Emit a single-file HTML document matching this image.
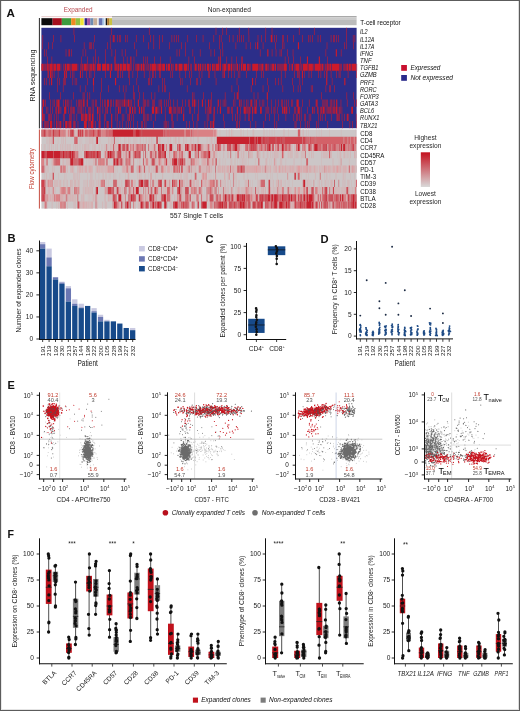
<!DOCTYPE html>
<html><head><meta charset="utf-8"><style>html,body{margin:0;padding:0;background:#fff;}svg{display:block;filter:blur(0.4px);}text{font-family:"Liberation Sans",sans-serif;}</style></head>
<body><svg width="520" height="711" viewBox="0 0 520 711">
<rect x="0" y="0" width="520" height="711" fill="#fff"/>
<text x="6.6" y="16.6" font-size="11.6" fill="#111" font-weight="bold">A</text>
<text x="63.8" y="12.1" font-size="7.2" fill="#b8474d" textLength="28.7" lengthAdjust="spacingAndGlyphs">Expanded</text>
<text x="207.8" y="12.3" font-size="7.2" fill="#1a1a1a" textLength="43" lengthAdjust="spacingAndGlyphs">Non-expanded</text>
<rect x="41.4" y="16" width="71.6" height="1.2" fill="#ead2d2"/>
<rect x="112" y="16" width="244.6" height="1.3" fill="#a9a9a9"/>
<rect x="112" y="17.3" width="244.6" height="2" fill="#cbcbcb"/>
<rect x="112" y="19.3" width="244.6" height="5.9" fill="#bcbcbc"/>
<rect x="41.4" y="18.2" width="11.25" height="7" fill="#0b0b0b"/>
<rect x="52.6" y="18.2" width="9.25" height="7" fill="#a50f1e"/>
<rect x="61.8" y="18.2" width="9.45" height="7" fill="#3d9b3f"/>
<rect x="71.2" y="18.2" width="4.55" height="7" fill="#ef8a22"/>
<rect x="75.7" y="18.2" width="4.65" height="7" fill="#8fc043"/>
<rect x="80.3" y="18.2" width="3.55" height="7" fill="#f1e433"/>
<rect x="83.8" y="18.2" width="0.85" height="7" fill="#e9e6ee"/>
<rect x="84.6" y="18.2" width="2.55" height="7" fill="#2e2a86"/>
<rect x="87.1" y="18.2" width="3.25" height="7" fill="#a452a2"/>
<rect x="90.3" y="18.2" width="3.15" height="7" fill="#6d8cb1"/>
<rect x="93.4" y="18.2" width="3.85" height="7" fill="#c6ad98"/>
<rect x="97.2" y="18.2" width="1.65" height="7" fill="#e6e6e6"/>
<rect x="98.8" y="18.2" width="3.85" height="7" fill="#6571b2"/>
<rect x="102.6" y="18.2" width="2.05" height="7" fill="#a9c9e9"/>
<rect x="104.6" y="18.2" width="1.15" height="7" fill="#efefef"/>
<rect x="105.7" y="18.2" width="1.55" height="7" fill="#141414"/>
<rect x="107.2" y="18.2" width="2.35" height="7" fill="#b27a2a"/>
<rect x="109.5" y="18.2" width="2.55" height="7" fill="#c9c243"/>
<text x="360.3" y="24.6" font-size="6.6" fill="#111" textLength="40.3" lengthAdjust="spacingAndGlyphs">T-cell receptor</text>
<rect x="41.4" y="27.8" width="315.2" height="100.4" fill="#2c2e89"/>
<text x="360" y="34.39" font-size="6.5" fill="#111" font-style="italic" textLength="7.6" lengthAdjust="spacingAndGlyphs">IL2</text>
<text x="360" y="41.56" font-size="6.5" fill="#111" font-style="italic" textLength="14.4" lengthAdjust="spacingAndGlyphs">IL12A</text>
<text x="360" y="48.73" font-size="6.5" fill="#111" font-style="italic" textLength="14.4" lengthAdjust="spacingAndGlyphs">IL17A</text>
<text x="360" y="55.9" font-size="6.5" fill="#111" font-style="italic" textLength="13.2" lengthAdjust="spacingAndGlyphs">IFNG</text>
<text x="360" y="63.07" font-size="6.5" fill="#111" font-style="italic" textLength="11.5" lengthAdjust="spacingAndGlyphs">TNF</text>
<text x="360" y="70.24" font-size="6.5" fill="#111" font-style="italic" textLength="18.4" lengthAdjust="spacingAndGlyphs">TGFB1</text>
<text x="360" y="77.41" font-size="6.5" fill="#111" font-style="italic" textLength="16.7" lengthAdjust="spacingAndGlyphs">GZMB</text>
<text x="360" y="84.59" font-size="6.5" fill="#111" font-style="italic" textLength="14.5" lengthAdjust="spacingAndGlyphs">PRF1</text>
<text x="360" y="91.76" font-size="6.5" fill="#111" font-style="italic" textLength="16.7" lengthAdjust="spacingAndGlyphs">RORC</text>
<text x="360" y="98.93" font-size="6.5" fill="#111" font-style="italic" textLength="18.8" lengthAdjust="spacingAndGlyphs">FOXP3</text>
<text x="360" y="106.1" font-size="6.5" fill="#111" font-style="italic" textLength="17.8" lengthAdjust="spacingAndGlyphs">GATA3</text>
<text x="360" y="113.27" font-size="6.5" fill="#111" font-style="italic" textLength="14.2" lengthAdjust="spacingAndGlyphs">BCL6</text>
<text x="360" y="120.44" font-size="6.5" fill="#111" font-style="italic" textLength="19.4" lengthAdjust="spacingAndGlyphs">RUNX1</text>
<text x="360" y="127.61" font-size="6.5" fill="#111" font-style="italic" textLength="17.5" lengthAdjust="spacingAndGlyphs">TBX21</text>
<path stroke="#cd1a2a" stroke-width="7.17" fill="none" d="M73.66 31.39h0.57m36.78 0h0.57m37.35 0h0.57m66.21 0h0.57m6.22 0h0.57m3.4 0h0.57m11.88 0h0.57m9.05 0h0.57m16.41 0h0.57m5.66 0h0.57m26.6 0h0.57m14.71 0h0.57m31.69 0h0.57M42.53 38.56h0.57m10.19 0h0.57m6.79 0h0.57m13.02 0h0.57m19.24 0h0.57m15.28 0h0.57m2.26 0h1.13m0.57 0h0.57m2.26 0h0.57m1.13 0h0.57m0.57 0h0.57m4.53 0h0.57m1.13 0h0.57m8.49 0h0.57m6.79 0h0.57m6.22 0h0.57m2.83 0h0.57m5.09 0h0.57m2.26 0h0.57m9.05 0h0.57m1.7 0h0.57m1.7 0h0.57m1.7 0h0.57m8.49 0h0.57m7.92 0h0.57m6.22 0h0.57m10.19 0h0.57m5.09 0h0.57m1.13 0h0.57m7.92 0h0.57m2.83 0h0.57m3.96 0h0.57m1.13 0h0.57m1.7 0h0.57m1.13 0h0.57m5.09 0h0.57m8.49 0h0.57m2.83 0h0.57m3.4 0h0.57m5.09 0h1.7m1.7 0h0.57m1.7 0h0.57m5.09 0h0.57m0.57 0h0.57m3.4 0h0.57m5.66 0h0.57m8.49 0h0.57m5.09 0h0.57m1.13 0h0.57m1.7 0h0.57m5.09 0h0.57m1.7 0h0.57m10.19 0h0.57m1.7 0h0.57m0.57 0h0.57m1.7 0h0.57m1.13 0h0.57m7.36 0h0.57m6.22 0h0.57m1.13 0h0.57M41.97 45.73h0.57m5.66 0h0.57m3.4 0h0.57m31.12 0h0.57m4.53 0h0.57m0.57 0h0.57m0.57 0h0.57m1.13 0h0.57m13.58 0h0.57m2.83 0h0.57m23.2 0h0.57m13.58 0h0.57m4.53 0h0.57m5.09 0h0.57m9.62 0h0.57m11.32 0h0.57m3.4 0h0.57m23.2 0h0.57m9.62 0h0.57m2.26 0h0.57m13.02 0h0.57m9.62 0h0.57m3.96 0h0.57m4.53 0h0.57m1.13 0h1.13m4.53 0h0.57m11.88 0h0.57m6.22 0h0.57m1.13 0h0.57m13.58 0h1.13m27.73 0h0.57m16.98 0h0.57m1.13 0h0.57m6.79 0h0.57M44.23 52.9h0.57m1.13 0h0.57m19.24 0h0.57m2.26 0h1.13m1.7 0h0.57m10.75 0h0.57m2.26 0h0.57m9.05 0h0.57m9.62 0h0.57m5.66 0h0.57m2.83 0h0.57m6.22 0h0.57m2.83 0h0.57m10.75 0h0.57m39.61 0h0.57m1.7 0h0.57m5.66 0h0.57m6.79 0h0.57m6.79 0h0.57m10.19 0h0.57m2.83 0h0.57m5.66 0h0.57m1.7 0h0.57m36.78 0h0.57m6.79 0h1.13m3.4 0h0.57m3.4 0h0.57m3.4 0h0.57m1.13 0h0.57m5.09 0h0.57m5.09 0h0.57m32.26 0h0.57m9.62 0h1.13m3.96 0h0.57M47.06 60.07h0.57m3.96 0h0.57m28.86 0h0.57m5.66 0h0.57m5.09 0h0.57m1.7 0h0.57m2.26 0h0.57m6.79 0h0.57m8.49 0h1.13m7.92 0h0.57m2.83 0h0.57m2.83 0h1.13m2.26 0h0.57m9.05 0h0.57m1.7 0h0.57m1.13 0h0.57m6.22 0h0.57m5.66 0h0.57m9.05 0h0.57m18.11 0h0.57m5.09 0h0.57m23.2 0h0.57m1.13 0h1.13m5.66 0h0.57m4.53 0h0.57m3.96 0h0.57m4.53 0h0.57m0.57 0h0.57m41.88 0h0.57m2.83 0h0.57m4.53 0h0.57m6.22 0h0.57m6.22 0h1.13m10.75 0h1.13m7.36 0h0.57M41.4 67.24h2.26m0.57 0h0.57m0.57 0h1.13m0.57 0h1.7m0.57 0h3.4m0.57 0h2.83m0.57 0h3.4m0.57 0h0.57m1.7 0h0.57m1.13 0h1.7m0.57 0h2.83m0.57 0h0.57m0.57 0h5.66m0.57 0h0.57m1.7 0h0.57m0.57 0h0.57m0.57 0h1.13m0.57 0h2.83m0.57 0h1.13m0.57 0h0.57m0.57 0h1.7m0.57 0h2.26m0.57 0h0.57m1.13 0h3.96m1.13 0h3.96m0.57 0h2.83m1.13 0h1.7m1.7 0h0.57m0.57 0h1.7m0.57 0h1.7m0.57 0h2.26m0.57 0h3.96m0.57 0h2.83m0.57 0h1.13m1.7 0h0.57m1.13 0h0.57m0.57 0h0.57m0.57 0h1.7m0.57 0h0.57m0.57 0h1.7m0.57 0h1.7m1.13 0h0.57m0.57 0h0.57m0.57 0h0.57m1.13 0h1.13m0.57 0h4.53m0.57 0h1.13m0.57 0h3.4m0.57 0h2.83m1.13 0h1.13m0.57 0h2.26m1.13 0h1.13m0.57 0h0.57m1.7 0h2.26m1.13 0h3.96m1.13 0h3.4m0.57 0h1.13m1.7 0h1.13m2.26 0h0.57m0.57 0h1.7m1.13 0h1.13m0.57 0h1.7m1.13 0h1.13m1.13 0h1.13m1.13 0h2.26m0.57 0h1.13m1.13 0h1.7m0.57 0h1.13m0.57 0h3.4m0.57 0h1.13m1.13 0h0.57m0.57 0h2.83m0.57 0h0.57m0.57 0h2.26m0.57 0h1.7m1.13 0h0.57m0.57 0h0.57m0.57 0h0.57m0.57 0h1.13m1.13 0h0.57m1.13 0h1.13m0.57 0h3.4m1.13 0h1.7m0.57 0h0.57m0.57 0h0.57m1.13 0h6.22m0.57 0h0.57m0.57 0h0.57m0.57 0h1.7m0.57 0h0.57m1.13 0h2.26m0.57 0h0.57m1.13 0h0.57m0.57 0h0.57m0.57 0h2.26m0.57 0h1.13m1.13 0h0.57m0.57 0h0.57m0.57 0h1.13m0.57 0h0.57m0.57 0h0.57m0.57 0h3.4m2.26 0h0.57m1.13 0h0.57m0.57 0h1.13m1.13 0h0.57m0.57 0h3.96m0.57 0h0.57m0.57 0h0.57m1.13 0h5.09m0.57 0h4.53m0.57 0h0.57m0.57 0h6.22m0.57 0h1.7m0.57 0h0.57m1.13 0h1.13m0.57 0h1.7m0.57 0h1.7m0.57 0h7.92m0.57 0h0.57m0.57 0h0.57m1.7 0h1.13m0.57 0h0.57m0.57 0h1.7m0.57 0h2.26m0.57 0h4.53m0.57 0h0.57M47.62 74.41h1.13m1.13 0h1.7m0.57 0h0.57m1.13 0h0.57m3.4 0h0.57m5.66 0h1.13m0.57 0h1.13m3.4 0h0.57m1.13 0h0.57m1.13 0h0.57m5.66 0h1.13m1.13 0h0.57m3.4 0h0.57m2.26 0h0.57m1.13 0h0.57m2.83 0h0.57m10.75 0h0.57m3.96 0h1.13m6.22 0h0.57m0.57 0h0.57m1.13 0h0.57m1.7 0h0.57m5.09 0h0.57m0.57 0h0.57m2.83 0h0.57m3.96 0h0.57m6.22 0h0.57m5.09 0h0.57m2.26 0h1.13m1.7 0h0.57m3.4 0h0.57m0.57 0h0.57m9.62 0h0.57m1.13 0h0.57m6.79 0h0.57m5.09 0h0.57m3.4 0h0.57m1.7 0h0.57m6.79 0h0.57m2.26 0h0.57m6.22 0h1.13m5.09 0h0.57m7.36 0h0.57m0.57 0h1.13m3.4 0h0.57m2.26 0h0.57m2.26 0h0.57m3.4 0h0.57m1.13 0h0.57m6.22 0h0.57m9.05 0h0.57m4.53 0h0.57m1.7 0h0.57m16.98 0h0.57m3.4 0h0.57m8.49 0h0.57m2.83 0h1.13m0.57 0h0.57m2.26 0h1.13m1.13 0h0.57m3.96 0h0.57m1.7 0h0.57m6.79 0h0.57m1.7 0h0.57m2.83 0h0.57m1.7 0h1.13m3.4 0h0.57m5.09 0h0.57m1.7 0h0.57m0.57 0h0.57m7.36 0h0.57m7.92 0h0.57M44.23 81.59h0.57m1.13 0h0.57m2.83 0h0.57m1.13 0h1.13m5.09 0h0.57m1.13 0h0.57m3.96 0h1.13m0.57 0h0.57m6.79 0h0.57m1.7 0h0.57m1.13 0h0.57m10.19 0h0.57m5.09 0h1.13m7.36 0h0.57m13.02 0h1.13m13.02 0h0.57m6.79 0h0.57m11.32 0h1.13m1.7 0h0.57m10.19 0h0.57m1.7 0h0.57m15.28 0h0.57m1.13 0h0.57m7.92 0h0.57m5.09 0h0.57m0.57 0h0.57m2.83 0h0.57m14.71 0h0.57m20.37 0h0.57m14.71 0h1.13m2.26 0h0.57m11.32 0h0.57m7.36 0h0.57m2.26 0h0.57m2.26 0h0.57m10.75 0h0.57m6.79 0h0.57m2.26 0h0.57m23.2 0h1.13m4.53 0h0.57m11.88 0h1.13M57.24 88.76h0.57m5.09 0h0.57m16.41 0h0.57m5.09 0h0.57m7.36 0h0.57m7.36 0h0.57m6.22 0h0.57m10.19 0h0.57m3.4 0h0.57m2.26 0h0.57m6.79 0h0.57m4.53 0h0.57m19.81 0h0.57m2.83 0h0.57m1.7 0h0.57m0.57 0h0.57m20.94 0h0.57m44.14 0h0.57m6.22 0h0.57m11.88 0h0.57m11.32 0h0.57m5.09 0h0.57m13.58 0h0.57m10.19 0h0.57m3.96 0h0.57m1.7 0h0.57m10.19 0h0.57m0.57 0h0.57m13.02 0h0.57m2.83 0h0.57m0.57 0h0.57m3.4 0h0.57M49.32 95.93h0.57m10.19 0h0.57m12.45 0h0.57m9.05 0h0.57m0.57 0h0.57m2.83 0h0.57m1.7 0h0.57m10.19 0h0.57m23.77 0h0.57m7.92 0h0.57m0.57 0h0.57m4.53 0h0.57m3.4 0h0.57m7.36 0h0.57m2.83 0h0.57m14.15 0h0.57m22.07 0h0.57m1.13 0h0.57m9.05 0h0.57m7.36 0h0.57m13.02 0h0.57m9.05 0h0.57m1.7 0h1.13m0.57 0h0.57m14.71 0h0.57m3.4 0h0.57m8.49 0h1.13m53.19 0h0.57m24.9 0h0.57m6.22 0h0.57M42.53 103.1h1.7m1.13 0h0.57m4.53 0h0.57m1.7 0h0.57m1.13 0h0.57m1.13 0h0.57m0.57 0h2.26m3.4 0h0.57m1.7 0h1.13m1.13 0h0.57m0.57 0h0.57m1.7 0h0.57m5.09 0h0.57m1.13 0h0.57m0.57 0h1.13m0.57 0h0.57m1.13 0h1.13m0.57 0h0.57m1.7 0h1.13m3.96 0h0.57m1.13 0h0.57m1.13 0h0.57m0.57 0h0.57m3.4 0h0.57m1.13 0h0.57m1.7 0h0.57m0.57 0h0.57m1.13 0h1.7m1.13 0h0.57m0.57 0h0.57m1.7 0h0.57m1.7 0h1.13m0.57 0h0.57m0.57 0h0.57m0.57 0h0.57m0.57 0h0.57m1.13 0h0.57m0.57 0h1.7m0.57 0h0.57m1.13 0h1.7m0.57 0h0.57m0.57 0h0.57m2.83 0h0.57m2.83 0h1.13m3.96 0h0.57m0.57 0h0.57m0.57 0h0.57m1.13 0h0.57m1.13 0h0.57m2.83 0h0.57m0.57 0h0.57m0.57 0h0.57m3.96 0h0.57m1.13 0h1.13m2.83 0h0.57m1.13 0h0.57m1.7 0h0.57m1.13 0h0.57m2.83 0h0.57m2.83 0h0.57m4.53 0h0.57m2.83 0h0.57m2.26 0h0.57m0.57 0h0.57m2.26 0h1.13m0.57 0h1.13m0.57 0h0.57m2.26 0h0.57m2.83 0h1.13m2.26 0h0.57m2.26 0h1.13m1.13 0h0.57m0.57 0h0.57m5.66 0h1.13m1.7 0h0.57m1.7 0h0.57m1.13 0h0.57m0.57 0h0.57m6.79 0h0.57m1.13 0h0.57m3.96 0h1.13m1.13 0h0.57m1.7 0h0.57m1.7 0h0.57m1.13 0h0.57m1.7 0h0.57m0.57 0h1.13m2.26 0h0.57m0.57 0h1.13m2.83 0h0.57m1.7 0h0.57m1.13 0h0.57m2.83 0h0.57m3.4 0h0.57m3.96 0h0.57m2.26 0h0.57m2.26 0h0.57m0.57 0h0.57m1.7 0h0.57m1.13 0h0.57m1.13 0h0.57m2.83 0h0.57m0.57 0h0.57m3.4 0h2.26m3.4 0h0.57m6.22 0h0.57m6.22 0h1.13m0.57 0h0.57m4.53 0h0.57m0.57 0h0.57m0.57 0h0.57m0.57 0h0.57m0.57 0h0.57m2.26 0h0.57m0.57 0h0.57m1.13 0h0.57m1.13 0h0.57m1.13 0h1.13m3.4 0h0.57m5.66 0h0.57m6.79 0h0.57m1.13 0h0.57M41.97 110.27h1.13m2.83 0h0.57m1.13 0h0.57m2.26 0h0.57m1.13 0h0.57m2.83 0h1.13m1.13 0h1.13m0.57 0h0.57m0.57 0h0.57m2.83 0h2.26m1.7 0h0.57m1.7 0h0.57m0.57 0h0.57m0.57 0h1.13m0.57 0h0.57m2.83 0h0.57m0.57 0h0.57m1.13 0h1.13m1.13 0h0.57m1.7 0h0.57m2.83 0h1.13m0.57 0h0.57m1.13 0h0.57m0.57 0h0.57m3.4 0h1.13m0.57 0h0.57m0.57 0h0.57m2.26 0h0.57m2.26 0h0.57m0.57 0h1.13m2.26 0h0.57m5.09 0h0.57m1.7 0h1.13m0.57 0h1.13m5.09 0h0.57m2.83 0h1.7m1.13 0h1.13m1.13 0h0.57m0.57 0h0.57m2.83 0h1.13m1.13 0h1.13m1.13 0h1.13m7.36 0h2.26m1.13 0h2.26m1.13 0h0.57m1.7 0h1.13m2.83 0h0.57m3.4 0h2.83m1.13 0h0.57m0.57 0h0.57m0.57 0h0.57m1.13 0h0.57m0.57 0h0.57m0.57 0h0.57m1.13 0h1.13m1.7 0h0.57m5.09 0h0.57m0.57 0h0.57m3.4 0h0.57m3.4 0h0.57m6.22 0h0.57m1.13 0h0.57m1.13 0h1.13m0.57 0h1.13m2.26 0h1.13m2.26 0h0.57m2.26 0h1.13m6.22 0h0.57m0.57 0h1.13m1.7 0h0.57m0.57 0h0.57m3.96 0h1.13m2.26 0h0.57m2.83 0h2.26m0.57 0h1.13m0.57 0h0.57m0.57 0h1.13m1.7 0h1.13m1.13 0h2.26m3.4 0h1.7m3.96 0h0.57m0.57 0h0.57m1.13 0h0.57m2.26 0h0.57m1.7 0h0.57m0.57 0h0.57m1.7 0h0.57m4.53 0h1.13m0.57 0h1.7m0.57 0h1.13m1.7 0h0.57m4.53 0h0.57m0.57 0h0.57m1.13 0h0.57m0.57 0h1.7m1.13 0h0.57m5.66 0h0.57m4.53 0h1.13m1.13 0h0.57m2.26 0h1.13m1.7 0h0.57m0.57 0h1.13m0.57 0h1.7m1.13 0h0.57m1.13 0h1.13m0.57 0h0.57m0.57 0h1.13m1.13 0h1.13m0.57 0h1.13m0.57 0h1.13m0.57 0h0.57m1.13 0h1.13m1.13 0h0.57m9.05 0h1.7M41.97 117.44h1.7m0.57 0h0.57m3.4 0h0.57m0.57 0h1.13m0.57 0h0.57m2.26 0h0.57m1.7 0h0.57m1.13 0h0.57m4.53 0h0.57m0.57 0h0.57m4.53 0h0.57m0.57 0h0.57m0.57 0h0.57m1.7 0h0.57m2.26 0h0.57m3.96 0h1.7m0.57 0h1.13m0.57 0h2.26m0.57 0h0.57m0.57 0h1.7m1.13 0h1.7m3.4 0h0.57m1.7 0h1.13m3.96 0h0.57m0.57 0h0.57m5.09 0h1.13m3.4 0h0.57m1.13 0h0.57m3.96 0h0.57m1.13 0h0.57m3.4 0h0.57m0.57 0h1.13m1.13 0h0.57m1.7 0h0.57m9.62 0h1.13m1.13 0h0.57m1.13 0h0.57m0.57 0h0.57m1.7 0h0.57m3.96 0h0.57m9.05 0h0.57m5.66 0h0.57m0.57 0h0.57m3.96 0h0.57m5.66 0h1.13m7.92 0h0.57m4.53 0h0.57m0.57 0h0.57m7.92 0h0.57m1.13 0h0.57m3.96 0h0.57m0.57 0h0.57m8.49 0h0.57m8.49 0h0.57m2.26 0h0.57m1.7 0h0.57m1.7 0h0.57m4.53 0h0.57m2.83 0h0.57m0.57 0h0.57m2.26 0h0.57m12.45 0h0.57m3.4 0h0.57m4.53 0h0.57m3.4 0h0.57m6.79 0h0.57m7.36 0h0.57m2.26 0h0.57m0.57 0h0.57m1.13 0h0.57m1.13 0h0.57m2.83 0h0.57m0.57 0h0.57m2.83 0h0.57m1.13 0h0.57m7.36 0h0.57m1.13 0h0.57m1.13 0h0.57m2.83 0h0.57m5.09 0h0.57m5.09 0h1.13m0.57 0h0.57m0.57 0h0.57m1.7 0h0.57m1.7 0h0.57m2.26 0h1.13m0.57 0h0.57m6.79 0h0.57M41.97 124.61h0.57m1.7 0h0.57m0.57 0h1.13m0.57 0h0.57m0.57 0h0.57m1.13 0h2.26m1.7 0h0.57m1.7 0h1.13m0.57 0h0.57m0.57 0h0.57m0.57 0h1.13m1.7 0h0.57m1.7 0h2.26m0.57 0h0.57m0.57 0h2.26m1.7 0h0.57m0.57 0h1.13m2.26 0h0.57m5.66 0h2.83m1.7 0h0.57m0.57 0h0.57m0.57 0h2.26m0.57 0h0.57m1.13 0h0.57m2.83 0h1.13m0.57 0h0.57m3.4 0h0.57m1.7 0h1.13m0.57 0h0.57m2.26 0h1.13m4.53 0h0.57m2.26 0h0.57m2.26 0h0.57m2.83 0h0.57m1.7 0h0.57m1.7 0h0.57m2.26 0h0.57m3.4 0h0.57m3.4 0h0.57m0.57 0h0.57m1.13 0h0.57m1.13 0h0.57m6.79 0h0.57m10.19 0h0.57m0.57 0h0.57m0.57 0h0.57m1.13 0h0.57m3.4 0h0.57m0.57 0h0.57m13.02 0h0.57m2.26 0h0.57m3.4 0h0.57m2.83 0h0.57m7.36 0h0.57m1.7 0h0.57m2.83 0h1.13m1.13 0h1.7m9.62 0h0.57m11.88 0h0.57m0.57 0h0.57m1.13 0h0.57m10.19 0h0.57m5.09 0h0.57m7.36 0h0.57m10.19 0h0.57m1.7 0h0.57m17.54 0h0.57m0.57 0h0.57m3.96 0h0.57m3.96 0h0.57m1.7 0h0.57m1.13 0h0.57m6.79 0h0.57m1.13 0h0.57m9.05 0h0.57m14.15 0h0.57m6.79 0h0.57m2.26 0h0.57m3.4 0h0.57"/>
<rect x="401.2" y="65" width="5.7" height="5.8" fill="#c8102e"/>
<text x="410.4" y="70.3" font-size="6.6" fill="#111" font-style="italic" textLength="30" lengthAdjust="spacingAndGlyphs">Expressed</text>
<rect x="401.2" y="75" width="5.7" height="5.8" fill="#2a2a8a"/>
<text x="410.4" y="80.3" font-size="6.6" fill="#111" font-style="italic" textLength="42.6" lengthAdjust="spacingAndGlyphs">Not expressed</text>
<text x="360.2" y="136.1" font-size="6.5" fill="#111" textLength="12.3" lengthAdjust="spacingAndGlyphs">CD8</text>
<text x="360.2" y="143.29" font-size="6.5" fill="#111" textLength="12.3" lengthAdjust="spacingAndGlyphs">CD4</text>
<text x="360.2" y="150.48" font-size="6.5" fill="#111" textLength="16.6" lengthAdjust="spacingAndGlyphs">CCR7</text>
<text x="360.2" y="157.67" font-size="6.5" fill="#111" textLength="24.2" lengthAdjust="spacingAndGlyphs">CD45RA</text>
<text x="360.2" y="164.86" font-size="6.5" fill="#111" textLength="15.6" lengthAdjust="spacingAndGlyphs">CD57</text>
<text x="360.2" y="172.05" font-size="6.5" fill="#111" textLength="14" lengthAdjust="spacingAndGlyphs">PD-1</text>
<text x="360.2" y="179.24" font-size="6.5" fill="#111" textLength="15.9" lengthAdjust="spacingAndGlyphs">TIM-3</text>
<text x="360.2" y="186.43" font-size="6.5" fill="#111" textLength="15.6" lengthAdjust="spacingAndGlyphs">CD39</text>
<text x="360.2" y="193.62" font-size="6.5" fill="#111" textLength="15.6" lengthAdjust="spacingAndGlyphs">CD38</text>
<text x="360.2" y="200.81" font-size="6.5" fill="#111" textLength="15.5" lengthAdjust="spacingAndGlyphs">BTLA</text>
<text x="360.2" y="208" font-size="6.5" fill="#111" textLength="15.6" lengthAdjust="spacingAndGlyphs">CD28</text>
<rect x="41.4" y="129.5" width="315.2" height="79.1" fill="rgb(204,198,199)"/>
<path stroke="rgb(210,185,186)" stroke-width="7.19" fill="none" d="M65.73 133.1h0.57m8.49 0h2.83m139.77 0h0.57m1.7 0h0.57m6.22 0h0.57m1.7 0h1.13m1.13 0h1.13m0.57 0h0.57m6.79 0h0.57m0.57 0h0.57m1.7 0h0.57m3.4 0h0.57m4.53 0h1.7m9.05 0h0.57m0.57 0h0.57m1.7 0h0.57m2.26 0h0.57m1.7 0h0.57m1.7 0h0.57m8.49 0h0.57m0.57 0h0.57m3.4 0h0.57m11.32 0h0.57m1.7 0h1.7m2.26 0h0.57m1.13 0h0.57m7.92 0h0.57m1.7 0h0.57m1.7 0h0.57m7.36 0h0.57m11.32 0h0.57m14.15 0h0.57M46.49 140.29h1.13m1.7 0h1.7m0.57 0h0.57m5.66 0h0.57m2.83 0h1.13m0.57 0h1.13m15.28 0h0.57m0.57 0h0.57m0.57 0h0.57m3.4 0h0.57m0.57 0h0.57m0.57 0h0.57m1.7 0h0.57m0.57 0h1.7m0.57 0h0.57m1.13 0h0.57m2.83 0h0.57m0.57 0h0.57m7.92 0h1.13m1.13 0h2.26m2.83 0h0.57m0.57 0h0.57m0.57 0h0.57m1.7 0h0.57m3.4 0h1.13m0.57 0h0.57m1.7 0h1.13m0.57 0h0.57m2.83 0h0.57m0.57 0h0.57m0.57 0h0.57m0.57 0h0.57m6.22 0h0.57m1.7 0h1.13m1.7 0h1.13m1.13 0h1.7m1.13 0h0.57m4.53 0h1.13m0.57 0h0.57m6.79 0h0.57m1.7 0h1.13m2.26 0h1.13m1.13 0h1.13m2.26 0h1.13m2.83 0h1.13m0.57 0h0.57m1.13 0h0.57m3.4 0h1.13m1.7 0h0.57m4.53 0h0.57m7.92 0h0.57m2.26 0h0.57m0.57 0h1.7m1.7 0h1.13m0.57 0h0.57M41.4 147.48h0.57m1.7 0h1.13m0.57 0h0.57m1.7 0h0.57m0.57 0h1.13m1.13 0h1.13m1.13 0h0.57m1.13 0h0.57m1.13 0h1.13m2.26 0h1.13m0.57 0h1.13m0.57 0h0.57m0.57 0h1.7m0.57 0h1.7m0.57 0h1.7m2.26 0h1.13m0.57 0h1.7m0.57 0h1.13m1.13 0h0.57m0.57 0h0.57m1.13 0h1.13m2.26 0h1.13m0.57 0h1.7m0.57 0h0.57m2.26 0h1.13m0.57 0h1.7m2.83 0h1.13m1.7 0h0.57m0.57 0h0.57m1.13 0h2.26m2.26 0h0.57m0.57 0h0.57m0.57 0h1.7m2.26 0h0.57m0.57 0h0.57m0.57 0h1.13m2.83 0h1.13m6.22 0h0.57m4.53 0h0.57m9.05 0h0.57m3.96 0h0.57m0.57 0h0.57m0.57 0h1.7m0.57 0h0.57m3.4 0h1.7m3.4 0h0.57m2.26 0h0.57m2.83 0h0.57m3.96 0h0.57m2.26 0h0.57m5.09 0h0.57m0.57 0h0.57m0.57 0h0.57m0.57 0h1.13m19.24 0h0.57m0.57 0h0.57m2.83 0h0.57m1.13 0h0.57m5.09 0h0.57m4.53 0h1.7m1.13 0h2.83m3.96 0h0.57m7.92 0h1.13m0.57 0h1.13m0.57 0h2.26m2.83 0h0.57m1.13 0h0.57m6.79 0h0.57m1.13 0h0.57m6.79 0h0.57m4.53 0h1.13m2.26 0h0.57m15.28 0h0.57m0.57 0h1.13m1.13 0h0.57m0.57 0h1.13m9.62 0h1.13m0.57 0h0.57m30.56 0h0.57m1.13 0h0.57m1.13 0h0.57m7.36 0h0.57m1.13 0h0.57m2.26 0h0.57m1.13 0h0.57M79.31 154.67h1.13m0.57 0h0.57m22.07 0h1.13m10.75 0h1.13m5.66 0h0.57m1.7 0h1.13m4.53 0h1.7m0.57 0h0.57m7.36 0h0.57m3.4 0h0.57m1.13 0h1.7m1.13 0h0.57m4.53 0h0.57m1.7 0h1.13m10.19 0h0.57m2.26 0h1.13m5.66 0h0.57m5.09 0h2.26m2.26 0h0.57m3.96 0h0.57m3.96 0h1.13m1.13 0h1.13m1.7 0h0.57m8.49 0h2.83m1.7 0h0.57m0.57 0h1.13m2.26 0h0.57m2.83 0h1.13m2.83 0h1.7m6.22 0h1.13m0.57 0h0.57m2.26 0h0.57m0.57 0h1.7m0.57 0h0.57m1.13 0h0.57m1.13 0h0.57m2.26 0h0.57m1.7 0h0.57m3.96 0h1.7m0.57 0h0.57m1.13 0h0.57m2.26 0h1.7m2.26 0h1.7m1.7 0h1.13m1.13 0h1.13m0.57 0h0.57m0.57 0h3.4m1.13 0h0.57m0.57 0h1.13m1.7 0h0.57m3.4 0h1.13m0.57 0h0.57m1.13 0h1.7m1.7 0h1.13m0.57 0h0.57m0.57 0h0.57m0.57 0h0.57m1.7 0h4.53m3.4 0h1.13m2.83 0h1.13m7.36 0h1.13m0.57 0h5.09m9.62 0h0.57m1.13 0h0.57m1.13 0h0.57m1.7 0h1.13m0.57 0h0.57m1.13 0h1.13m0.57 0h0.57m6.22 0h1.7M45.36 161.86h0.57m5.09 0h0.57m0.57 0h0.57m9.62 0h0.57m0.57 0h0.57m0.57 0h0.57m0.57 0h3.4m0.57 0h0.57m7.36 0h0.57m7.92 0h0.57m1.13 0h0.57m1.13 0h0.57m0.57 0h0.57m0.57 0h0.57m0.57 0h0.57m0.57 0h0.57m2.83 0h0.57m6.79 0h1.7m2.26 0h0.57m14.71 0h1.13m5.09 0h2.26m1.7 0h0.57m2.26 0h0.57m1.13 0h1.7m1.7 0h0.57m2.26 0h0.57m3.96 0h0.57m1.13 0h0.57m3.96 0h0.57m0.57 0h1.13m3.96 0h2.26m3.4 0h2.26m1.13 0h0.57m5.66 0h0.57m7.36 0h1.13m0.57 0h2.83m0.57 0h0.57m3.96 0h0.57m2.26 0h0.57m0.57 0h0.57m1.7 0h1.13m3.96 0h0.57m3.4 0h0.57m0.57 0h0.57m2.26 0h1.13m0.57 0h0.57m2.26 0h1.7m2.26 0h0.57m1.7 0h0.57m4.53 0h0.57m0.57 0h1.13m1.7 0h0.57m0.57 0h0.57m1.7 0h0.57m1.7 0h0.57m0.57 0h0.57m0.57 0h1.7m0.57 0h0.57m0.57 0h0.57m0.57 0h0.57m1.13 0h0.57m6.22 0h0.57m9.62 0h1.13m0.57 0h0.57m1.7 0h0.57m1.13 0h0.57m2.26 0h0.57m1.7 0h0.57m3.4 0h2.26m3.4 0h0.57m7.36 0h1.13m6.22 0h0.57m19.81 0h0.57m10.19 0h0.57m0.57 0h0.57m5.09 0h0.57m1.13 0h0.57m7.92 0h0.57m6.22 0h0.57M44.8 169.05h1.7m0.57 0h0.57m0.57 0h0.57m3.4 0h1.13m1.13 0h0.57m10.75 0h0.57m0.57 0h1.13m2.83 0h0.57m1.7 0h1.13m3.96 0h0.57m2.26 0h0.57m2.26 0h1.13m2.83 0h1.13m2.83 0h0.57m3.96 0h0.57m1.13 0h0.57m1.13 0h1.7m0.57 0h0.57m0.57 0h2.26m0.57 0h0.57m7.36 0h0.57m1.13 0h0.57m1.13 0h0.57m3.96 0h0.57m3.4 0h0.57m2.26 0h1.13m0.57 0h0.57m5.09 0h1.13m1.13 0h0.57m1.7 0h0.57m1.7 0h0.57m1.7 0h1.13m0.57 0h0.57m2.26 0h0.57m0.57 0h1.13m0.57 0h0.57m0.57 0h2.26m2.83 0h2.83m2.83 0h1.13m1.13 0h0.57m3.4 0h1.7m6.22 0h0.57m1.13 0h0.57m2.26 0h0.57m0.57 0h2.26m1.7 0h0.57m2.83 0h3.96m0.57 0h0.57m1.13 0h0.57m3.4 0h0.57m0.57 0h0.57m0.57 0h0.57m0.57 0h0.57m0.57 0h0.57m0.57 0h0.57m1.7 0h1.7m1.13 0h0.57m0.57 0h0.57m2.26 0h1.7m1.13 0h0.57m1.13 0h1.13m1.13 0h0.57m1.13 0h1.7m2.26 0h1.7m3.96 0h2.26m7.92 0h0.57m14.71 0h0.57m0.57 0h1.13m1.13 0h0.57m3.4 0h0.57m0.57 0h1.7m2.26 0h1.7m0.57 0h0.57m1.7 0h0.57m1.13 0h0.57m1.7 0h1.13m4.53 0h0.57m0.57 0h1.13m0.57 0h0.57m1.7 0h0.57m2.26 0h1.7m6.22 0h0.57m5.09 0h0.57m2.83 0h2.26m1.7 0h2.83m0.57 0h0.57m0.57 0h2.26m1.7 0h0.57m2.83 0h0.57m1.13 0h0.57m1.13 0h1.7m2.83 0h0.57m2.83 0h0.57m2.83 0h1.13m1.13 0h0.57m5.09 0h1.13m3.96 0h1.7M44.23 176.24h0.57m1.13 0h1.13m2.26 0h0.57m0.57 0h0.57m0.57 0h1.13m5.66 0h0.57m5.09 0h0.57m1.13 0h0.57m6.79 0h1.7m0.57 0h1.13m0.57 0h1.13m0.57 0h1.13m7.36 0h0.57m2.26 0h1.7m0.57 0h0.57m2.26 0h0.57m2.83 0h0.57m3.4 0h1.13m1.7 0h1.13m2.26 0h0.57m0.57 0h0.57m2.83 0h1.13m1.13 0h0.57m3.4 0h0.57m5.09 0h0.57m1.7 0h1.13m8.49 0h0.57m1.13 0h1.7m0.57 0h0.57m2.83 0h1.13m2.83 0h0.57m6.22 0h0.57m6.22 0h1.13m9.62 0h0.57m4.53 0h0.57m1.7 0h1.7m1.7 0h1.13m0.57 0h2.83m3.4 0h0.57m9.05 0h0.57m6.22 0h0.57m1.13 0h0.57m0.57 0h0.57m1.7 0h0.57m2.26 0h0.57m9.05 0h0.57m1.13 0h0.57m5.09 0h0.57m0.57 0h1.7m0.57 0h0.57m6.22 0h0.57m0.57 0h0.57m2.83 0h0.57m7.36 0h0.57m1.13 0h0.57m9.05 0h0.57m2.83 0h0.57m1.13 0h0.57m4.53 0h0.57m10.75 0h0.57m12.45 0h0.57m3.96 0h0.57m1.7 0h0.57m6.22 0h1.13m8.49 0h0.57m1.13 0h1.13m2.26 0h0.57m5.09 0h0.57m0.57 0h0.57m5.66 0h1.7m0.57 0h0.57m4.53 0h0.57m3.4 0h0.57M45.93 183.43h1.13m6.79 0h4.53m0.57 0h1.7m2.26 0h1.7m1.13 0h0.57m5.09 0h0.57m2.83 0h0.57m1.13 0h1.13m1.13 0h1.13m3.4 0h0.57m0.57 0h1.13m0.57 0h0.57m2.26 0h2.83m1.13 0h1.13m0.57 0h0.57m1.13 0h1.13m0.57 0h1.13m0.57 0h1.13m5.66 0h0.57m1.13 0h0.57m9.05 0h0.57m1.13 0h0.57m1.13 0h1.13m6.22 0h0.57m4.53 0h0.57m0.57 0h1.13m7.36 0h1.13m6.22 0h1.13m2.26 0h0.57m2.26 0h1.13m5.09 0h0.57m3.4 0h2.26m7.92 0h0.57m2.26 0h0.57m2.26 0h0.57m1.13 0h0.57m0.57 0h2.26m0.57 0h1.13m2.26 0h1.13m1.7 0h0.57m0.57 0h0.57m0.57 0h1.13m5.09 0h1.13m2.26 0h1.13m1.13 0h0.57m5.09 0h0.57m0.57 0h0.57m1.7 0h0.57m2.83 0h1.13m0.57 0h0.57m0.57 0h1.7m1.13 0h0.57m0.57 0h0.57m1.13 0h1.13m1.7 0h0.57m0.57 0h0.57m1.13 0h1.13m1.7 0h1.13m5.09 0h3.4m2.26 0h0.57m1.13 0h0.57m4.53 0h0.57m0.57 0h2.26m11.32 0h0.57m0.57 0h1.13m1.7 0h1.13m0.57 0h1.13m1.7 0h0.57m0.57 0h0.57m1.7 0h0.57m1.13 0h0.57m1.7 0h0.57m0.57 0h0.57m2.83 0h0.57m9.62 0h0.57m2.26 0h0.57m0.57 0h1.13m0.57 0h1.7m0.57 0h1.13m6.22 0h0.57m0.57 0h1.13m1.13 0h1.13m2.26 0h1.7m0.57 0h0.57m1.13 0h0.57m1.13 0h1.13m0.57 0h1.13m9.05 0h0.57m0.57 0h0.57m0.57 0h1.13m1.7 0h1.7m0.57 0h0.57m1.13 0h0.57m2.83 0h1.7M45.36 190.62h1.13m1.13 0h0.57m0.57 0h0.57m0.57 0h0.57m0.57 0h0.57m0.57 0h0.57m1.7 0h1.13m3.96 0h0.57m5.66 0h0.57m0.57 0h0.57m2.83 0h0.57m0.57 0h1.7m4.53 0h0.57m4.53 0h1.7m1.13 0h2.83m1.7 0h2.26m21.5 0h0.57m0.57 0h1.7m6.22 0h0.57m0.57 0h0.57m0.57 0h0.57m0.57 0h0.57m3.4 0h0.57m1.13 0h0.57m6.22 0h0.57m0.57 0h1.7m2.26 0h1.13m0.57 0h1.13m0.57 0h0.57m1.13 0h1.13m3.4 0h0.57m3.96 0h1.13m0.57 0h0.57m0.57 0h0.57m0.57 0h0.57m1.13 0h1.7m0.57 0h1.13m3.4 0h1.7m7.92 0h0.57m0.57 0h1.13m0.57 0h2.26m4.53 0h0.57m6.22 0h2.26m2.83 0h1.13m1.7 0h0.57m2.26 0h0.57m4.53 0h1.13m0.57 0h0.57m0.57 0h0.57m1.7 0h0.57m2.26 0h0.57m0.57 0h1.13m1.7 0h0.57m0.57 0h1.13m0.57 0h1.7m1.7 0h1.13m0.57 0h1.13m1.7 0h0.57m1.7 0h0.57m1.7 0h0.57m0.57 0h4.53m2.83 0h0.57m0.57 0h0.57m3.4 0h1.13m0.57 0h0.57m1.13 0h1.7m0.57 0h0.57m1.13 0h0.57m0.57 0h1.13m1.7 0h0.57m2.26 0h1.13m2.26 0h0.57m1.13 0h2.26m0.57 0h1.7m2.26 0h0.57m0.57 0h0.57m2.83 0h0.57m1.13 0h0.57m0.57 0h1.13m1.13 0h0.57m0.57 0h0.57m0.57 0h1.13m1.13 0h1.13m1.7 0h1.7m2.26 0h1.7m0.57 0h0.57m2.83 0h0.57m2.83 0h1.7m7.92 0h0.57m0.57 0h0.57m0.57 0h1.13m1.7 0h0.57m2.83 0h0.57m2.26 0h2.83m1.13 0h1.7m0.57 0h3.96m0.57 0h2.83m1.13 0h1.13m2.26 0h1.7m0.57 0h0.57m0.57 0h1.13m0.57 0h1.7m1.13 0h0.57M45.93 197.81h0.57m1.13 0h0.57m1.13 0h0.57m1.13 0h0.57m1.7 0h0.57m9.05 0h0.57m0.57 0h1.7m2.26 0h0.57m0.57 0h1.13m0.57 0h1.13m0.57 0h1.13m0.57 0h0.57m1.7 0h1.13m3.4 0h1.7m1.13 0h0.57m3.4 0h0.57m0.57 0h0.57m1.13 0h0.57m1.13 0h1.13m0.57 0h0.57m1.7 0h0.57m0.57 0h0.57m6.22 0h1.7m1.7 0h0.57m1.13 0h2.26m0.57 0h0.57m9.05 0h3.4m2.26 0h0.57m1.7 0h0.57m5.66 0h1.7m6.22 0h1.13m0.57 0h0.57m1.7 0h0.57m3.4 0h0.57m4.53 0h0.57m0.57 0h0.57m0.57 0h2.26m10.19 0h0.57m1.7 0h1.13m0.57 0h0.57m0.57 0h0.57m1.13 0h0.57m2.26 0h1.7m0.57 0h1.7m6.22 0h3.96m0.57 0h0.57m3.4 0h0.57m1.7 0h0.57m0.57 0h0.57m0.57 0h0.57m0.57 0h1.13m1.7 0h0.57m4.53 0h1.13m0.57 0h0.57m5.09 0h1.13m9.62 0h0.57m17.54 0h0.57m2.26 0h0.57m49.23 0h0.57m13.58 0h0.57m1.7 0h0.57M46.49 205h1.13m3.96 0h1.13m3.4 0h0.57m1.13 0h1.7m7.36 0h1.13m5.09 0h0.57m0.57 0h1.7m3.96 0h0.57m0.57 0h0.57m1.13 0h0.57m1.13 0h0.57m0.57 0h0.57m1.13 0h1.13m0.57 0h2.26m3.96 0h0.57m0.57 0h1.7m3.96 0h1.13m2.26 0h1.7m13.02 0h0.57m1.7 0h1.7m0.57 0h0.57m0.57 0h0.57m2.26 0h0.57m5.09 0h1.7m1.7 0h2.83m3.4 0h0.57m0.57 0h0.57m3.4 0h0.57m19.81 0h1.13m1.13 0h0.57m0.57 0h0.57m16.41 0h0.57m6.22 0h1.13m1.13 0h0.57m8.49 0h0.57m3.96 0h0.57m37.91 0h1.13m10.75 0h0.57m0.57 0h1.13m25.46 0h0.57m0.57 0h0.57m25.46 0h0.57m1.7 0h1.13m9.05 0h0.57m1.13 0h0.57m1.7 0h0.57m5.09 0h0.57"/>
<path stroke="rgb(216,172,174)" stroke-width="7.19" fill="none" d="M66.3 133.1h1.13M48.76 140.29h0.57m1.7 0h0.57m13.58 0h0.57m23.77 0h0.57m49.8 0h0.57m34.52 0h0.57m2.83 0h0.57m18.67 0h0.57M84.41 147.48h1.13m22.07 0h0.57m2.26 0h0.57m2.83 0h1.13m0.57 0h0.57m0.57 0h0.57m8.49 0h0.57m7.92 0h1.7m8.49 0h0.57m4.53 0h0.57m1.7 0h0.57m0.57 0h1.13m1.13 0h0.57m9.05 0h0.57m7.36 0h0.57m5.09 0h0.57m2.26 0h0.57m0.57 0h0.57m6.79 0h1.7m10.75 0h2.26m0.57 0h0.57m0.57 0h1.7m13.02 0h0.57m19.24 0h0.57m24.33 0h0.57m13.02 0h1.7m6.22 0h0.57m3.4 0h0.57m2.83 0h0.57m16.41 0h0.57m0.57 0h1.13m13.58 0h0.57m17.54 0h0.57M112.7 154.67h0.57m1.7 0h0.57m7.36 0h0.57m0.57 0h0.57m1.7 0h2.26m3.4 0h0.57m16.98 0h0.57m7.36 0h0.57m11.88 0h0.57m1.13 0h0.57m6.22 0h0.57m1.7 0h0.57m18.67 0h1.13m9.05 0h0.57m3.96 0h0.57m0.57 0h0.57m27.16 0h0.57m6.22 0h1.13m0.57 0h0.57m6.79 0h0.57m14.71 0h0.57m15.28 0h0.57m5.66 0h0.57m14.15 0h0.57m18.11 0h0.57m0.57 0h0.57m8.49 0h0.57m3.4 0h0.57m5.09 0h0.57M45.93 161.86h0.57m16.41 0h0.57m5.66 0h0.57m23.77 0h0.57m0.57 0h1.13m26.6 0h1.7m19.81 0h0.57m6.22 0h0.57m5.09 0h0.57m4.53 0h0.57m5.09 0h0.57m2.26 0h1.13m0.57 0h0.57m5.66 0h0.57m16.98 0h0.57m0.57 0h1.13m0.57 0h0.57m3.4 0h2.26m0.57 0h1.13m0.57 0h0.57m1.7 0h0.57m1.13 0h0.57m0.57 0h0.57m53.76 0h0.57M44.23 169.05h0.57m25.46 0h0.57m0.57 0h1.7m6.79 0h1.13m0.57 0h1.13m2.26 0h2.26m1.7 0h2.83m0.57 0h0.57m2.83 0h0.57m0.57 0h1.13m0.57 0h1.13m1.7 0h0.57m0.57 0h0.57m2.26 0h0.57m0.57 0h1.13m1.7 0h0.57m12.45 0h3.4m3.96 0h0.57m6.79 0h1.13m2.83 0h1.13m1.13 0h0.57m4.53 0h0.57m3.96 0h0.57m4.53 0h0.57m6.79 0h0.57m1.13 0h1.13m0.57 0h1.13m16.41 0h1.7m7.36 0h0.57m5.09 0h0.57m0.57 0h0.57m0.57 0h0.57m0.57 0h0.57m0.57 0h0.57m1.7 0h1.13m2.26 0h0.57m6.22 0h1.13m1.13 0h0.57m1.13 0h1.13m0.57 0h1.13m1.7 0h1.7m2.83 0h0.57m1.13 0h1.7m2.26 0h0.57m1.7 0h0.57m5.66 0h2.26m1.13 0h3.96m0.57 0h0.57m1.13 0h1.13m1.7 0h2.26m2.26 0h1.13m0.57 0h1.13m0.57 0h1.13m1.13 0h0.57m1.7 0h1.13m2.83 0h0.57m0.57 0h1.7m1.13 0h0.57m1.7 0h0.57m1.7 0h1.13m0.57 0h1.13m0.57 0h0.57m0.57 0h0.57m1.13 0h0.57m1.13 0h1.13m0.57 0h0.57m0.57 0h1.13m1.7 0h1.7m2.26 0h2.26m0.57 0h2.26m0.57 0h0.57m1.13 0h0.57m0.57 0h2.83m2.26 0h0.57m0.57 0h0.57m3.96 0h0.57m2.26 0h0.57m0.57 0h0.57m1.7 0h1.7m0.57 0h1.13m1.13 0h0.57m1.7 0h2.83m0.57 0h1.13m2.26 0h1.7m0.57 0h0.57m1.13 0h1.13m1.13 0h1.13m1.13 0h1.13m2.26 0h1.13m1.13 0h1.7M203.81 176.24h0.57M60.64 183.43h0.57m5.66 0h0.57m2.83 0h1.13m1.13 0h0.57m1.13 0h0.57m0.57 0h0.57m2.26 0h0.57m8.49 0h0.57m3.96 0h0.57m24.33 0h0.57m7.36 0h0.57m9.05 0h0.57m20.94 0h0.57m9.62 0h1.13m3.4 0h0.57m12.45 0h1.13m6.79 0h0.57m1.13 0h1.7m1.7 0h0.57m1.13 0h0.57m3.4 0h1.13m1.13 0h0.57m0.57 0h1.13m1.13 0h1.13m6.22 0h0.57m1.13 0h0.57m3.4 0h0.57m27.16 0h0.57m27.73 0h0.57m29.99 0h0.57m23.2 0h0.57M48.19 190.62h0.57m0.57 0h0.57m16.41 0h0.57m18.11 0h0.57m2.83 0h0.57m0.57 0h0.57m2.26 0h0.57m21.5 0h0.57m3.4 0h2.83m1.13 0h0.57m7.92 0h1.13m0.57 0h0.57m1.13 0h0.57m0.57 0h0.57m10.75 0h0.57m0.57 0h0.57m14.71 0h0.57m1.7 0h0.57m3.96 0h0.57m11.88 0h0.57m30.56 0h0.57m2.26 0h0.57m19.81 0h0.57m0.57 0h1.7m10.75 0h2.26m3.4 0h0.57m1.7 0h0.57m2.26 0h0.57m1.13 0h1.13m6.22 0h0.57m7.36 0h1.13m0.57 0h0.57m1.13 0h0.57m8.49 0h0.57m14.15 0h0.57m2.83 0h0.57m4.53 0h0.57m3.96 0h0.57m0.57 0h0.57m0.57 0h0.57m7.92 0h0.57m6.22 0h0.57m7.92 0h0.57M45.36 197.81h0.57m2.26 0h1.13m0.57 0h1.13m0.57 0h1.7m6.79 0h2.83m0.57 0h0.57m4.53 0h0.57m1.13 0h0.57m1.13 0h0.57m1.13 0h0.57m1.13 0h0.57m7.36 0h0.57m9.62 0h0.57m1.13 0h0.57m12.45 0h1.13m33.95 0h0.57m2.26 0h1.7m18.11 0h0.57m3.4 0h1.13m11.88 0h0.57m23.77 0h0.57m6.79 0h0.57m1.7 0h0.57m0.57 0h0.57m3.4 0h1.13m1.13 0h0.57m5.66 0h0.57m2.83 0h0.57m1.7 0h0.57m16.98 0h1.7m3.4 0h0.57m14.15 0h0.57m15.84 0h0.57m6.79 0h0.57m16.41 0h2.26m0.57 0h0.57m3.4 0h1.13m5.09 0h1.13m12.45 0h0.57m5.09 0h1.13m2.26 0h0.57M79.31 205h0.57m0.57 0h0.57m0.57 0h1.13m2.26 0h0.57m0.57 0h1.13m1.13 0h0.57m2.26 0h1.7m11.88 0h0.57m13.02 0h1.7m0.57 0h0.57m2.83 0h0.57m9.05 0h0.57m19.81 0h0.57m6.79 0h0.57m8.49 0h1.13m9.05 0h0.57m20.37 0h0.57m7.36 0h0.57m5.09 0h0.57m11.88 0h1.13m7.92 0h0.57m13.02 0h0.57m1.13 0h0.57m24.9 0h1.13m12.45 0h0.57m0.57 0h2.26m23.77 0h0.57m3.96 0h0.57m5.09 0h1.13m1.13 0h1.13"/>
<path stroke="rgb(223,159,161)" stroke-width="7.19" fill="none" d="M67.43 133.1h0.57m1.13 0h0.57m14.15 0h0.57m16.98 0h0.57m111.48 0h0.57m1.7 0h1.13M129.68 147.48h0.57m1.13 0h0.57m0.57 0h0.57m104.69 0h0.57m24.9 0h0.57m12.45 0h0.57m26.03 0h0.57m8.49 0h0.57m33.95 0h1.13M123.45 154.67h0.57m28.86 0h0.57m7.92 0h0.57m192.4 0h0.57M52.72 161.86h1.13m91.67 0h0.57m1.7 0h0.57m9.62 0h1.13m1.13 0h1.13m3.4 0h0.57m30.56 0h0.57m7.92 0h0.57m4.53 0h0.57m63.95 0h0.57M62.34 169.05h0.57m14.71 0h0.57m1.13 0h0.57m2.83 0h0.57m24.33 0h1.13m1.13 0h3.4m14.71 0h0.57m15.28 0h0.57m4.53 0h0.57m13.58 0h1.13m3.96 0h0.57m31.69 0h0.57m18.67 0h0.57m7.92 0h0.57m3.4 0h0.57m14.71 0h1.13m3.96 0h0.57m0.57 0h1.13m1.13 0h1.7m2.83 0h0.57m5.66 0h0.57m11.88 0h1.13m1.7 0h0.57m2.83 0h0.57m3.96 0h0.57m2.26 0h0.57m4.53 0h2.26m5.09 0h0.57m0.57 0h0.57m7.36 0h0.57m10.19 0h0.57m3.96 0h0.57m6.79 0h1.7m6.22 0h0.57m3.4 0h0.57m2.83 0h0.57M128.55 176.24h0.57m22.07 0h0.57m50.36 0h1.13m1.13 0h1.7m18.11 0h0.57m4.53 0h0.57M48.76 183.43h1.13m0.57 0h1.13m130.15 0h0.57m22.64 0h0.57m75.26 0h0.57M60.07 190.62h1.13m44.14 0h0.57m27.73 0h0.57m0.57 0h0.57m56.59 0h0.57m1.13 0h0.57m30.56 0h0.57m19.81 0h0.57m1.13 0h0.57m17.54 0h0.57m23.77 0h0.57m4.53 0h0.57m0.57 0h0.57m1.7 0h2.26m2.83 0h0.57m42.44 0h0.57M54.98 197.81h0.57m65.64 0h0.57m20.37 0h0.57m26.03 0h0.57m32.26 0h0.57m31.12 0h0.57m0.57 0h1.7m16.98 0h0.57m42.44 0h1.13m8.49 0h0.57m13.02 0h0.57m19.24 0h0.57m6.22 0h0.57M44.23 205h0.57m17.54 0h0.57m0.57 0h0.57m19.24 0h1.13m66.77 0h0.57m36.78 0h1.13m37.35 0h0.57m19.81 0h0.57m66.21 0h1.13m6.79 0h0.57"/>
<path stroke="rgb(218,129,133)" stroke-width="7.19" fill="none" d="M46.49 133.1h1.7m3.4 0h1.13m7.36 0h0.57m0.57 0h2.26m0.57 0h0.57m0.57 0h0.57m2.26 0h1.13m0.57 0h0.57m13.02 0h0.57m0.57 0h0.57m2.83 0h0.57m7.36 0h0.57m5.66 0h0.57m0.57 0h2.26m78.66 0h0.57m0.57 0h0.57m4.53 0h0.57m1.7 0h0.57m0.57 0h3.96m0.57 0h15.28m0.57 0h1.7M343.58 140.29h0.57m3.4 0h0.57m2.26 0h0.57m2.83 0h1.13m1.13 0h0.57M125.15 147.48h0.57m5.09 0h0.57m0.57 0h0.57m3.96 0h0.57m1.7 0h1.7m0.57 0h0.57m12.45 0h0.57m11.32 0h1.13m22.07 0h0.57m3.4 0h0.57m0.57 0h0.57m14.71 0h0.57m2.26 0h1.13m1.7 0h0.57m1.13 0h0.57m14.71 0h0.57m4.53 0h0.57m22.07 0h1.13m1.13 0h0.57m1.13 0h1.13m10.19 0h1.13m0.57 0h0.57m6.79 0h0.57m3.4 0h0.57m8.49 0h0.57m6.79 0h1.13m15.28 0h0.57m1.13 0h0.57m7.92 0h1.13m3.96 0h1.13m11.32 0h0.57m5.66 0h1.13M74.79 154.67h1.7m0.57 0h0.57m27.16 0h1.7m7.36 0h0.57m18.67 0h0.57m18.67 0h0.57m0.57 0h0.57m0.57 0h0.57m14.15 0h0.57m5.66 0h1.13m2.83 0h1.13m14.71 0h0.57m6.22 0h1.13m2.83 0h0.57m0.57 0h0.57m5.66 0h1.13m22.64 0h1.13m44.71 0h0.57M41.97 161.86h2.26m10.19 0h0.57m43.01 0h2.26m0.57 0h2.26m0.57 0h1.13m14.15 0h0.57m6.79 0h0.57m0.57 0h1.7m16.98 0h1.7m11.88 0h0.57m3.96 0h0.57m0.57 0h0.57m17.54 0h0.57m7.36 0h1.13m0.57 0h1.7m13.58 0h0.57m3.4 0h1.13m61.12 0h0.57m65.64 0h0.57M60.07 169.05h0.57m1.13 0h0.57m0.57 0h0.57m0.57 0h1.7m43.01 0h0.57m16.98 0h1.7m28.86 0h0.57m4.53 0h1.13m11.88 0h0.57m0.57 0h1.13m21.5 0h1.13m6.79 0h0.57m1.7 0h0.57m97.33 0h0.57m16.98 0h0.57m27.73 0h0.57M150.62 176.24h0.57m52.06 0h0.57m2.26 0h0.57m8.49 0h0.57m13.02 0h0.57m57.72 0h0.57m11.88 0h0.57m20.37 0h0.57M47.62 183.43h1.13m1.13 0h0.57m1.13 0h1.13m48.1 0h1.13m0.57 0h1.13m27.16 0h0.57m0.57 0h1.13m16.98 0h0.57m2.26 0h0.57m15.84 0h0.57m3.4 0h0.57m1.7 0h0.57m0.57 0h0.57m3.96 0h0.57m27.73 0h3.96m46.97 0h0.57m17.54 0h0.57m34.52 0h0.57M52.72 190.62h1.13m7.36 0h2.26m0.57 0h1.7m1.7 0h1.7m0.57 0h0.57m5.09 0h1.13m0.57 0h0.57m0.57 0h1.13m25.46 0h0.57m0.57 0h0.57m22.07 0h1.13m15.28 0h0.57m8.49 0h0.57m1.7 0h1.7m14.15 0h1.13m17.54 0h1.13m1.13 0h0.57m1.7 0h0.57m3.96 0h0.57m0.57 0h0.57m6.79 0h0.57m2.26 0h0.57m6.22 0h0.57m27.16 0h1.13m0.57 0h0.57m0.57 0h0.57m32.82 0h1.13m11.88 0h0.57m7.92 0h1.7m10.75 0h1.7m37.35 0h1.13M46.49 197.81h1.13m6.22 0h0.57m1.13 0h3.4m0.57 0h0.57m5.66 0h0.57m0.57 0h0.57m73 0h1.7m0.57 0h0.57m1.7 0h0.57m8.49 0h0.57m11.88 0h0.57m10.19 0h1.13m19.24 0h1.13m20.37 0h1.13m2.83 0h0.57m3.4 0h0.57m17.54 0h0.57m4.53 0h2.26m2.83 0h0.57m14.15 0h0.57m28.86 0h0.57m32.82 0h0.57m10.75 0h1.13M44.8 205h0.57m14.71 0h1.7m2.83 0h0.57m52.06 0h0.57m26.6 0h0.57m3.4 0h0.57m1.7 0h0.57m4.53 0h0.57m22.64 0h0.57m0.57 0h0.57m10.75 0h0.57m1.7 0h1.13m15.28 0h1.7m1.7 0h0.57m2.26 0h0.57m39.05 0h1.13m11.88 0h0.57m0.57 0h0.57m1.7 0h0.57m16.98 0h0.57m23.2 0h0.57m13.58 0h0.57m6.79 0h0.57m6.22 0h0.57m3.96 0h1.13m2.26 0h0.57"/>
<path stroke="rgb(211,97,104)" stroke-width="7.19" fill="none" d="M41.97 133.1h0.57m1.13 0h0.57m1.13 0h1.13m1.7 0h1.13m0.57 0h1.7m2.26 0h0.57m1.13 0h1.13m0.57 0h1.7m1.7 0h0.57m2.26 0h0.57m0.57 0h0.57m8.49 0h0.57m3.4 0h0.57m1.13 0h0.57m1.13 0h0.57m3.4 0h2.83m0.57 0h1.13m1.13 0h2.26m1.13 0h1.7m0.57 0h1.7m2.83 0h0.57m1.13 0h0.57m2.26 0h1.13m0.57 0h0.57m0.57 0h2.26m0.57 0h1.13m50.93 0h1.13m1.13 0h0.57m0.57 0h2.83m0.57 0h14.15m0.57 0h0.57m0.57 0h4.53m0.57 0h1.7m0.57 0h0.57m3.96 0h0.57m99.6 0h2.26M74.22 140.29h0.57m0.57 0h2.26m36.22 0h0.57m187.88 0h0.57m2.83 0h0.57m1.13 0h2.26m1.13 0h3.4m0.57 0h1.13m0.57 0h27.16m0.57 0h3.4m0.57 0h2.26m0.57 0h2.83m1.13 0h1.13M106.48 147.48h0.57m17.54 0h0.57m5.09 0h0.57m5.09 0h0.57m1.13 0h1.13m1.7 0h0.57m0.57 0h1.7m45.27 0h0.57m2.26 0h1.7m0.57 0h0.57m14.15 0h0.57m8.49 0h0.57m1.13 0h1.7m6.79 0h0.57m3.4 0h0.57m0.57 0h1.13m4.53 0h1.13m5.66 0h0.57m0.57 0h1.7m0.57 0h0.57m6.79 0h1.13m2.26 0h0.57m1.13 0h1.13m0.57 0h0.57m6.79 0h1.13m2.26 0h0.57m4.53 0h0.57m4.53 0h0.57m0.57 0h2.26m1.7 0h0.57m0.57 0h0.57m5.66 0h1.13m5.09 0h0.57m0.57 0h1.13m3.4 0h0.57m1.7 0h0.57m7.36 0h1.13m0.57 0h1.13m0.57 0h1.13m6.22 0h2.26m1.7 0h1.13m0.57 0h1.7m1.13 0h1.13m7.36 0h0.57m1.7 0h0.57m0.57 0h0.57M76.49 154.67h0.57m7.92 0h0.57m21.5 0h0.57m9.05 0h1.13m10.75 0h0.57m5.09 0h0.57m1.7 0h1.7m5.09 0h0.57m6.22 0h0.57m11.32 0h2.26m9.05 0h2.26m1.13 0h0.57m1.7 0h0.57m1.7 0h0.57m0.57 0h0.57m11.88 0h0.57m0.57 0h0.57m4.53 0h0.57m1.7 0h2.83m32.26 0h0.57m9.62 0h0.57m8.49 0h0.57m23.77 0h1.13m45.84 0h1.13M41.4 161.86h0.57m4.53 0h1.13m7.36 0h0.57m1.13 0h3.4m13.02 0h1.13m0.57 0h0.57m0.57 0h0.57m23.77 0h0.57m2.26 0h0.57m3.4 0h0.57m7.36 0h0.57m2.83 0h0.57m0.57 0h1.7m5.66 0h0.57m1.7 0h0.57m3.4 0h0.57m20.37 0h0.57m4.53 0h0.57m19.24 0h0.57m3.4 0h0.57m1.13 0h0.57m7.36 0h0.57m14.71 0h0.57m6.79 0h0.57m42.44 0h1.13m47.53 0h1.13M41.4 169.05h0.57m0.57 0h1.13m16.98 0h1.13m1.7 0h0.57m49.23 0h0.57m16.98 0h1.13m0.57 0h1.13m5.09 0h1.7m20.94 0h0.57m11.32 0h1.7m0.57 0h0.57m1.13 0h1.13m1.13 0h0.57m1.7 0h1.13m5.66 0h1.13m1.13 0h0.57m8.49 0h0.57m36.78 0h1.7m1.13 0h0.57m1.7 0h0.57m0.57 0h0.57m20.94 0h0.57M194.76 176.24h1.7m36.78 0h0.57m63.95 0h1.7m20.37 0h0.57M44.23 183.43h0.57m57.15 0h0.57m1.13 0h1.13m9.05 0h0.57m1.13 0h0.57m15.28 0h0.57m20.37 0h0.57m0.57 0h0.57m4.53 0h0.57m5.09 0h0.57m9.05 0h1.7m0.57 0h0.57m3.96 0h0.57m1.13 0h0.57m7.92 0h0.57m9.62 0h1.13m11.88 0h0.57m2.83 0h0.57m2.26 0h0.57m12.45 0h0.57m27.16 0h0.57m0.57 0h1.7m0.57 0h0.57m3.4 0h0.57m69.6 0h0.57M63.47 190.62h0.57m5.09 0h0.57m4.53 0h1.13m1.13 0h0.57m18.67 0h0.57m15.28 0h0.57m0.57 0h0.57m29.99 0h0.57m6.79 0h0.57m0.57 0h0.57m14.71 0h2.83m22.64 0h0.57m1.13 0h1.13m0.57 0h0.57m2.26 0h1.13m0.57 0h0.57m6.79 0h0.57m1.7 0h1.13m0.57 0h0.57m2.26 0h0.57m16.41 0h0.57m36.22 0h0.57m8.49 0h0.57m5.09 0h0.57m3.96 0h0.57m27.16 0h0.57m6.22 0h1.13m1.13 0h0.57M44.8 197.81h0.57m9.05 0h0.57m3.96 0h0.57m6.79 0h0.57m28.86 0h0.57m18.67 0h0.57m0.57 0h0.57m8.49 0h0.57m3.4 0h0.57m0.57 0h0.57m3.96 0h1.13m13.02 0h0.57m6.22 0h0.57m10.75 0h1.7m10.19 0h0.57m5.66 0h0.57m0.57 0h2.26m7.92 0h1.13m9.05 0h0.57m2.26 0h0.57m5.66 0h1.13m1.7 0h0.57m7.36 0h0.57m0.57 0h1.13m1.13 0h0.57m15.28 0h2.26m0.57 0h0.57m8.49 0h0.57m5.66 0h0.57m13.58 0h0.57m0.57 0h1.13m1.13 0h0.57m5.09 0h0.57m4.53 0h2.26m4.53 0h0.57m5.66 0h0.57m2.26 0h0.57m5.09 0h0.57m3.4 0h0.57m1.7 0h0.57m1.7 0h2.26m9.05 0h1.13m0.57 0h0.57m1.7 0h0.57m0.57 0h0.57m2.26 0h0.57m1.13 0h1.13m1.13 0h0.57m3.4 0h0.57m5.09 0h0.57m0.57 0h0.57M45.36 205h1.13m15.28 0h0.57m0.57 0h0.57m0.57 0h0.57m0.57 0h0.57m46.97 0h0.57m3.4 0h0.57m0.57 0h0.57m11.88 0h0.57m2.26 0h0.57m9.62 0h0.57m6.22 0h0.57m5.66 0h0.57m22.64 0h0.57m2.26 0h0.57m1.13 0h1.13m1.7 0h0.57m4.53 0h0.57m0.57 0h0.57m18.11 0h0.57m1.7 0h0.57m2.26 0h0.57m5.66 0h0.57m7.92 0h0.57m0.57 0h1.13m1.13 0h0.57m1.7 0h2.26m5.66 0h0.57m0.57 0h1.13m7.92 0h0.57m1.7 0h0.57m7.36 0h1.7m1.13 0h0.57m0.57 0h0.57m0.57 0h0.57m1.7 0h0.57m5.09 0h0.57m5.09 0h1.7m1.13 0h1.13m7.92 0h0.57m0.57 0h2.83m2.83 0h1.13m1.13 0h0.57m13.02 0h1.13m6.22 0h0.57m7.92 0h0.57m1.13 0h2.26m1.7 0h1.7m1.7 0h0.57m1.13 0h0.57m1.7 0h0.57m1.13 0h0.57m1.7 0h0.57m2.26 0h0.57"/>
<path stroke="rgb(205,65,75)" stroke-width="7.19" fill="none" d="M41.4 133.1h0.57m0.57 0h1.13m5.66 0h0.57m4.53 0h1.13m1.13 0h0.57m1.7 0h1.13m10.75 0h0.57m0.57 0h1.7m6.22 0h1.13m0.57 0h1.7m6.22 0h1.13m2.26 0h1.13m3.96 0h1.7m0.57 0h0.57m5.66 0h0.57m0.57 0h0.57m2.26 0h0.57m1.13 0h0.57m20.94 0h0.57m0.57 0h1.13m3.96 0h1.7m1.13 0h20.37m1.13 0h1.13m0.57 0h0.57m2.83 0h0.57M52.72 140.29h1.13m20.94 0h0.57m39.05 0h0.57m41.31 0h0.57m0.57 0h0.57m91.11 0h0.57m5.09 0h1.13m1.13 0h0.57m3.4 0h0.57m0.57 0h0.57m1.13 0h1.7m0.57 0h1.13m0.57 0h0.57m0.57 0h6.79m0.57 0h3.96m0.57 0h1.7m0.57 0h0.57m0.57 0h18.11m0.57 0h2.83m0.57 0h1.13m2.26 0h1.13m3.4 0h0.57m1.13 0h0.57M120.62 147.48h0.57m1.13 0h0.57m0.57 0h0.57m2.26 0h2.26m4.53 0h0.57m3.4 0h0.57m10.75 0h0.57m5.66 0h0.57m4.53 0h1.13m8.49 0h0.57m7.36 0h1.13m0.57 0h1.7m5.66 0h0.57m9.05 0h0.57m3.4 0h0.57m1.13 0h0.57m5.66 0h0.57m9.62 0h1.13m4.53 0h0.57m3.96 0h1.13m0.57 0h0.57m3.96 0h0.57m10.75 0h0.57m2.83 0h0.57m1.13 0h1.13m0.57 0h1.7m0.57 0h0.57m2.26 0h0.57m9.05 0h1.13m9.05 0h0.57m2.83 0h0.57m6.22 0h0.57m1.13 0h0.57m9.05 0h0.57m9.05 0h1.7m0.57 0h0.57m2.26 0h0.57m3.4 0h0.57m1.13 0h0.57m4.53 0h1.13m1.13 0h0.57m1.13 0h0.57m3.4 0h0.57m6.22 0h0.57m2.83 0h0.57m4.53 0h0.57m2.26 0h1.13m0.57 0h2.26M44.8 154.67h0.57m0.57 0h0.57m6.79 0h0.57m6.22 0h1.7m0.57 0h0.57m1.7 0h0.57m0.57 0h1.7m1.13 0h0.57m2.26 0h0.57m1.7 0h1.13m2.83 0h0.57m9.62 0h1.13m0.57 0h0.57m0.57 0h0.57m1.13 0h3.4m2.26 0h1.7m0.57 0h0.57m8.49 0h0.57m1.13 0h1.7m1.7 0h0.57m2.83 0h0.57m1.13 0h1.7m4.53 0h0.57m7.36 0h0.57m0.57 0h1.7m1.7 0h1.13m0.57 0h0.57m10.75 0h0.57m3.4 0h1.13m1.7 0h0.57m1.13 0h0.57m21.5 0h0.57m15.28 0h1.13m9.05 0h1.13m21.5 0h0.57m74.13 0h0.57M53.85 161.86h0.57m1.13 0h1.13m17.54 0h0.57m0.57 0h0.57m0.57 0h1.13m0.57 0h2.83m25.46 0h0.57m6.22 0h0.57m1.7 0h1.13m5.09 0h0.57m7.36 0h0.57m22.07 0h1.13m1.13 0h0.57m10.75 0h1.13m5.09 0h1.7m4.53 0h0.57m0.57 0h2.26m2.26 0h0.57m22.64 0h0.57m98.46 0h0.57M41.97 169.05h0.57m1.13 0h0.57m87.71 0h0.57m23.2 0h1.13m0.57 0h0.57m20.94 0h0.57m35.65 0h0.57m14.71 0h0.57m8.49 0h0.57m0.57 0h1.7m0.57 0h0.57m0.57 0h0.57m104.69 0h0.57M52.72 176.24h1.13m240.5 0h1.7M41.97 183.43h2.26m0.57 0h0.57m67.91 0h0.57m0.57 0h1.13m0.57 0h0.57m9.05 0h0.57m1.13 0h0.57m1.13 0h0.57m9.62 0h1.13m4.53 0h0.57m1.13 0h0.57m10.75 0h0.57m0.57 0h2.26m3.4 0h1.13m23.77 0h1.13m22.64 0h0.57m2.26 0h0.57m31.12 0h0.57m13.02 0h0.57m1.7 0h0.57m4.53 0h1.13m32.82 0h0.57M41.4 190.62h1.13m0.57 0h0.57m1.13 0h0.57m62.25 0h3.96m0.57 0h0.57m3.96 0h0.57m8.49 0h0.57m3.4 0h0.57m18.11 0h0.57m2.26 0h0.57m2.83 0h1.7m5.09 0h0.57m15.28 0h1.13m2.26 0h0.57m4.53 0h0.57m0.57 0h0.57m19.24 0h0.57m2.26 0h0.57m13.02 0h0.57m45.27 0h1.13m18.11 0h0.57m17.54 0h1.13m3.96 0h0.57m0.57 0h1.13m11.88 0h1.7m2.26 0h0.57m2.83 0h1.13m12.45 0h0.57m0.57 0h0.57M41.4 197.81h0.57m0.57 0h2.26m32.82 0h0.57m34.52 0h1.13m0.57 0h0.57m0.57 0h0.57m15.84 0h0.57m1.13 0h1.13m5.09 0h0.57m9.05 0h0.57m2.26 0h1.7m7.36 0h1.13m0.57 0h0.57m5.66 0h0.57m9.62 0h1.13m5.09 0h0.57m3.96 0h0.57m10.19 0h0.57m9.05 0h1.13m0.57 0h1.13m6.79 0h0.57m7.92 0h1.13m9.05 0h0.57m1.13 0h1.13m1.13 0h1.13m11.88 0h1.13m2.26 0h1.7m0.57 0h0.57m1.13 0h0.57m0.57 0h0.57m0.57 0h0.57m0.57 0h1.13m2.83 0h0.57m5.66 0h1.13m0.57 0h0.57m1.13 0h1.13m1.7 0h1.13m0.57 0h0.57m0.57 0h0.57m1.13 0h0.57m6.79 0h1.13m1.7 0h1.13m1.13 0h0.57m0.57 0h1.13m0.57 0h0.57m8.49 0h1.7m4.53 0h0.57m1.7 0h0.57m4.53 0h0.57m2.26 0h1.13m0.57 0h0.57m0.57 0h1.13m2.26 0h0.57m0.57 0h1.13m1.13 0h0.57m9.05 0h1.7m1.13 0h1.13m0.57 0h0.57m1.7 0h0.57M78.18 205h1.13m16.41 0h0.57m18.67 0h1.13m5.66 0h0.57m3.96 0h0.57m13.58 0h0.57m1.13 0h1.13m2.83 0h1.7m4.53 0h0.57m1.7 0h0.57m1.7 0h1.13m1.7 0h0.57m14.15 0h0.57m2.26 0h1.13m2.83 0h1.13m0.57 0h1.13m1.13 0h0.57m0.57 0h0.57m0.57 0h1.13m3.96 0h0.57m24.33 0h0.57m0.57 0h0.57m1.7 0h1.13m1.7 0h0.57m0.57 0h0.57m0.57 0h1.13m1.7 0h0.57m1.13 0h0.57m1.13 0h0.57m1.13 0h1.13m1.13 0h0.57m5.09 0h1.13m1.7 0h0.57m0.57 0h0.57m1.7 0h0.57m0.57 0h0.57m3.96 0h0.57m5.09 0h1.13m6.79 0h1.13m5.09 0h0.57m2.83 0h0.57m4.53 0h1.7m5.66 0h0.57m4.53 0h1.7m0.57 0h0.57m3.96 0h0.57m0.57 0h0.57m1.13 0h1.13m0.57 0h1.13m4.53 0h0.57m1.13 0h0.57m1.7 0h2.26m3.96 0h0.57m1.13 0h0.57m0.57 0h0.57m0.57 0h0.57m1.13 0h0.57m1.7 0h0.57m2.26 0h1.13m2.26 0h0.57m2.26 0h0.57m3.4 0h1.13m0.57 0h1.13m0.57 0h0.57m2.26 0h0.57m6.79 0h0.57"/>
<path stroke="rgb(199,33,46)" stroke-width="7.19" fill="none" d="M44.23 133.1h1.13m7.36 0h1.13m16.41 0h0.57m0.57 0h0.57m6.22 0h1.13m20.37 0h0.57m12.45 0h20.94m0.57 0h0.57m1.13 0h3.96m1.7 0h1.13M96.29 140.29h1.7m58.85 0h0.57m59.42 0h32.26m0.57 0h5.09m1.13 0h1.13m0.57 0h3.4m0.57 0h0.57m0.57 0h1.13m1.7 0h0.57m1.13 0h0.57m0.57 0h0.57m6.79 0h0.57m3.96 0h0.57m1.7 0h0.57m0.57 0h0.57M113.27 147.48h0.57m4.53 0h2.26m2.26 0h0.57m0.57 0h0.57m19.24 0h0.57m0.57 0h0.57m12.45 0h1.7m1.13 0h0.57m0.57 0h2.26m5.66 0h2.26m13.02 0h1.13m0.57 0h1.7m6.22 0h1.13m1.7 0h2.26m0.57 0h0.57m14.71 0h0.57m10.75 0h0.57m1.7 0h0.57m0.57 0h0.57m2.83 0h0.57m0.57 0h2.26m13.02 0h0.57m1.13 0h0.57m1.7 0h0.57m0.57 0h0.57m9.05 0h0.57m1.13 0h0.57m1.13 0h1.7m2.26 0h1.13m4.53 0h0.57m3.4 0h1.7m14.15 0h1.13m0.57 0h0.57m14.15 0h3.4m5.66 0h1.13m1.13 0h1.13m7.36 0h0.57m5.09 0h0.57m0.57 0h1.13m1.13 0h2.26M41.4 154.67h3.4m0.57 0h0.57m0.57 0h6.79m0.57 0h6.22m1.7 0h0.57m0.57 0h1.7m0.57 0h0.57m1.7 0h1.13m0.57 0h2.26m0.57 0h1.7m10.75 0h0.57m0.57 0h2.26m1.13 0h0.57m0.57 0h0.57m0.57 0h1.13m3.96 0h1.7m1.7 0h0.57m7.36 0h1.7m0.57 0h1.13m2.26 0h0.57m4.53 0h1.13m9.62 0h1.13m9.05 0h0.57m5.09 0h0.57m5.09 0h0.57m7.36 0h1.13m0.57 0h1.13m2.83 0h1.7m22.64 0h2.26m15.84 0h0.57m1.7 0h1.13M70.26 161.86h2.83m7.92 0h2.26m12.45 0h0.57m17.54 0h1.13m1.7 0h1.7m2.83 0h0.57m3.96 0h0.57m16.98 0h0.57m7.92 0h0.57m1.13 0h0.57m19.81 0h3.4m4.53 0h1.13m7.92 0h0.57m24.9 0h0.57M144.39 169.05h0.57m36.22 0h0.57M41.4 183.43h0.57m83.19 0h0.57m0.57 0h1.13m0.57 0h0.57m10.19 0h0.57m1.13 0h2.83m1.13 0h0.57m0.57 0h1.13m0.57 0h1.13m13.02 0h0.57m10.19 0h1.13m5.66 0h1.13m123.36 0h1.7m28.86 0h0.57m21.5 0h0.57M42.53 190.62h0.57m0.57 0h1.13m51.5 0h1.7m15.28 0h0.57m3.4 0h1.13m6.22 0h0.57m7.92 0h0.57m2.26 0h2.83m39.61 0h1.7m5.09 0h0.57m0.57 0h0.57m0.57 0h1.13m27.16 0h0.57m39.05 0h0.57m51.5 0h0.57m3.96 0h0.57m12.45 0h0.57m21.5 0h0.57M41.97 197.81h0.57m71.3 0h0.57m3.96 0h2.83m7.36 0h0.57m1.7 0h1.13m0.57 0h1.13m5.09 0h1.13m10.19 0h1.7m10.75 0h0.57m0.57 0h2.26m14.71 0h0.57m8.49 0h0.57m19.81 0h0.57m1.13 0h0.57m5.09 0h0.57m5.66 0h0.57m0.57 0h1.7m4.53 0h0.57m0.57 0h1.13m3.4 0h2.26m0.57 0h1.13m1.13 0h1.13m1.13 0h1.13m2.83 0h0.57m0.57 0h0.57m7.36 0h0.57m3.4 0h0.57m0.57 0h1.13m1.7 0h0.57m0.57 0h0.57m1.13 0h2.26m1.13 0h2.26m0.57 0h2.83m5.09 0h1.13m1.13 0h0.57m0.57 0h0.57m0.57 0h0.57m1.13 0h1.7m0.57 0h1.7m2.26 0h0.57m5.66 0h0.57m2.26 0h1.7m1.13 0h1.7m0.57 0h3.4m12.45 0h1.13m0.57 0h1.13m2.26 0h0.57m0.57 0h0.57m1.13 0h0.57m3.96 0h0.57m2.26 0h1.13m1.13 0h1.13m8.49 0h0.57m0.57 0h1.7m1.13 0h0.57M77.62 205h0.57m35.65 0h1.13m1.13 0h0.57m4.53 0h0.57m3.4 0h0.57m1.13 0h1.7m1.13 0h0.57m10.75 0h1.13m3.4 0h0.57m1.7 0h0.57m3.4 0h0.57m0.57 0h1.13m1.13 0h0.57m2.26 0h1.7m0.57 0h1.13m2.83 0h1.7m0.57 0h0.57m6.22 0h1.13m0.57 0h2.26m8.49 0h0.57m11.32 0h1.13m2.26 0h0.57m0.57 0h4.53m7.92 0h0.57m0.57 0h0.57m1.7 0h0.57m0.57 0h1.7m1.13 0h1.13m1.13 0h0.57m0.57 0h0.57m3.4 0h1.13m0.57 0h0.57m3.96 0h0.57m3.4 0h2.26m1.13 0h1.7m3.96 0h0.57m0.57 0h0.57m2.26 0h1.13m0.57 0h1.13m1.7 0h0.57m0.57 0h1.13m1.13 0h2.26m2.26 0h0.57m5.66 0h1.13m1.7 0h2.83m2.26 0h2.83m1.7 0h0.57m1.7 0h1.13m1.13 0h1.13m10.75 0h1.13m0.57 0h0.57m4.53 0h4.53m0.57 0h1.13m7.92 0h0.57m2.26 0h0.57m0.57 0h0.57m1.13 0h0.57m6.22 0h0.57m5.09 0h0.57m8.49 0h0.57m1.7 0h1.13m0.57 0h2.26m0.57 0h1.13"/>
<line x1="39.4" y1="18" x2="39.4" y2="128.4" stroke="#111" stroke-width="0.9"/>
<line x1="39.4" y1="129.5" x2="39.4" y2="208.6" stroke="#c0392b" stroke-width="0.9"/>
<text x="34.6" y="75.6" font-size="7" fill="#1a1a1a" text-anchor="middle" textLength="52" lengthAdjust="spacingAndGlyphs" transform="rotate(-90 34.6 75.6)">RNA sequencing</text>
<text x="34" y="168.6" font-size="7" fill="#c0392b" text-anchor="middle" textLength="41" lengthAdjust="spacingAndGlyphs" transform="rotate(-90 34 168.6)">Flow cytometry</text>
<defs><linearGradient id="cb" x1="0" y1="0" x2="0" y2="1"><stop offset="0" stop-color="#c4101e"/><stop offset="1" stop-color="#d9d9d9"/></linearGradient></defs>
<rect x="420.8" y="152.3" width="9.2" height="34.7" fill="url(#cb)"/>
<text x="425.4" y="140.3" font-size="6.6" fill="#2a2a2a" text-anchor="middle">Highest</text>
<text x="425.4" y="147.7" font-size="6.6" fill="#2a2a2a" text-anchor="middle">expression</text>
<text x="425.4" y="196.1" font-size="6.6" fill="#2a2a2a" text-anchor="middle">Lowest</text>
<text x="425.4" y="203.5" font-size="6.6" fill="#2a2a2a" text-anchor="middle">expression</text>
<text x="170" y="218.2" font-size="7" fill="#1a1a1a" textLength="53" lengthAdjust="spacingAndGlyphs">557 Single T cells</text>
<text x="7.4" y="242.4" font-size="11.2" fill="#111" font-weight="bold">B</text>
<line x1="39.5" y1="240.5" x2="39.5" y2="340" stroke="#111" stroke-width="1"/>
<line x1="39" y1="339.5" x2="135.6" y2="339.5" stroke="#111" stroke-width="1"/>
<line x1="36.4" y1="339" x2="39.5" y2="339" stroke="#111" stroke-width="0.9"/>
<text x="33.2" y="341.3" font-size="6.6" fill="#1a1a1a" text-anchor="end">0</text>
<line x1="36.4" y1="316.95" x2="39.5" y2="316.95" stroke="#111" stroke-width="0.9"/>
<text x="33.2" y="319.25" font-size="6.6" fill="#1a1a1a" text-anchor="end">10</text>
<line x1="36.4" y1="294.9" x2="39.5" y2="294.9" stroke="#111" stroke-width="0.9"/>
<text x="33.2" y="297.2" font-size="6.6" fill="#1a1a1a" text-anchor="end">20</text>
<line x1="36.4" y1="272.85" x2="39.5" y2="272.85" stroke="#111" stroke-width="0.9"/>
<text x="33.2" y="275.15" font-size="6.6" fill="#1a1a1a" text-anchor="end">30</text>
<line x1="36.4" y1="250.8" x2="39.5" y2="250.8" stroke="#111" stroke-width="0.9"/>
<text x="33.2" y="253.1" font-size="6.6" fill="#1a1a1a" text-anchor="end">40</text>
<rect x="40" y="241.98" width="5.3" height="2.21" fill="#c9c9e1"/>
<rect x="40" y="244.19" width="5.3" height="4.41" fill="#6b77b3"/>
<rect x="40" y="248.59" width="5.3" height="90.41" fill="#174a8a"/>
<line x1="42.65" y1="339.5" x2="42.65" y2="342" stroke="#111" stroke-width="0.8"/>
<text x="44.85" y="345.6" font-size="6.2" fill="#1a1a1a" text-anchor="end" transform="rotate(-90 44.85 345.6)">191</text>
<rect x="46.43" y="248.59" width="5.3" height="8.82" fill="#c9c9e1"/>
<rect x="46.43" y="257.41" width="5.3" height="8.82" fill="#6b77b3"/>
<rect x="46.43" y="266.24" width="5.3" height="72.77" fill="#174a8a"/>
<line x1="49.08" y1="339.5" x2="49.08" y2="342" stroke="#111" stroke-width="0.8"/>
<text x="51.28" y="345.6" font-size="6.2" fill="#1a1a1a" text-anchor="end" transform="rotate(-90 51.28 345.6)">219</text>
<rect x="52.86" y="277.26" width="5.3" height="0" fill="#c9c9e1"/>
<rect x="52.86" y="277.26" width="5.3" height="2.21" fill="#6b77b3"/>
<rect x="52.86" y="279.46" width="5.3" height="59.54" fill="#174a8a"/>
<line x1="55.51" y1="339.5" x2="55.51" y2="342" stroke="#111" stroke-width="0.8"/>
<text x="57.71" y="345.6" font-size="6.2" fill="#1a1a1a" text-anchor="end" transform="rotate(-90 57.71 345.6)">192</text>
<rect x="59.29" y="281.67" width="5.3" height="0.88" fill="#c9c9e1"/>
<rect x="59.29" y="282.55" width="5.3" height="1.32" fill="#6b77b3"/>
<rect x="59.29" y="283.88" width="5.3" height="55.12" fill="#174a8a"/>
<line x1="61.94" y1="339.5" x2="61.94" y2="342" stroke="#111" stroke-width="0.8"/>
<text x="64.14" y="345.6" font-size="6.2" fill="#1a1a1a" text-anchor="end" transform="rotate(-90 64.14 345.6)">230</text>
<rect x="65.72" y="286.08" width="5.3" height="2.21" fill="#c9c9e1"/>
<rect x="65.72" y="288.28" width="5.3" height="13.23" fill="#6b77b3"/>
<rect x="65.72" y="301.51" width="5.3" height="37.48" fill="#174a8a"/>
<line x1="68.37" y1="339.5" x2="68.37" y2="342" stroke="#111" stroke-width="0.8"/>
<text x="70.57" y="345.6" font-size="6.2" fill="#1a1a1a" text-anchor="end" transform="rotate(-90 70.57 345.6)">213</text>
<rect x="72.15" y="299.31" width="5.3" height="4.41" fill="#c9c9e1"/>
<rect x="72.15" y="303.72" width="5.3" height="2.21" fill="#6b77b3"/>
<rect x="72.15" y="305.93" width="5.3" height="33.08" fill="#174a8a"/>
<line x1="74.8" y1="339.5" x2="74.8" y2="342" stroke="#111" stroke-width="0.8"/>
<text x="77" y="345.6" font-size="6.2" fill="#1a1a1a" text-anchor="end" transform="rotate(-90 77 345.6)">257</text>
<rect x="78.58" y="303.72" width="5.3" height="3.75" fill="#c9c9e1"/>
<rect x="78.58" y="307.47" width="5.3" height="0.66" fill="#6b77b3"/>
<rect x="78.58" y="308.13" width="5.3" height="30.87" fill="#174a8a"/>
<line x1="81.23" y1="339.5" x2="81.23" y2="342" stroke="#111" stroke-width="0.8"/>
<text x="83.43" y="345.6" font-size="6.2" fill="#1a1a1a" text-anchor="end" transform="rotate(-90 83.43 345.6)">144</text>
<rect x="85.01" y="305.93" width="5.3" height="0" fill="#c9c9e1"/>
<rect x="85.01" y="305.93" width="5.3" height="0" fill="#6b77b3"/>
<rect x="85.01" y="305.93" width="5.3" height="33.08" fill="#174a8a"/>
<line x1="87.66" y1="339.5" x2="87.66" y2="342" stroke="#111" stroke-width="0.8"/>
<text x="89.86" y="345.6" font-size="6.2" fill="#1a1a1a" text-anchor="end" transform="rotate(-90 89.86 345.6)">198</text>
<rect x="91.44" y="308.13" width="5.3" height="3.09" fill="#c9c9e1"/>
<rect x="91.44" y="311.22" width="5.3" height="1.32" fill="#6b77b3"/>
<rect x="91.44" y="312.54" width="5.3" height="26.46" fill="#174a8a"/>
<line x1="94.09" y1="339.5" x2="94.09" y2="342" stroke="#111" stroke-width="0.8"/>
<text x="96.29" y="345.6" font-size="6.2" fill="#1a1a1a" text-anchor="end" transform="rotate(-90 96.29 345.6)">222</text>
<rect x="97.87" y="314.75" width="5.3" height="2.21" fill="#c9c9e1"/>
<rect x="97.87" y="316.95" width="5.3" height="4.41" fill="#6b77b3"/>
<rect x="97.87" y="321.36" width="5.3" height="17.64" fill="#174a8a"/>
<line x1="100.52" y1="339.5" x2="100.52" y2="342" stroke="#111" stroke-width="0.8"/>
<text x="102.72" y="345.6" font-size="6.2" fill="#1a1a1a" text-anchor="end" transform="rotate(-90 102.72 345.6)">200</text>
<rect x="104.3" y="319.82" width="5.3" height="1.54" fill="#c9c9e1"/>
<rect x="104.3" y="321.36" width="5.3" height="0" fill="#6b77b3"/>
<rect x="104.3" y="321.36" width="5.3" height="17.64" fill="#174a8a"/>
<line x1="106.95" y1="339.5" x2="106.95" y2="342" stroke="#111" stroke-width="0.8"/>
<text x="109.15" y="345.6" font-size="6.2" fill="#1a1a1a" text-anchor="end" transform="rotate(-90 109.15 345.6)">105</text>
<rect x="110.73" y="321.36" width="5.3" height="0" fill="#c9c9e1"/>
<rect x="110.73" y="321.36" width="5.3" height="0" fill="#6b77b3"/>
<rect x="110.73" y="321.36" width="5.3" height="17.64" fill="#174a8a"/>
<line x1="113.38" y1="339.5" x2="113.38" y2="342" stroke="#111" stroke-width="0.8"/>
<text x="115.58" y="345.6" font-size="6.2" fill="#1a1a1a" text-anchor="end" transform="rotate(-90 115.58 345.6)">228</text>
<rect x="117.16" y="323.56" width="5.3" height="0" fill="#c9c9e1"/>
<rect x="117.16" y="323.56" width="5.3" height="0" fill="#6b77b3"/>
<rect x="117.16" y="323.56" width="5.3" height="15.44" fill="#174a8a"/>
<line x1="119.81" y1="339.5" x2="119.81" y2="342" stroke="#111" stroke-width="0.8"/>
<text x="122.01" y="345.6" font-size="6.2" fill="#1a1a1a" text-anchor="end" transform="rotate(-90 122.01 345.6)">199</text>
<rect x="123.59" y="327.98" width="5.3" height="0" fill="#c9c9e1"/>
<rect x="123.59" y="327.98" width="5.3" height="0" fill="#6b77b3"/>
<rect x="123.59" y="327.98" width="5.3" height="11.03" fill="#174a8a"/>
<line x1="126.24" y1="339.5" x2="126.24" y2="342" stroke="#111" stroke-width="0.8"/>
<text x="128.44" y="345.6" font-size="6.2" fill="#1a1a1a" text-anchor="end" transform="rotate(-90 128.44 345.6)">227</text>
<rect x="130.02" y="327.98" width="5.3" height="2.21" fill="#c9c9e1"/>
<rect x="130.02" y="330.18" width="5.3" height="0" fill="#6b77b3"/>
<rect x="130.02" y="330.18" width="5.3" height="8.82" fill="#174a8a"/>
<line x1="132.67" y1="339.5" x2="132.67" y2="342" stroke="#111" stroke-width="0.8"/>
<text x="134.87" y="345.6" font-size="6.2" fill="#1a1a1a" text-anchor="end" transform="rotate(-90 134.87 345.6)">232</text>
<text x="87.7" y="366.3" font-size="8.2" fill="#1a1a1a" text-anchor="middle" textLength="20.4" lengthAdjust="spacingAndGlyphs">Patient</text>
<text x="21.4" y="290.5" font-size="7.2" fill="#1a1a1a" text-anchor="middle" textLength="84" lengthAdjust="spacingAndGlyphs" transform="rotate(-90 21.4 290.5)">Number of expanded clones</text>
<rect x="139" y="246" width="5.8" height="5.4" fill="#c9c9e1"/>
<text x="148" y="251" font-size="6.8" fill="#1a1a1a" textLength="30" lengthAdjust="spacingAndGlyphs">CD8<tspan dy="-2.5" font-size="4.6">−</tspan><tspan dy="2.5">CD4</tspan><tspan dy="-2.5" font-size="4.6">+</tspan></text>
<rect x="139" y="256.2" width="5.8" height="5.4" fill="#6b77b3"/>
<text x="148" y="261.2" font-size="6.8" fill="#1a1a1a" textLength="30" lengthAdjust="spacingAndGlyphs">CD8<tspan dy="-2.5" font-size="4.6">+</tspan><tspan dy="2.5">CD4</tspan><tspan dy="-2.5" font-size="4.6">+</tspan></text>
<rect x="139" y="266" width="5.8" height="5.4" fill="#174a8a"/>
<text x="148" y="271" font-size="6.8" fill="#1a1a1a" textLength="30" lengthAdjust="spacingAndGlyphs">CD8<tspan dy="-2.5" font-size="4.6">+</tspan><tspan dy="2.5">CD4</tspan><tspan dy="-2.5" font-size="4.6">−</tspan></text>
<text x="205.6" y="242.6" font-size="11.2" fill="#111" font-weight="bold">C</text>
<line x1="246.5" y1="243" x2="246.5" y2="340" stroke="#111" stroke-width="1"/>
<line x1="246" y1="339.5" x2="286.2" y2="339.5" stroke="#111" stroke-width="1"/>
<line x1="243.6" y1="334.7" x2="246.5" y2="334.7" stroke="#111" stroke-width="0.9"/>
<text x="241.2" y="337" font-size="6.6" fill="#1a1a1a" text-anchor="end">0</text>
<line x1="243.6" y1="312.6" x2="246.5" y2="312.6" stroke="#111" stroke-width="0.9"/>
<text x="241.2" y="314.9" font-size="6.6" fill="#1a1a1a" text-anchor="end">25</text>
<line x1="243.6" y1="290.5" x2="246.5" y2="290.5" stroke="#111" stroke-width="0.9"/>
<text x="241.2" y="292.8" font-size="6.6" fill="#1a1a1a" text-anchor="end">50</text>
<line x1="243.6" y1="268.4" x2="246.5" y2="268.4" stroke="#111" stroke-width="0.9"/>
<text x="241.2" y="270.7" font-size="6.6" fill="#1a1a1a" text-anchor="end">75</text>
<line x1="243.6" y1="246.3" x2="246.5" y2="246.3" stroke="#111" stroke-width="0.9"/>
<text x="241.2" y="248.6" font-size="6.6" fill="#1a1a1a" text-anchor="end">100</text>
<line x1="256.4" y1="339.5" x2="256.4" y2="342" stroke="#111" stroke-width="0.8"/>
<line x1="276.6" y1="339.5" x2="276.6" y2="342" stroke="#111" stroke-width="0.8"/>
<line x1="256.4" y1="308.18" x2="256.4" y2="334.7" stroke="#111" stroke-width="0.7"/>
<rect x="248.2" y="318.79" width="16.4" height="14.14" fill="#174a8a"/>
<line x1="248.2" y1="324.98" x2="264.6" y2="324.98" stroke="#111" stroke-width="0.7"/>
<line x1="276.55" y1="246.3" x2="276.55" y2="263.98" stroke="#111" stroke-width="0.7"/>
<rect x="267.8" y="246.3" width="17.5" height="8.84" fill="#174a8a"/>
<line x1="267.8" y1="249.84" x2="285.3" y2="249.84" stroke="#111" stroke-width="0.7"/>
<path stroke="#111" stroke-width="2.6" stroke-linecap="round" fill="none" d="M256.3 334.7h0M256.7 332.0h0M256.6 329.4h0M255.9 326.7h0M256.1 324.1h0M256.3 322.3h0M256.9 319.7h0M256.3 317.0h0M256.4 315.3h0M256.3 311.7h0M256.5 309.9h0M256.1 308.2h0"/>
<path stroke="#111" stroke-width="2.6" stroke-linecap="round" fill="none" d="M276.7 264.0h0M276.7 258.7h0M276.9 256.0h0M276.3 253.4h0M276.9 251.6h0M277.2 249.8h0M276.8 249.0h0M276.8 248.1h0M275.9 246.3h0"/>
<text x="256.4" y="350.6" font-size="6.6" fill="#1a1a1a" text-anchor="middle">CD4<tspan dy="-2.2" font-size="4">+</tspan></text>
<text x="277" y="350.6" font-size="6.6" fill="#1a1a1a" text-anchor="middle">CD8<tspan dy="-2.2" font-size="4">+</tspan></text>
<text x="224.8" y="290.5" font-size="7.2" fill="#1a1a1a" text-anchor="middle" textLength="94" lengthAdjust="spacingAndGlyphs" transform="rotate(-90 224.8 290.5)">Expanded clones per patient (%)</text>
<text x="320.6" y="242.6" font-size="11.2" fill="#111" font-weight="bold">D</text>
<line x1="356.5" y1="241" x2="356.5" y2="339.4" stroke="#111" stroke-width="1"/>
<line x1="356" y1="338.9" x2="453" y2="338.9" stroke="#111" stroke-width="1"/>
<line x1="353.8" y1="336.1" x2="356.5" y2="336.1" stroke="#111" stroke-width="0.9"/>
<text x="351.6" y="338.4" font-size="6.6" fill="#1a1a1a" text-anchor="end">0</text>
<line x1="353.8" y1="314.3" x2="356.5" y2="314.3" stroke="#111" stroke-width="0.9"/>
<text x="351.6" y="316.6" font-size="6.6" fill="#1a1a1a" text-anchor="end">5</text>
<line x1="353.8" y1="292.5" x2="356.5" y2="292.5" stroke="#111" stroke-width="0.9"/>
<text x="351.6" y="294.8" font-size="6.6" fill="#1a1a1a" text-anchor="end">10</text>
<line x1="353.8" y1="270.7" x2="356.5" y2="270.7" stroke="#111" stroke-width="0.9"/>
<text x="351.6" y="273" font-size="6.6" fill="#1a1a1a" text-anchor="end">15</text>
<line x1="353.8" y1="248.9" x2="356.5" y2="248.9" stroke="#111" stroke-width="0.9"/>
<text x="351.6" y="251.2" font-size="6.6" fill="#1a1a1a" text-anchor="end">20</text>
<line x1="360.3" y1="338.9" x2="360.3" y2="341.8" stroke="#111" stroke-width="0.8"/>
<text x="362.5" y="345.6" font-size="6.2" fill="#1a1a1a" text-anchor="end" transform="rotate(-90 362.5 345.6)">191</text>
<path stroke="#1d4a85" stroke-width="1.8" stroke-linecap="round" fill="none" d="M360.4 329.8h0M360.4 330.7h0M359.6 330.0h0M360.5 329.6h0M361.1 332.0h0M361.0 331.0h0M359.9 331.8h0M359.8 328.9h0M360.3 335.0h0M360.4 335.5h0M359.8 330.2h0M360.0 325.0h0M360.8 325.8h0M360.4 328.7h0M360.7 327.3h0M360.3 324.7h0"/>
<path stroke="#1c2b44" stroke-width="1.9" stroke-linecap="round" fill="none" d="M360.3 315.6h0"/>
<line x1="366.65" y1="338.9" x2="366.65" y2="341.8" stroke="#111" stroke-width="0.8"/>
<text x="368.85" y="345.6" font-size="6.2" fill="#1a1a1a" text-anchor="end" transform="rotate(-90 368.85 345.6)">219</text>
<path stroke="#1d4a85" stroke-width="1.8" stroke-linecap="round" fill="none" d="M365.7 333.9h0M366.2 334.0h0M367.1 334.8h0M366.3 333.4h0M366.2 332.1h0M367.0 335.4h0M366.2 335.1h0M367.0 332.3h0M366.6 334.4h0M366.4 333.0h0M365.8 333.1h0M367.2 330.3h0M365.9 327.8h0M366.2 329.2h0M367.0 330.7h0M366.1 327.8h0"/>
<path stroke="#1c2b44" stroke-width="1.9" stroke-linecap="round" fill="none" d="M366.7 280.3h0"/>
<line x1="373" y1="338.9" x2="373" y2="341.8" stroke="#111" stroke-width="0.8"/>
<text x="375.2" y="345.6" font-size="6.2" fill="#1a1a1a" text-anchor="end" transform="rotate(-90 375.2 345.6)">192</text>
<path stroke="#1d4a85" stroke-width="1.8" stroke-linecap="round" fill="none" d="M373.1 335.5h0M373.1 334.0h0M372.6 333.8h0M372.3 335.0h0M373.0 335.0h0M373.4 333.0h0M372.6 334.5h0M372.4 334.9h0M372.8 333.8h0M373.1 333.7h0M373.3 334.3h0M372.9 332.8h0M372.5 332.4h0M373.0 331.3h0M373.3 332.4h0M373.0 332.6h0"/>
<path stroke="#1c2b44" stroke-width="1.9" stroke-linecap="round" fill="none" d=""/>
<line x1="379.35" y1="338.9" x2="379.35" y2="341.8" stroke="#111" stroke-width="0.8"/>
<text x="381.55" y="345.6" font-size="6.2" fill="#1a1a1a" text-anchor="end" transform="rotate(-90 381.55 345.6)">230</text>
<path stroke="#1d4a85" stroke-width="1.8" stroke-linecap="round" fill="none" d="M378.8 334.1h0M379.7 329.5h0M379.4 333.0h0M379.8 332.8h0M378.9 329.8h0M379.0 331.2h0M379.2 332.2h0M378.8 332.8h0M379.2 333.2h0M379.3 328.7h0M379.7 331.1h0M379.3 323.4h0M379.2 322.4h0M379.5 325.2h0M379.8 323.7h0M379.8 327.3h0"/>
<path stroke="#1c2b44" stroke-width="1.9" stroke-linecap="round" fill="none" d="M379.4 301.2h0M379.4 308.2h0"/>
<line x1="385.7" y1="338.9" x2="385.7" y2="341.8" stroke="#111" stroke-width="0.8"/>
<text x="387.9" y="345.6" font-size="6.2" fill="#1a1a1a" text-anchor="end" transform="rotate(-90 387.9 345.6)">213</text>
<path stroke="#1d4a85" stroke-width="1.8" stroke-linecap="round" fill="none" d="M386.1 333.9h0M385.9 332.3h0M386.0 330.5h0M385.3 329.9h0M386.1 332.6h0M385.4 331.1h0M384.9 330.6h0M385.7 331.7h0M385.9 329.6h0M385.4 332.9h0M385.0 335.0h0M385.2 327.6h0M385.6 327.3h0M384.7 326.3h0M386.1 325.9h0M386.1 329.4h0"/>
<path stroke="#1c2b44" stroke-width="1.9" stroke-linecap="round" fill="none" d="M385.7 282.9h0M385.7 314.7h0"/>
<line x1="392.05" y1="338.9" x2="392.05" y2="341.8" stroke="#111" stroke-width="0.8"/>
<text x="394.25" y="345.6" font-size="6.2" fill="#1a1a1a" text-anchor="end" transform="rotate(-90 394.25 345.6)">257</text>
<path stroke="#1d4a85" stroke-width="1.8" stroke-linecap="round" fill="none" d="M392.4 331.2h0M391.7 330.9h0M392.0 334.7h0M391.6 330.6h0M391.2 331.9h0M392.1 331.0h0M391.6 329.9h0M391.5 332.5h0M392.3 329.3h0M392.0 331.7h0M392.2 333.8h0M392.7 327.0h0M392.1 327.3h0M392.2 324.2h0M391.6 325.6h0M392.4 326.1h0"/>
<path stroke="#1c2b44" stroke-width="1.9" stroke-linecap="round" fill="none" d="M392.1 246.7h0"/>
<line x1="398.4" y1="338.9" x2="398.4" y2="341.8" stroke="#111" stroke-width="0.8"/>
<text x="400.6" y="345.6" font-size="6.2" fill="#1a1a1a" text-anchor="end" transform="rotate(-90 400.6 345.6)">144</text>
<path stroke="#1d4a85" stroke-width="1.8" stroke-linecap="round" fill="none" d="M397.9 331.3h0M398.7 329.4h0M398.0 328.7h0M398.4 334.3h0M398.2 330.8h0M398.5 333.8h0M398.2 332.0h0M398.7 334.8h0M398.0 329.7h0M399.3 332.8h0M398.7 334.6h0M398.1 327.6h0M398.0 326.1h0M398.3 326.7h0M398.2 324.6h0M398.1 327.3h0"/>
<path stroke="#1c2b44" stroke-width="1.9" stroke-linecap="round" fill="none" d="M398.4 303.4h0M398.4 314.7h0"/>
<line x1="404.75" y1="338.9" x2="404.75" y2="341.8" stroke="#111" stroke-width="0.8"/>
<text x="406.95" y="345.6" font-size="6.2" fill="#1a1a1a" text-anchor="end" transform="rotate(-90 406.95 345.6)">198</text>
<path stroke="#1d4a85" stroke-width="1.8" stroke-linecap="round" fill="none" d="M404.3 335.1h0M404.5 332.4h0M405.0 334.7h0M404.9 331.8h0M404.8 333.3h0M405.2 335.5h0M405.4 330.9h0M404.3 334.5h0M405.1 335.6h0M405.7 331.6h0M404.5 333.6h0M404.5 329.6h0M404.9 328.2h0M404.8 327.4h0M404.5 330.4h0M404.7 328.1h0"/>
<path stroke="#1c2b44" stroke-width="1.9" stroke-linecap="round" fill="none" d="M404.8 290.3h0"/>
<line x1="411.1" y1="338.9" x2="411.1" y2="341.8" stroke="#111" stroke-width="0.8"/>
<text x="413.3" y="345.6" font-size="6.2" fill="#1a1a1a" text-anchor="end" transform="rotate(-90 413.3 345.6)">222</text>
<path stroke="#1d4a85" stroke-width="1.8" stroke-linecap="round" fill="none" d="M411.1 334.0h0M411.7 333.6h0M410.6 334.8h0M410.6 334.6h0M410.9 331.9h0M411.9 332.8h0M411.7 334.6h0M410.7 331.0h0M410.9 334.0h0M411.3 333.0h0M411.1 332.6h0M411.5 327.5h0M410.9 328.4h0M410.4 327.9h0M411.3 329.5h0M411.6 329.8h0"/>
<path stroke="#1c2b44" stroke-width="1.9" stroke-linecap="round" fill="none" d="M411.1 316.0h0"/>
<line x1="417.45" y1="338.9" x2="417.45" y2="341.8" stroke="#111" stroke-width="0.8"/>
<text x="419.65" y="345.6" font-size="6.2" fill="#1a1a1a" text-anchor="end" transform="rotate(-90 419.65 345.6)">200</text>
<path stroke="#1d4a85" stroke-width="1.8" stroke-linecap="round" fill="none" d="M417.8 333.8h0M417.2 335.2h0M417.2 333.9h0M417.6 333.0h0M417.6 333.3h0M417.7 334.4h0M416.9 332.1h0M417.1 331.1h0M417.6 333.4h0M417.6 334.3h0M417.4 333.9h0M418.0 329.0h0M417.4 325.8h0M417.8 326.2h0M417.9 329.5h0M417.6 329.3h0"/>
<path stroke="#1c2b44" stroke-width="1.9" stroke-linecap="round" fill="none" d=""/>
<line x1="423.8" y1="338.9" x2="423.8" y2="341.8" stroke="#111" stroke-width="0.8"/>
<text x="426" y="345.6" font-size="6.2" fill="#1a1a1a" text-anchor="end" transform="rotate(-90 426 345.6)">105</text>
<path stroke="#1d4a85" stroke-width="1.8" stroke-linecap="round" fill="none" d="M424.3 334.3h0M424.0 334.3h0M424.1 333.5h0M424.3 334.8h0M423.9 334.9h0M424.1 334.6h0M424.4 334.7h0M424.0 333.9h0M423.6 333.6h0M424.1 334.3h0M424.6 333.2h0M423.7 331.2h0M424.0 331.2h0M424.0 331.4h0M424.2 331.0h0M423.6 332.4h0"/>
<path stroke="#1c2b44" stroke-width="1.9" stroke-linecap="round" fill="none" d=""/>
<line x1="430.15" y1="338.9" x2="430.15" y2="341.8" stroke="#111" stroke-width="0.8"/>
<text x="432.35" y="345.6" font-size="6.2" fill="#1a1a1a" text-anchor="end" transform="rotate(-90 432.35 345.6)">228</text>
<path stroke="#1d4a85" stroke-width="1.8" stroke-linecap="round" fill="none" d="M430.3 328.9h0M429.6 332.0h0M429.8 331.0h0M430.8 331.1h0M429.9 334.2h0M430.3 329.2h0M430.1 331.7h0M430.5 329.2h0M430.3 335.2h0M430.3 331.8h0M430.6 333.3h0M430.3 327.6h0M429.5 322.8h0M429.9 324.4h0M430.7 323.2h0M430.6 324.8h0"/>
<path stroke="#1c2b44" stroke-width="1.9" stroke-linecap="round" fill="none" d="M430.1 308.6h0"/>
<line x1="436.5" y1="338.9" x2="436.5" y2="341.8" stroke="#111" stroke-width="0.8"/>
<text x="438.7" y="345.6" font-size="6.2" fill="#1a1a1a" text-anchor="end" transform="rotate(-90 438.7 345.6)">199</text>
<path stroke="#1d4a85" stroke-width="1.8" stroke-linecap="round" fill="none" d="M436.7 335.1h0M436.6 334.2h0M436.4 333.8h0M436.5 332.5h0M435.7 335.4h0M435.7 335.2h0M436.2 332.5h0M436.6 334.8h0M437.2 335.6h0M436.7 335.3h0M436.1 332.9h0M436.3 329.5h0M436.0 328.5h0M436.5 330.9h0M436.5 329.3h0M436.5 331.2h0"/>
<path stroke="#1c2b44" stroke-width="1.9" stroke-linecap="round" fill="none" d=""/>
<line x1="442.85" y1="338.9" x2="442.85" y2="341.8" stroke="#111" stroke-width="0.8"/>
<text x="445.05" y="345.6" font-size="6.2" fill="#1a1a1a" text-anchor="end" transform="rotate(-90 445.05 345.6)">227</text>
<path stroke="#1d4a85" stroke-width="1.8" stroke-linecap="round" fill="none" d="M443.7 333.7h0M443.5 334.4h0M443.4 333.4h0M442.6 332.0h0M442.8 335.3h0M442.9 332.1h0M442.2 332.7h0M443.5 333.3h0M442.3 334.3h0M443.0 332.8h0M442.4 335.1h0M442.9 331.9h0M443.2 330.3h0M443.1 331.3h0M442.5 331.2h0M442.6 331.1h0"/>
<path stroke="#1c2b44" stroke-width="1.9" stroke-linecap="round" fill="none" d="M442.9 313.4h0M442.9 323.0h0"/>
<line x1="449.2" y1="338.9" x2="449.2" y2="341.8" stroke="#111" stroke-width="0.8"/>
<text x="451.4" y="345.6" font-size="6.2" fill="#1a1a1a" text-anchor="end" transform="rotate(-90 451.4 345.6)">232</text>
<path stroke="#1d4a85" stroke-width="1.8" stroke-linecap="round" fill="none" d="M448.4 331.0h0M448.3 330.8h0M448.7 334.8h0M449.0 333.0h0M449.4 330.1h0M449.0 334.1h0M449.3 333.8h0M449.7 330.9h0M450.4 331.4h0M449.6 331.2h0M448.8 330.9h0M449.6 326.1h0M449.2 329.5h0M449.3 327.9h0M449.6 328.4h0M449.5 328.5h0"/>
<path stroke="#1c2b44" stroke-width="1.9" stroke-linecap="round" fill="none" d=""/>
<text x="404.8" y="366.3" font-size="8.2" fill="#1a1a1a" text-anchor="middle" textLength="20.4" lengthAdjust="spacingAndGlyphs">Patient</text>
<text x="337.2" y="289.2" font-size="7.6" fill="#1a1a1a" text-anchor="middle" textLength="90" lengthAdjust="spacingAndGlyphs" transform="rotate(-90 337.2 289.2)">Frequency in CD8<tspan dy="-2.4" font-size="4.6">+</tspan><tspan dy="2.4"> T cells (%)</tspan></text>
<text x="7.4" y="388.7" font-size="11" fill="#111" font-weight="bold">E</text>
<path stroke="#c4c4c4" stroke-width="1" stroke-linecap="round" fill="none" d="M88.2 445.4h0M94.1 445.1h0M93.5 447.1h0M85.7 442.0h0M86.7 446.6h0M85.6 450.3h0M90.6 453.0h0M87.7 448.3h0M91.4 435.6h0M79.7 450.4h0M95.0 452.8h0M87.6 459.7h0M91.1 455.6h0M87.4 445.9h0M86.3 445.2h0M90.1 467.1h0M91.7 457.1h0M87.1 465.7h0M87.3 468.0h0M91.1 444.5h0M84.1 454.1h0M81.2 454.7h0M89.8 455.5h0M85.0 455.3h0M79.4 452.6h0M84.3 452.4h0M85.9 439.0h0M82.6 449.7h0M81.3 445.0h0M88.2 452.0h0M92.0 447.3h0M87.0 455.9h0M84.7 457.6h0M89.7 453.5h0M91.2 453.5h0M86.6 451.7h0M90.5 447.4h0M92.7 449.7h0M87.1 447.0h0M84.3 454.1h0M89.6 451.1h0M89.1 455.7h0M92.9 440.4h0M82.2 458.1h0M85.0 444.9h0M84.2 445.1h0M80.2 449.4h0M88.6 446.5h0M90.4 453.3h0M84.7 446.4h0M94.2 442.4h0M91.7 444.2h0M90.8 461.5h0M89.8 451.4h0M92.3 441.7h0M82.0 451.1h0M90.8 438.6h0M90.7 465.3h0M80.0 438.8h0M89.6 454.8h0M86.9 455.3h0M91.5 439.4h0M86.0 453.4h0M87.9 459.0h0M89.5 454.7h0M84.1 453.1h0M90.7 458.6h0M87.5 452.3h0M90.2 453.7h0M85.7 450.0h0M92.9 456.1h0M90.7 443.5h0M87.2 457.3h0M90.8 447.0h0M93.7 442.3h0M96.1 453.9h0M80.9 464.5h0M92.0 458.7h0M90.1 446.9h0M87.6 456.6h0M83.5 447.4h0M93.7 450.0h0M82.3 451.7h0M90.6 432.5h0M93.9 452.5h0M80.8 442.8h0M86.6 445.4h0M82.1 439.2h0M89.1 438.9h0M94.8 443.5h0M97.1 457.6h0M80.0 464.3h0M85.4 450.8h0M91.2 459.7h0M95.1 448.9h0M89.9 435.7h0M84.6 452.2h0M89.3 454.6h0M87.9 447.6h0M87.1 453.4h0M84.7 455.6h0M89.7 444.1h0M89.4 439.2h0M87.6 449.2h0M87.0 449.3h0M82.2 448.2h0M85.8 458.9h0M93.4 464.8h0M87.1 447.7h0M81.5 456.6h0M94.0 458.5h0M90.4 456.7h0M97.5 459.4h0M88.3 447.9h0M85.9 456.9h0M81.5 467.2h0M94.0 457.4h0M99.6 446.0h0M84.3 455.9h0M85.1 461.1h0M90.7 454.0h0M84.3 446.5h0M86.8 463.3h0M86.4 441.0h0M88.9 455.0h0M92.9 450.9h0M88.1 441.5h0M92.1 460.8h0M86.1 453.8h0M89.5 441.7h0M78.4 455.8h0M81.5 447.5h0M91.6 435.8h0M85.3 445.5h0M90.6 453.1h0M90.4 456.1h0M94.0 452.3h0M91.7 451.4h0M92.6 454.8h0M87.5 449.3h0"/>
<path stroke="#c4c4c4" stroke-width="0.9" stroke-linecap="round" fill="none" d="M57.9 441.8h0M52.7 431.8h0M53.5 419.4h0M54.7 433.0h0M46.7 466.9h0M48.5 447.8h0M53.7 428.0h0M50.6 417.7h0M53.7 438.7h0M49.6 427.6h0M53.4 457.1h0M48.7 443.0h0M53.4 442.5h0M44.1 432.6h0M58.7 429.4h0M49.4 434.8h0M44.1 448.1h0M50.9 437.5h0M50.1 425.1h0M52.8 447.9h0M46.3 432.7h0M54.0 428.9h0M70.1 418.9h0M45.6 422.1h0M53.7 421.1h0M53.0 444.2h0M42.9 437.9h0M46.2 427.0h0M54.3 444.6h0M51.8 436.1h0M60.2 435.2h0M48.5 395.4h0M52.9 426.7h0M66.6 437.5h0M48.2 452.5h0M47.5 455.8h0M51.8 450.0h0M51.8 413.7h0"/>
<path stroke="#6a6a6a" stroke-width="1.1" stroke-linecap="round" fill="none" d="M44.4 431.5h0M52.7 429.3h0M51.1 441.0h0M53.9 431.5h0M50.6 425.6h0M51.7 449.5h0M46.5 443.9h0M52.3 447.2h0M49.7 439.3h0M52.0 430.7h0M52.4 427.0h0M50.6 428.6h0M52.0 443.4h0M51.0 433.3h0M53.3 414.2h0M52.5 431.5h0M49.4 415.0h0M49.2 434.0h0M56.2 417.6h0M50.7 416.8h0M54.0 433.4h0M52.2 431.1h0M49.3 412.1h0M48.8 441.0h0M51.4 458.0h0M51.8 414.2h0M52.8 453.8h0M47.2 423.7h0M49.2 426.1h0M50.7 429.9h0M55.8 414.7h0M43.9 447.6h0M52.3 437.9h0M49.4 423.0h0M52.3 428.7h0M49.5 413.8h0M52.1 427.8h0M55.7 443.2h0M52.1 411.4h0M52.3 426.8h0M52.1 433.8h0M48.7 444.6h0M52.6 448.2h0M50.4 426.5h0M48.6 423.1h0"/>
<path stroke="#6a6a6a" stroke-width="1" stroke-linecap="round" fill="none" d="M89.5 426.4h0M81.4 430.2h0M81.9 420.1h0M95.8 417.4h0M101.9 425.1h0M87.7 404.1h0M83.1 418.8h0M90.7 427.5h0M66.1 406.8h0M84.8 426.9h0M74.4 414.2h0M108.9 399.3h0M92.2 417.0h0M86.4 409.3h0M83.1 420.9h0M59.9 407.5h0M92.1 427.5h0M101.3 411.4h0M77.7 421.2h0M91.8 412.7h0M92.2 415.1h0M69.5 428.7h0"/>
<path stroke="#6a6a6a" stroke-width="1.4" stroke-linecap="round" fill="none" d="M88.1 444.3h0M86.8 441.3h0M85.0 447.1h0M90.0 450.1h0M89.1 448.2h0M86.9 447.3h0M88.1 455.0h0M85.4 455.5h0M85.5 454.5h0M85.9 446.8h0M88.3 451.4h0M88.2 450.2h0M86.0 444.5h0M89.1 455.1h0M89.2 451.5h0M88.0 448.8h0M89.8 457.6h0M87.0 454.6h0M87.4 455.0h0M88.6 456.6h0M87.5 454.4h0M89.3 445.2h0M85.0 449.3h0M90.6 455.7h0M86.0 447.5h0M87.3 451.2h0M84.7 452.9h0M88.9 457.7h0M90.3 457.0h0M89.8 455.2h0M89.4 450.2h0M84.3 455.3h0M86.0 453.5h0M86.6 450.3h0M85.6 457.3h0M90.0 453.3h0M88.0 447.6h0M87.5 456.9h0M88.6 449.9h0M85.6 453.8h0M85.7 444.0h0M85.7 451.0h0M88.6 446.7h0M88.3 446.6h0M88.8 442.3h0M89.9 460.9h0M84.7 450.4h0M86.4 452.1h0M87.9 456.1h0M84.8 450.5h0M86.5 453.4h0M89.7 444.8h0M89.9 451.9h0M89.9 449.1h0M87.7 453.3h0M87.2 451.9h0M89.9 444.7h0M86.8 442.5h0M88.3 446.4h0M90.4 454.4h0M86.8 453.0h0M86.3 452.9h0M87.6 441.7h0M88.9 438.7h0M88.6 448.2h0M87.9 449.5h0M88.8 448.3h0M84.2 452.7h0M85.8 450.2h0M87.9 445.6h0M85.6 447.0h0M84.8 451.7h0M85.1 451.4h0M85.7 450.7h0M87.2 461.4h0M85.5 449.8h0M88.1 451.6h0M91.2 446.4h0M87.3 449.4h0M90.3 453.4h0M88.2 453.6h0M85.2 450.3h0M87.1 452.8h0M85.5 451.3h0M89.2 442.4h0M85.2 435.9h0M90.4 461.6h0M88.8 454.8h0M83.4 450.7h0M89.2 443.0h0M90.9 445.1h0M85.9 457.2h0M89.7 438.2h0M83.8 449.5h0M88.1 455.0h0M84.1 451.7h0M88.6 454.5h0M83.8 450.4h0M82.1 462.0h0M88.4 446.3h0M92.4 444.7h0M86.3 452.3h0M89.3 457.6h0M87.8 450.7h0M86.9 455.8h0M88.9 448.6h0M91.0 445.5h0M85.0 457.4h0M88.8 458.2h0M88.3 458.1h0M84.6 449.0h0M91.0 445.7h0M91.7 445.6h0M85.6 450.0h0M91.2 453.7h0M87.7 453.3h0M87.3 444.4h0M90.8 451.9h0M88.1 451.1h0M88.3 451.4h0M90.8 450.9h0M90.3 450.1h0M89.5 453.7h0M84.7 451.6h0M84.3 452.0h0M90.0 447.8h0M85.7 452.8h0M87.9 450.4h0M85.3 441.3h0M87.2 453.2h0M84.9 449.8h0M91.0 455.3h0M85.5 450.3h0M87.3 450.6h0M87.2 452.0h0M90.1 450.9h0M84.6 448.9h0M87.5 442.8h0M87.2 459.5h0M88.7 443.7h0M88.6 449.4h0M86.6 454.0h0M88.1 452.7h0M86.8 453.6h0M88.6 454.5h0M87.4 456.8h0M86.2 452.4h0M87.5 464.4h0M88.4 446.3h0M92.4 452.0h0M86.6 449.3h0M88.2 448.5h0M90.7 452.3h0M83.2 457.7h0M83.9 447.7h0M85.1 447.7h0M87.4 454.3h0M92.7 453.5h0M88.4 460.0h0M90.1 455.7h0M87.1 452.1h0M82.4 449.5h0M82.7 452.0h0M89.7 450.2h0M88.0 444.7h0M84.9 451.0h0M89.9 450.2h0M84.4 449.9h0M90.0 449.0h0M90.6 458.8h0M86.0 454.2h0M85.3 455.3h0M89.4 448.2h0M85.3 446.3h0M89.4 449.7h0M85.1 452.1h0M89.3 449.4h0M87.8 450.1h0M86.7 455.4h0M85.7 452.4h0M88.1 446.5h0M83.6 449.0h0M87.0 448.0h0M86.8 451.8h0M89.0 445.6h0M85.0 450.2h0M91.2 454.2h0M86.9 451.1h0M85.2 446.8h0M90.5 448.2h0M91.1 451.6h0M87.2 453.2h0M85.7 454.9h0M87.6 450.3h0M86.2 444.9h0M86.9 457.6h0M90.9 452.4h0M88.4 452.9h0M87.9 452.4h0M88.3 446.2h0M87.5 449.5h0M89.4 452.2h0M89.4 455.8h0M86.8 451.3h0M87.8 436.6h0M92.7 449.9h0M88.5 452.6h0M87.2 457.0h0M91.9 454.3h0M87.6 462.5h0M85.3 457.6h0M89.0 457.2h0M85.7 455.3h0M86.6 444.6h0M88.3 454.9h0M87.3 453.8h0M86.0 448.6h0M86.4 453.7h0M86.4 452.9h0M90.0 448.9h0M86.1 450.4h0M86.4 449.8h0M91.9 452.1h0M86.4 449.0h0M90.7 453.5h0M90.4 442.2h0M87.3 449.7h0M84.6 443.3h0M88.6 448.8h0M89.0 453.4h0M89.6 451.1h0M87.8 450.5h0M90.1 451.3h0M90.5 458.2h0M85.4 445.9h0M90.6 455.1h0M88.0 444.0h0M86.4 448.8h0M86.9 451.8h0M91.5 447.1h0M89.7 451.9h0M83.8 454.4h0M87.8 445.5h0M87.3 450.6h0M87.2 449.3h0M86.5 442.1h0M84.5 450.1h0M89.4 447.3h0M85.6 457.2h0M86.8 447.0h0M86.3 458.8h0M86.1 448.5h0M89.2 459.9h0M88.4 453.5h0M86.2 453.1h0M85.6 454.7h0M86.6 455.2h0M89.6 457.5h0M87.9 459.0h0M88.1 449.4h0M86.9 445.2h0M87.1 438.7h0M88.1 449.2h0M83.7 454.5h0M91.0 452.7h0M85.9 451.5h0M86.4 449.4h0M90.4 448.1h0M88.1 449.7h0M87.7 452.8h0M86.4 442.9h0M84.3 454.4h0M88.0 444.3h0M90.1 450.3h0M85.7 448.1h0M90.5 449.3h0M85.2 446.2h0M86.1 445.7h0M88.7 449.9h0M87.6 446.0h0M89.1 462.3h0M86.0 449.1h0M85.4 448.0h0M83.7 448.4h0M85.1 446.0h0M85.3 439.7h0M84.6 449.8h0M88.2 452.4h0M86.2 444.1h0M83.4 451.0h0M92.8 445.4h0M85.8 450.8h0M85.0 452.6h0M90.2 453.2h0M90.0 453.0h0M85.2 447.7h0M84.5 455.0h0M85.5 448.9h0M90.0 452.6h0M86.9 454.2h0M85.9 449.6h0M87.5 445.1h0M90.1 453.8h0M84.7 445.8h0M86.8 446.9h0M84.7 445.9h0M92.2 454.8h0M91.4 450.2h0M89.6 440.6h0M87.3 454.3h0M89.0 460.5h0M83.2 459.2h0M88.2 448.3h0M84.8 451.3h0M84.8 453.3h0M86.1 455.1h0M86.9 451.1h0M88.8 445.9h0M89.1 454.4h0M88.2 453.8h0M85.6 444.8h0M89.0 449.3h0M87.3 452.2h0M90.1 450.9h0M85.7 453.4h0M81.8 454.6h0M86.6 453.4h0M92.1 450.4h0M88.6 444.7h0M87.2 453.8h0M89.5 457.4h0M88.7 460.0h0M88.6 450.8h0M86.5 450.8h0M87.8 457.6h0M88.0 457.6h0M86.3 452.5h0M85.3 454.2h0M87.9 447.4h0M89.6 453.6h0M89.0 447.1h0M88.6 450.3h0M88.7 450.4h0M93.0 448.8h0M88.1 441.2h0M89.8 447.1h0M91.7 452.5h0M87.7 450.7h0M88.2 449.1h0M89.8 452.9h0M91.1 454.1h0M88.3 454.8h0M88.4 447.2h0M87.8 451.0h0M85.1 449.4h0M89.9 446.9h0M87.1 444.0h0M84.0 450.5h0M87.3 446.9h0M84.0 460.8h0M85.5 450.5h0M87.6 449.9h0M85.7 449.1h0M89.9 459.6h0M84.5 446.6h0M88.2 450.2h0M88.8 447.4h0M90.7 450.3h0M89.6 450.8h0M88.1 456.0h0M87.8 444.4h0M87.5 450.8h0M90.0 458.4h0M86.2 448.6h0M88.7 450.1h0M87.4 446.8h0M88.1 438.9h0M87.1 450.4h0M92.1 456.3h0M86.2 448.8h0M88.2 442.4h0M88.2 452.1h0M88.9 451.3h0M88.6 455.5h0M88.5 455.1h0M89.7 449.7h0M84.5 452.8h0M87.6 442.6h0M85.0 456.0h0M88.1 451.8h0M85.1 455.9h0M85.6 455.8h0M87.5 449.6h0M90.6 450.2h0M88.8 446.9h0M88.2 441.4h0M90.6 450.3h0M85.6 451.6h0M83.2 445.9h0M86.7 454.2h0M87.0 451.4h0M90.2 453.0h0M92.1 447.4h0M84.8 442.8h0M92.8 454.5h0M90.9 453.7h0M89.4 450.4h0M88.4 449.0h0M92.7 449.6h0M87.8 450.3h0M86.6 448.6h0M87.9 441.7h0M84.8 454.5h0M88.6 444.0h0M87.4 449.4h0M88.3 449.5h0M88.4 452.1h0M85.4 443.5h0M90.4 456.5h0M85.5 453.9h0M89.5 454.5h0M84.3 456.8h0M88.4 447.3h0M85.9 436.5h0M87.7 452.5h0M86.3 457.0h0M83.0 456.3h0M85.3 448.5h0M87.8 450.5h0M88.9 452.3h0"/>
<path stroke="#6a6a6a" stroke-width="1.1" stroke-linecap="round" fill="none" d="M45.7 416.6h0M50.3 410.9h0M50.4 414.1h0M59.3 408.3h0M50.4 413.2h0M59.3 412.4h0M53.0 412.6h0M46.3 410.4h0M61.9 408.4h0M49.1 411.0h0M55.5 410.4h0M59.8 415.6h0M50.9 415.2h0M48.1 407.8h0M57.2 414.2h0M53.3 410.3h0M48.1 413.6h0M48.7 410.3h0M51.4 406.8h0M56.9 415.6h0M51.9 413.6h0M55.6 407.7h0M59.6 405.4h0M58.1 410.1h0M58.8 407.9h0M57.9 410.7h0M46.6 414.2h0M57.9 417.1h0M54.3 410.8h0M52.5 416.8h0M48.7 416.1h0M46.6 410.5h0M48.6 406.2h0M52.9 415.0h0M48.3 414.1h0M49.7 420.2h0M50.5 417.0h0M55.7 414.7h0M51.8 417.9h0M52.4 408.3h0"/>
<path stroke="#c8141e" stroke-width="1.6" stroke-linecap="round" fill="none" d="M53.4 411.0h0M52.0 410.5h0M58.2 413.3h0M54.6 411.4h0M43.3 406.1h0M57.1 411.5h0M50.0 415.4h0M55.2 406.3h0M51.3 409.3h0M53.6 411.5h0M54.8 407.7h0M53.4 409.9h0M49.9 411.6h0M57.2 407.8h0M54.1 412.3h0M52.8 412.6h0M55.0 407.9h0M51.2 411.5h0M58.7 414.5h0M53.5 411.0h0M54.0 412.7h0M53.9 413.3h0M50.0 410.8h0M49.2 414.2h0M53.5 412.6h0M53.9 408.7h0M57.0 412.9h0M54.3 413.9h0M49.5 413.7h0M54.5 409.7h0M55.4 412.8h0M56.0 415.3h0M53.9 412.1h0M49.1 414.8h0M56.5 415.1h0M50.6 411.4h0M54.6 413.4h0M48.0 410.7h0M55.2 414.5h0M50.4 411.3h0M56.2 410.0h0M58.3 411.5h0M56.5 411.3h0M49.2 412.6h0M49.9 412.8h0M50.2 408.3h0M54.9 409.7h0M53.9 412.5h0M53.3 412.9h0M53.8 411.8h0M54.7 418.9h0M54.9 414.7h0M58.1 411.3h0M52.7 413.6h0M53.5 415.3h0M47.1 412.6h0M48.7 406.7h0M50.7 411.8h0M49.2 411.7h0M53.5 417.5h0M56.1 406.4h0M51.5 415.9h0M51.3 411.2h0M51.2 414.2h0M53.2 410.8h0M51.1 412.1h0M54.1 414.8h0M53.8 411.8h0M53.9 414.6h0M55.2 411.4h0M52.9 410.5h0M53.3 411.0h0M58.3 410.2h0M52.7 411.3h0M55.3 415.4h0M53.0 408.4h0M51.4 407.0h0M51.4 411.6h0M50.3 416.4h0M52.8 414.6h0M50.9 415.3h0M51.5 415.1h0M56.6 409.6h0M52.4 412.0h0M56.3 404.2h0M53.6 409.9h0M55.5 413.4h0M50.9 407.3h0M53.3 405.9h0M61.0 408.0h0M55.4 412.3h0M55.9 414.9h0M53.5 418.9h0M55.4 415.7h0M49.2 407.4h0M50.1 405.2h0M54.1 412.1h0M55.3 414.7h0M51.5 407.2h0M52.2 410.2h0M51.7 410.5h0M52.2 411.8h0M49.1 411.2h0M48.3 413.2h0M52.5 414.7h0M47.4 411.9h0M49.7 413.9h0M50.7 417.3h0M49.5 408.9h0M53.5 408.8h0M51.4 413.2h0M52.5 417.0h0M49.6 412.2h0M50.4 414.8h0M54.3 410.9h0M53.9 414.4h0M51.3 410.0h0M53.9 413.7h0M53.3 412.9h0M53.2 412.9h0M57.7 415.7h0M51.5 414.8h0M54.0 410.2h0M54.0 414.3h0M52.0 407.1h0M49.1 414.6h0M54.8 419.6h0M53.5 413.3h0M52.9 413.3h0M52.8 412.1h0M52.8 414.2h0M49.9 410.6h0M53.6 413.8h0M47.1 411.1h0M52.6 410.7h0M48.0 412.3h0M51.6 411.8h0M54.9 407.1h0M51.9 417.8h0M51.2 412.3h0M54.2 407.2h0M51.8 415.0h0M51.4 411.9h0M51.4 412.5h0M57.3 413.9h0M54.7 409.4h0M54.1 403.7h0M48.9 411.7h0M54.6 412.6h0M48.6 414.8h0M54.1 409.8h0M49.2 411.2h0M58.7 413.1h0M47.4 411.1h0M56.4 411.3h0M55.1 412.7h0M47.1 409.2h0M51.9 416.4h0M57.1 409.4h0M56.1 412.1h0M47.5 411.0h0M51.0 410.0h0M49.0 413.4h0M49.4 414.8h0M50.6 416.0h0M58.3 413.6h0M53.0 410.7h0M51.9 414.4h0M51.6 407.9h0M54.7 412.1h0M54.7 413.4h0M49.8 413.5h0M57.1 408.7h0M49.2 407.7h0M51.7 416.6h0M54.0 410.5h0M57.9 407.3h0M51.5 408.4h0M53.5 411.9h0M56.6 415.2h0M54.5 411.9h0M56.1 415.3h0M55.8 412.5h0M53.4 413.2h0M54.6 414.6h0M55.4 410.8h0M52.5 412.7h0M57.6 410.8h0M46.4 410.1h0M49.7 413.7h0M57.1 409.6h0M53.9 412.1h0M50.6 409.6h0M53.8 411.6h0M56.0 410.4h0M50.9 414.9h0M55.0 412.0h0M52.2 412.0h0M52.2 416.4h0M52.4 403.7h0M56.0 408.7h0M49.1 404.1h0M51.5 411.8h0M54.7 413.0h0M48.8 413.6h0M47.7 412.5h0M54.4 409.3h0M52.6 416.6h0M52.1 412.6h0M53.0 411.0h0M49.6 408.6h0M61.6 412.9h0M49.6 410.3h0M51.3 410.4h0M48.2 412.3h0M51.3 412.3h0M57.3 409.4h0M52.7 415.2h0M54.4 408.9h0M51.1 408.6h0M58.2 412.5h0M53.1 412.0h0M48.7 411.9h0M55.0 410.5h0M51.5 411.8h0M54.5 410.1h0M53.0 407.0h0M53.4 413.7h0M53.0 408.8h0M49.8 411.0h0M47.9 413.7h0M55.6 411.7h0M52.2 419.3h0M53.5 407.7h0M51.2 409.6h0M46.3 411.9h0M48.6 415.4h0M56.9 411.0h0M50.2 407.6h0M51.4 414.8h0M48.1 409.1h0M51.0 411.1h0M51.4 414.1h0M51.9 409.8h0M52.4 410.4h0M50.6 413.0h0M50.8 411.1h0M52.6 412.4h0M53.6 409.0h0M52.2 411.3h0M58.0 408.6h0M53.2 407.3h0M53.1 416.5h0M50.6 412.9h0M55.8 414.2h0M49.4 408.9h0M47.6 411.5h0M49.6 411.0h0M54.5 407.6h0M49.0 413.1h0M56.6 409.6h0M52.5 411.0h0M47.9 407.4h0M51.9 414.4h0M58.1 413.7h0M49.9 412.7h0M48.5 409.1h0M54.2 410.1h0M56.6 415.0h0M55.7 410.8h0M51.6 412.4h0M53.2 412.0h0M53.6 408.5h0M56.2 415.9h0M59.2 406.1h0M52.2 412.2h0M56.6 411.4h0M51.5 407.1h0M54.4 412.5h0M49.7 413.1h0M50.2 411.8h0M53.9 409.3h0M49.8 412.9h0M55.3 414.7h0M50.9 412.2h0M52.8 416.4h0M52.3 414.0h0M51.5 413.8h0M53.0 415.5h0M55.9 409.8h0M62.2 410.2h0M48.9 413.1h0M53.5 413.1h0M52.0 415.8h0M49.7 414.8h0M53.5 412.1h0M49.9 412.2h0M52.3 410.9h0M56.4 410.6h0M46.3 410.4h0M53.3 414.2h0M54.0 410.3h0M49.6 410.6h0M54.2 412.1h0M53.7 410.2h0M51.5 411.0h0M56.3 405.5h0M48.5 412.7h0M54.6 410.8h0M51.9 412.2h0M49.3 412.7h0M52.0 406.5h0M51.5 418.4h0M55.1 412.2h0M47.9 412.2h0M52.0 406.8h0M51.2 413.5h0M57.5 413.0h0M49.1 410.8h0M55.9 412.6h0M47.1 415.5h0M53.6 411.0h0M52.1 409.4h0M53.7 415.7h0M50.4 412.7h0M46.5 411.5h0M47.8 418.4h0M56.6 412.5h0M53.2 411.5h0M49.9 412.8h0M55.3 410.9h0M50.2 412.6h0M50.3 412.4h0M48.8 410.2h0M56.2 411.3h0M58.6 412.9h0M49.5 413.1h0M53.4 413.6h0M55.6 414.2h0M59.1 412.7h0M45.1 413.4h0M53.0 410.9h0M54.5 411.2h0M47.9 414.9h0M53.8 406.4h0M53.1 413.0h0M54.8 420.8h0M50.7 406.7h0M53.8 416.1h0M50.6 407.0h0M54.4 412.9h0M53.0 416.4h0M51.3 416.0h0M48.1 409.3h0M57.6 408.2h0M55.9 407.8h0M55.2 413.8h0M50.4 410.7h0M51.4 411.8h0M57.7 412.5h0M54.8 412.9h0M49.9 413.3h0M52.7 412.1h0M52.9 407.2h0M51.9 415.8h0M49.6 404.0h0M56.4 415.2h0M54.3 410.0h0M51.9 411.2h0M47.6 410.3h0M50.7 410.7h0M52.5 411.7h0M55.2 410.9h0M51.4 408.6h0M56.0 414.1h0M53.0 410.1h0M50.2 415.5h0M43.9 411.3h0M48.9 409.7h0M47.9 412.9h0M52.1 414.2h0M53.6 409.1h0M56.9 410.9h0M52.5 415.7h0M49.0 408.9h0M59.9 409.3h0M53.5 412.2h0M51.7 408.3h0M51.8 404.8h0M48.4 407.0h0M54.5 412.8h0M53.7 413.5h0M57.5 413.4h0M56.0 412.8h0M55.3 408.3h0M56.5 413.6h0M51.7 414.9h0M51.2 409.8h0M52.4 414.3h0M48.7 410.7h0"/>
<path stroke="#c8141e" stroke-width="1.2" stroke-linecap="round" fill="none" d="M50.7 416.1h0M51.2 428.6h0M45.7 426.4h0M54.5 420.6h0M47.5 423.6h0M49.8 422.7h0M48.6 420.4h0M51.5 432.2h0M51.4 442.9h0M50.2 429.2h0M54.4 430.6h0M51.0 425.2h0M48.9 422.2h0M41.5 437.4h0M49.3 422.1h0M49.3 426.6h0M47.5 423.5h0M47.5 427.8h0M51.9 424.0h0M53.3 427.8h0M55.8 416.7h0M53.6 423.7h0M48.0 432.5h0M50.9 418.1h0"/>
<path stroke="#c8141e" stroke-width="1.1" stroke-linecap="round" fill="none" d="M73.8 405.2h0M94.1 426.8h0M84.5 416.8h0M91.1 411.1h0M58.0 410.1h0M81.9 427.2h0M67.7 426.7h0M66.5 410.3h0M84.5 415.3h0M92.3 420.8h0M65.4 406.1h0M69.3 409.7h0M74.6 421.3h0M79.1 409.0h0"/>
<path stroke="#555" stroke-width="1" stroke-linecap="round" fill="none" d="M51.4 406.9h0M48.2 412.6h0M50.2 409.1h0M55.3 413.4h0M50.0 412.5h0M48.3 407.7h0M50.7 408.9h0M59.1 408.6h0M53.5 409.3h0M50.9 411.4h0M53.4 414.1h0M54.4 416.0h0M53.3 409.1h0M46.5 410.3h0M53.9 416.7h0M52.1 414.7h0M55.8 412.7h0M48.1 404.9h0M56.5 408.9h0M51.1 412.5h0M46.8 410.2h0M57.5 418.0h0M51.0 412.3h0M54.1 412.8h0M52.3 408.7h0M56.7 408.8h0M56.7 410.0h0M56.7 410.1h0M55.3 411.3h0M47.1 413.1h0"/>
<line x1="59.7" y1="392.5" x2="59.7" y2="478.5" stroke="#dddddd" stroke-width="0.7"/>
<line x1="39.5" y1="439.2" x2="126.3" y2="439.2" stroke="#b0b0b0" stroke-width="0.7"/>
<line x1="39.5" y1="392.3" x2="39.5" y2="479.5" stroke="#111" stroke-width="1"/>
<line x1="39" y1="479" x2="126.3" y2="479" stroke="#111" stroke-width="1.1"/>
<line x1="36.7" y1="395.3" x2="39.5" y2="395.3" stroke="#111" stroke-width="0.9"/>
<text x="32.9" y="397.5" font-size="6.4" fill="#1a1a1a" text-anchor="end">10<tspan dy="-2.4" font-size="3.97">5</tspan></text>
<line x1="36.7" y1="415.3" x2="39.5" y2="415.3" stroke="#111" stroke-width="0.9"/>
<text x="32.9" y="417.5" font-size="6.4" fill="#1a1a1a" text-anchor="end">10<tspan dy="-2.4" font-size="3.97">4</tspan></text>
<line x1="36.7" y1="435.4" x2="39.5" y2="435.4" stroke="#111" stroke-width="0.9"/>
<text x="32.9" y="437.6" font-size="6.4" fill="#1a1a1a" text-anchor="end">10<tspan dy="-2.4" font-size="3.97">3</tspan></text>
<line x1="36.7" y1="455.4" x2="39.5" y2="455.4" stroke="#111" stroke-width="0.9"/>
<text x="32.9" y="457.6" font-size="6.4" fill="#1a1a1a" text-anchor="end">10<tspan dy="-2.4" font-size="3.97">2</tspan></text>
<line x1="36.7" y1="465.2" x2="39.5" y2="465.2" stroke="#111" stroke-width="0.9"/>
<text x="32.7" y="467.4" font-size="6.4" fill="#1a1a1a" text-anchor="end">0</text>
<line x1="36.7" y1="474.6" x2="39.5" y2="474.6" stroke="#111" stroke-width="0.9"/>
<text x="32.9" y="476.8" font-size="6.4" fill="#1a1a1a" text-anchor="end">−10<tspan dy="-2.4" font-size="3.97">2</tspan></text>
<line x1="43.7" y1="479" x2="43.7" y2="482" stroke="#111" stroke-width="0.9"/>
<text x="44.6" y="490.6" font-size="6.4" fill="#1a1a1a" text-anchor="middle">−10<tspan dy="-2.4" font-size="3.97">2</tspan></text>
<line x1="53.7" y1="479" x2="53.7" y2="482" stroke="#111" stroke-width="0.9"/>
<text x="53.7" y="490.6" font-size="6.4" fill="#1a1a1a" text-anchor="middle">0</text>
<line x1="62.6" y1="479" x2="62.6" y2="482" stroke="#111" stroke-width="0.9"/>
<text x="63.5" y="490.6" font-size="6.4" fill="#1a1a1a" text-anchor="middle">10<tspan dy="-2.4" font-size="3.97">2</tspan></text>
<line x1="83.6" y1="479" x2="83.6" y2="482" stroke="#111" stroke-width="0.9"/>
<text x="84.5" y="490.6" font-size="6.4" fill="#1a1a1a" text-anchor="middle">10<tspan dy="-2.4" font-size="3.97">3</tspan></text>
<line x1="103.8" y1="479" x2="103.8" y2="482" stroke="#111" stroke-width="0.9"/>
<text x="104.7" y="490.6" font-size="6.4" fill="#1a1a1a" text-anchor="middle">10<tspan dy="-2.4" font-size="3.97">4</tspan></text>
<line x1="124.3" y1="479" x2="124.3" y2="482" stroke="#111" stroke-width="0.9"/>
<text x="125.2" y="490.6" font-size="6.4" fill="#1a1a1a" text-anchor="middle">10<tspan dy="-2.4" font-size="3.97">5</tspan></text>
<text x="53" y="396.5" font-size="5.6" fill="#c0392b" text-anchor="middle">91.2</text>
<text x="53" y="402.4" font-size="5.6" fill="#555" text-anchor="middle">40.4</text>
<text x="93" y="396.5" font-size="5.6" fill="#c0392b" text-anchor="middle">5.6</text>
<text x="93" y="402.4" font-size="5.6" fill="#555" text-anchor="middle">3</text>
<text x="53.6" y="471.4" font-size="5.6" fill="#c0392b" text-anchor="middle">1.6</text>
<text x="53.6" y="477.3" font-size="5.6" fill="#555" text-anchor="middle">0.7</text>
<text x="93.2" y="471.4" font-size="5.6" fill="#c0392b" text-anchor="middle">1.6</text>
<text x="93.2" y="477.3" font-size="5.6" fill="#555" text-anchor="middle">55.9</text>
<text x="83.5" y="502.3" font-size="8" fill="#1a1a1a" text-anchor="middle" textLength="54" lengthAdjust="spacingAndGlyphs">CD4 - APC/fire750</text>
<text x="14.8" y="435" font-size="8" fill="#1a1a1a" text-anchor="middle" textLength="38.2" lengthAdjust="spacingAndGlyphs" transform="rotate(-90 14.8 435)">CD8 - BV510</text>
<path stroke="#c4c4c4" stroke-width="1" stroke-linecap="round" fill="none" d="M204.8 458.0h0M214.1 451.0h0M185.6 450.5h0M204.5 448.9h0M204.9 449.6h0M221.2 450.2h0M199.3 457.7h0M205.9 461.8h0M192.1 444.2h0M207.1 451.3h0M206.8 453.6h0M194.3 445.5h0M196.6 446.8h0M201.6 447.7h0M209.0 437.9h0M188.0 453.3h0M212.7 449.8h0M197.9 449.6h0M225.0 450.4h0M219.7 451.3h0M197.1 461.7h0M194.4 451.0h0M231.8 454.2h0M209.6 447.4h0M208.8 451.8h0M196.8 448.5h0M200.4 449.3h0M211.7 445.5h0M209.4 446.0h0M191.9 452.3h0M217.0 453.8h0M205.7 452.4h0M190.4 446.7h0M214.0 451.6h0M199.8 437.3h0M211.5 454.8h0M195.3 449.9h0M206.4 451.4h0M182.3 455.9h0M206.5 448.0h0M183.5 454.9h0M204.0 447.9h0M171.2 452.8h0M201.2 448.0h0M210.7 451.6h0M207.9 457.4h0M216.5 446.8h0M189.0 447.0h0M221.0 448.5h0M221.4 451.6h0M187.4 463.9h0M192.3 447.2h0M195.0 439.9h0M201.7 446.8h0M204.2 442.2h0M172.1 447.3h0M209.2 450.2h0M198.9 445.3h0M189.6 446.7h0M213.5 440.8h0M197.8 451.1h0M215.7 446.4h0M208.4 455.6h0M198.1 455.4h0M216.2 445.8h0M211.7 448.3h0M195.8 450.4h0M182.4 454.0h0M195.3 441.8h0M209.4 449.8h0M199.1 459.5h0M223.3 449.7h0M205.1 451.3h0M204.3 450.2h0M206.8 444.2h0M191.3 455.0h0M200.5 451.5h0M193.9 451.0h0M173.5 453.8h0M180.4 454.1h0M210.9 440.7h0M196.6 452.6h0M200.5 447.3h0M184.1 451.0h0M194.8 446.6h0M211.4 445.9h0M203.1 455.0h0M195.7 450.2h0M220.4 448.8h0M201.2 448.8h0M197.7 450.6h0M215.8 450.2h0M180.9 438.4h0M208.6 445.9h0M188.4 449.1h0M192.4 454.0h0M193.7 457.1h0M203.5 445.6h0M203.2 460.0h0M205.6 450.8h0M204.5 452.8h0M218.9 447.6h0M222.4 447.3h0M210.5 457.5h0M211.1 449.3h0M197.4 449.8h0M188.6 456.2h0M209.1 459.0h0M202.4 442.9h0M212.3 449.4h0M179.9 450.3h0M234.3 459.5h0M186.6 462.8h0M202.4 450.2h0M213.9 452.3h0M185.2 454.8h0M195.3 456.2h0M177.5 448.8h0M184.7 454.7h0M178.5 447.0h0M203.2 437.1h0M205.5 443.6h0M198.1 451.6h0M217.2 454.4h0M218.8 439.2h0M201.9 441.5h0M199.3 450.4h0M198.7 433.6h0M196.5 453.3h0M217.8 455.7h0M204.9 435.6h0M198.0 454.4h0M199.2 449.6h0M208.6 457.7h0M197.2 452.0h0M205.8 449.4h0M201.6 451.2h0M218.4 455.3h0M216.0 451.6h0M184.9 450.8h0M200.1 443.4h0M210.6 453.1h0M196.6 450.8h0M211.8 459.9h0M206.1 450.6h0M209.2 450.2h0M201.3 447.6h0M205.7 454.3h0M208.4 449.7h0M184.3 447.2h0M191.0 458.7h0M189.7 459.6h0M222.4 448.4h0M205.7 445.6h0M206.5 456.4h0M204.1 446.5h0M195.8 464.9h0M193.0 450.1h0M212.3 455.6h0M197.5 444.2h0"/>
<path stroke="#c4c4c4" stroke-width="1" stroke-linecap="round" fill="none" d="M186.6 455.2h0M192.2 457.9h0M189.0 452.8h0M184.1 456.8h0M199.1 447.3h0M190.5 453.3h0M185.6 442.9h0M183.7 447.5h0M185.4 445.9h0M193.5 460.5h0M182.9 450.0h0M186.9 454.7h0M182.6 447.2h0M193.1 451.6h0M185.9 451.1h0M191.1 447.6h0M189.6 458.0h0M183.9 442.7h0M190.3 456.6h0M191.5 469.0h0M181.0 447.8h0M190.3 453.0h0M204.7 443.3h0M185.3 452.6h0M190.0 442.2h0M180.1 456.5h0M189.1 449.7h0M183.8 441.4h0M190.6 444.8h0M186.5 443.0h0M180.9 450.9h0M192.3 457.8h0M185.7 450.2h0M181.7 445.4h0M187.1 447.4h0M181.9 453.2h0M188.8 437.6h0M186.5 456.0h0M184.9 454.9h0M190.1 437.4h0M180.3 459.6h0M191.7 442.4h0M176.7 451.1h0M194.9 459.6h0M187.7 442.3h0M185.4 441.0h0M183.1 445.5h0M189.5 445.7h0M186.0 451.4h0M185.9 449.1h0M192.0 449.2h0M184.6 449.3h0M185.6 451.1h0M188.9 447.0h0M192.2 454.2h0M186.0 452.2h0M187.6 446.0h0M187.0 463.4h0M190.5 444.5h0M194.3 456.7h0M182.1 447.7h0M186.1 454.5h0M186.5 455.5h0M189.8 457.5h0M194.4 461.0h0M186.7 447.1h0M187.9 469.8h0M192.5 454.8h0M180.5 447.4h0M182.9 444.0h0M184.5 466.7h0M186.7 462.5h0M187.9 452.3h0M184.1 457.1h0M195.6 460.5h0M183.2 453.0h0M185.7 449.8h0M192.3 452.2h0M190.7 457.6h0M186.7 452.6h0"/>
<path stroke="#6a6a6a" stroke-width="1.3" stroke-linecap="round" fill="none" d="M182.5 451.8h0M187.3 448.8h0M181.2 440.4h0M183.6 453.7h0M188.5 452.7h0M186.1 454.7h0M186.1 460.5h0M185.7 452.3h0M188.0 452.8h0M185.4 449.6h0M180.7 452.1h0M186.1 452.2h0M178.0 455.3h0M180.4 454.5h0M189.4 449.2h0M188.0 450.4h0M184.3 457.8h0M185.3 448.5h0M185.7 455.3h0M187.9 458.8h0M183.6 454.9h0M183.3 453.3h0M183.9 457.8h0M185.8 453.7h0M186.1 452.3h0M184.5 451.5h0M187.3 456.9h0M183.0 455.1h0M185.3 458.5h0M183.8 451.0h0M183.0 451.0h0M188.5 450.6h0M184.7 453.4h0M183.0 449.5h0M185.6 456.0h0M183.0 453.7h0M186.9 448.4h0M187.6 440.4h0M188.0 445.0h0M182.9 458.1h0M185.1 452.1h0M190.0 452.9h0M184.9 450.6h0M188.6 453.9h0M189.2 444.6h0M182.1 444.3h0M188.4 445.7h0M187.3 452.6h0M187.6 455.1h0M189.6 454.2h0M186.6 451.8h0M185.7 447.2h0M187.0 455.5h0M184.6 451.2h0M186.7 452.2h0M180.5 452.0h0M189.7 450.4h0M184.2 449.4h0M186.8 449.9h0M186.2 447.1h0M185.7 453.3h0M185.8 451.6h0M185.6 456.4h0M181.5 445.0h0M184.1 457.0h0M188.4 452.0h0M183.0 451.6h0M182.9 449.1h0M190.7 449.0h0M188.4 446.3h0M189.3 455.9h0M185.4 451.4h0M186.1 455.2h0M187.3 455.6h0M186.9 450.3h0M185.3 451.3h0M181.9 450.9h0M183.7 456.4h0M181.8 452.8h0M189.3 453.0h0M184.5 455.2h0M185.0 452.0h0M186.1 460.5h0M185.5 448.6h0M186.7 457.3h0M183.9 457.9h0M181.7 447.7h0M189.7 455.7h0M183.7 453.4h0M184.3 455.8h0M183.5 447.5h0M184.1 453.3h0M185.5 448.4h0M187.2 451.0h0M182.8 458.0h0M186.1 451.8h0M183.8 443.3h0M188.3 446.7h0M182.4 447.7h0M185.6 456.4h0M187.1 449.5h0M182.1 446.1h0M185.7 456.8h0M185.7 453.3h0M183.4 453.7h0M184.8 449.1h0M187.8 458.0h0M186.0 451.8h0M184.4 444.4h0M184.9 447.7h0M186.5 448.9h0M188.5 451.7h0M187.3 455.4h0M187.1 449.4h0M189.2 449.9h0M181.6 461.1h0M181.9 452.6h0M179.8 450.2h0M187.4 452.4h0M179.8 447.3h0M185.2 454.4h0M187.2 456.2h0M182.0 450.0h0M183.7 456.3h0M184.7 451.1h0M187.1 453.5h0M181.7 449.3h0M186.1 449.1h0M187.0 446.3h0M185.7 453.2h0M185.7 451.2h0M188.3 451.3h0M185.9 447.8h0M185.3 447.6h0M184.5 449.8h0M186.9 454.2h0M184.6 453.5h0M186.9 449.6h0M185.6 453.5h0M188.0 459.3h0M183.4 452.7h0M185.5 460.4h0M186.2 454.0h0M186.3 457.6h0M188.0 450.2h0M186.3 457.0h0M187.5 447.6h0M190.0 453.3h0M187.3 451.0h0M182.8 444.3h0M181.9 446.8h0M186.9 456.8h0M184.4 454.3h0M186.0 457.5h0M184.9 453.1h0M188.5 440.7h0M188.2 453.3h0M182.6 450.0h0M186.0 450.3h0M184.6 450.5h0M182.2 449.2h0M186.9 448.5h0M185.0 457.3h0M186.4 454.1h0M191.3 449.7h0M188.5 450.6h0M188.0 456.2h0M184.3 453.8h0M182.5 453.1h0M188.3 447.4h0M184.6 450.5h0M185.4 447.7h0M184.4 444.6h0M185.5 455.9h0M191.1 451.0h0M184.5 450.6h0M184.6 448.4h0M185.8 455.3h0M186.0 460.6h0M182.4 454.6h0M181.0 456.0h0M183.9 447.3h0M184.8 453.0h0M183.4 453.1h0M182.9 458.2h0M183.0 452.3h0M184.3 448.5h0M185.0 452.0h0M181.3 450.5h0M183.9 458.0h0M186.1 454.9h0M185.0 453.6h0M182.0 453.0h0M184.4 455.6h0M185.2 450.3h0M187.1 448.6h0M181.3 444.7h0M186.9 457.0h0M184.1 454.3h0M185.7 454.8h0M186.9 452.4h0M183.1 458.9h0M183.3 448.3h0M185.0 457.1h0M187.0 448.9h0M183.9 450.4h0M181.8 447.4h0M183.6 452.6h0M186.1 451.1h0M188.0 454.0h0M184.0 449.9h0M184.4 446.7h0M184.8 454.5h0M184.9 457.4h0M182.9 455.2h0M184.1 452.0h0M185.7 453.8h0M185.4 445.4h0M185.2 450.9h0M182.8 456.9h0M183.9 454.1h0M183.5 448.8h0M187.7 455.6h0M188.7 451.7h0M186.0 455.1h0M189.0 446.6h0M184.5 450.1h0M184.5 453.5h0M182.1 453.4h0M185.8 454.4h0M184.1 452.2h0M185.4 451.4h0M186.4 454.1h0M184.6 455.7h0M182.5 446.2h0M185.1 450.9h0M185.0 451.4h0M185.3 452.8h0M186.8 456.3h0M184.7 446.9h0M184.6 454.3h0M189.3 445.3h0M187.8 449.2h0M185.0 450.1h0M183.0 451.1h0M184.2 449.8h0M186.1 450.2h0M187.2 450.8h0M191.0 451.1h0M184.7 444.9h0M185.6 446.6h0M184.4 450.5h0M185.4 454.3h0M184.4 456.2h0M182.7 463.6h0M187.7 452.6h0M185.6 449.1h0M188.3 452.9h0M184.1 454.9h0M185.9 452.8h0M186.8 448.0h0M180.8 451.8h0M182.2 452.1h0M187.1 446.6h0M185.5 447.4h0M180.9 457.0h0M183.5 443.3h0M182.8 452.9h0M184.2 451.2h0M189.0 457.7h0M184.0 454.6h0M190.1 448.8h0M184.7 457.2h0M183.6 450.0h0M189.0 460.1h0M187.6 458.8h0M188.6 451.9h0M189.9 455.3h0M187.9 453.0h0M188.2 448.6h0M181.3 456.5h0M183.4 453.9h0M186.4 455.6h0M185.8 456.5h0M187.1 457.9h0M184.2 456.4h0M188.0 451.9h0M190.2 452.6h0M186.8 453.9h0M187.4 451.8h0M186.6 451.3h0M187.6 459.7h0M185.9 454.2h0M184.2 459.8h0M185.9 449.2h0M185.7 452.1h0M181.8 450.6h0M186.0 450.7h0M185.5 451.1h0M185.9 451.8h0M184.1 450.6h0M186.6 459.4h0M186.9 455.0h0M183.7 449.3h0M186.2 450.1h0M187.3 455.2h0M187.2 454.4h0M183.2 449.9h0M183.0 456.0h0M185.5 446.6h0M182.9 450.4h0M191.3 459.1h0M183.4 442.0h0M183.5 451.5h0M186.9 456.2h0M184.2 451.7h0M179.8 449.2h0M185.0 448.8h0M183.0 444.1h0M184.1 447.0h0M181.5 452.6h0M183.1 450.0h0M184.9 452.2h0M185.1 451.7h0M182.6 453.4h0M183.5 445.7h0M183.2 451.1h0M185.6 451.0h0M184.9 451.1h0M182.2 448.8h0M186.7 443.6h0M183.5 454.8h0M186.1 455.5h0M183.0 461.7h0M185.9 455.2h0M184.9 458.8h0M185.3 454.7h0M186.4 450.8h0M186.2 454.3h0M185.6 447.7h0M185.5 453.3h0M182.2 451.9h0M185.0 448.1h0M180.0 457.1h0M179.9 456.7h0M184.4 454.1h0M184.6 455.5h0M188.7 458.8h0M186.7 451.8h0M187.8 446.9h0M184.4 448.5h0M186.2 455.1h0M187.9 453.2h0M186.4 446.4h0M186.0 457.5h0M185.4 453.2h0M183.0 458.7h0M183.1 456.8h0M181.8 450.6h0M186.2 452.7h0M184.6 449.4h0M183.6 449.0h0M186.1 451.1h0M183.9 454.3h0M187.7 457.8h0M189.7 448.8h0M186.3 455.1h0M183.6 452.5h0M181.7 451.5h0M190.0 456.8h0M186.3 451.0h0M182.5 457.8h0M187.8 451.1h0M181.3 448.7h0M184.2 455.4h0M184.7 446.6h0M184.4 447.7h0M182.5 451.7h0M190.9 452.4h0M184.3 451.3h0M186.2 444.6h0M185.3 447.1h0M181.5 454.4h0M183.9 454.6h0M185.8 448.4h0M187.5 453.5h0M184.4 453.2h0M186.1 456.5h0M184.5 449.5h0M186.7 458.2h0M179.4 451.2h0M186.7 458.2h0M183.8 456.1h0M183.9 448.4h0M178.5 451.2h0M182.7 453.6h0M186.7 456.5h0M190.8 446.9h0M183.6 450.4h0M183.7 454.9h0M186.4 454.3h0M186.0 448.3h0M183.9 448.9h0M184.9 454.1h0M184.4 448.4h0M186.8 453.4h0M187.2 456.1h0M189.5 452.5h0M187.5 441.8h0M186.9 457.1h0M185.7 457.0h0M187.5 458.1h0M182.9 455.9h0M190.4 445.7h0M186.0 458.1h0M188.7 453.8h0M183.4 456.2h0M187.8 451.8h0M186.2 451.5h0M184.8 451.5h0M183.7 458.8h0M183.2 453.5h0M189.6 451.6h0M188.2 447.3h0M185.6 454.3h0M185.8 452.5h0M183.6 453.1h0M180.9 456.4h0M181.0 455.3h0M183.8 452.5h0M184.9 453.3h0M182.5 452.8h0M187.2 455.3h0M186.5 455.2h0M185.7 453.0h0M181.1 449.0h0M184.8 455.8h0M185.2 456.0h0M182.3 448.2h0M180.1 454.0h0M189.9 450.9h0M186.8 443.7h0M184.4 452.3h0M189.1 456.2h0M188.0 449.5h0M186.4 449.6h0M185.8 456.5h0M187.2 448.0h0M188.8 448.7h0M185.5 451.1h0M184.7 454.9h0M186.7 454.9h0M178.5 450.3h0M185.5 451.2h0M184.3 452.8h0M185.3 450.8h0M184.9 448.9h0M186.1 448.0h0M185.5 455.2h0M185.5 451.5h0M185.0 463.8h0M186.4 454.9h0M184.1 449.4h0M187.7 452.4h0M181.3 453.8h0M185.8 454.0h0M186.4 454.2h0M182.2 454.2h0M184.3 451.8h0M188.5 455.0h0"/>
<path stroke="#6a6a6a" stroke-width="1" stroke-linecap="round" fill="none" d="M192.6 425.4h0M184.7 425.9h0M184.9 418.6h0M188.2 423.4h0M189.8 430.0h0M188.5 413.3h0M189.7 418.4h0M185.9 425.2h0M185.4 439.8h0M188.0 433.4h0M188.1 440.5h0M191.1 438.7h0M190.7 424.4h0M180.6 427.4h0M188.4 418.6h0M184.1 437.4h0M179.8 433.8h0M187.2 432.7h0M185.6 433.3h0M185.0 431.7h0M182.2 429.7h0M183.0 430.2h0M185.4 437.7h0M181.6 421.7h0M185.7 419.7h0M186.4 428.0h0M185.6 437.3h0M186.9 429.9h0M185.8 426.4h0M182.6 434.7h0M182.9 428.9h0M186.4 412.9h0M188.9 420.0h0M186.5 411.3h0M184.5 426.3h0M186.5 424.5h0M180.6 431.5h0M183.0 444.9h0M184.9 423.3h0M185.8 428.1h0"/>
<path stroke="#6a6a6a" stroke-width="1.2" stroke-linecap="round" fill="none" d="M205.6 409.5h0M199.2 414.9h0M199.9 408.5h0M216.7 409.8h0M197.9 414.1h0M190.2 414.5h0M222.1 408.4h0M211.0 415.9h0M196.9 413.5h0M199.3 407.1h0M207.0 415.3h0M226.0 407.1h0M236.2 412.5h0M190.0 408.0h0M231.8 406.4h0M213.0 412.9h0M218.2 411.8h0M228.6 410.6h0M195.8 411.3h0M226.7 410.5h0M190.0 410.2h0M204.2 408.2h0M197.7 412.2h0M240.7 410.9h0M239.9 410.2h0M225.0 409.4h0M220.9 410.1h0M203.2 407.0h0M241.6 410.0h0M235.8 408.4h0M227.4 414.0h0M210.3 408.4h0M206.3 409.7h0M210.8 410.8h0M234.7 412.8h0M196.3 411.9h0M214.3 410.8h0M239.9 416.2h0M227.3 410.8h0M241.8 411.6h0M219.4 417.6h0M219.7 408.6h0M235.8 413.2h0M223.5 411.9h0M218.3 407.5h0M203.9 409.3h0M187.5 412.9h0M237.7 407.2h0M205.5 410.3h0M200.0 413.1h0M227.3 410.2h0M197.7 411.5h0M189.9 409.1h0M203.1 409.3h0M211.6 409.3h0M217.3 409.9h0M221.4 412.4h0M229.1 411.0h0M210.8 415.7h0M218.9 412.2h0M210.9 411.5h0M202.0 416.4h0M219.6 410.5h0M218.8 408.8h0M244.0 411.2h0M222.9 408.1h0M201.1 412.1h0M222.9 414.2h0M208.6 412.4h0M239.4 409.8h0M184.2 410.4h0M201.7 412.0h0M201.7 413.7h0M214.9 409.8h0M210.7 409.8h0M186.1 413.5h0M181.5 411.3h0M215.9 411.7h0M237.5 412.0h0M237.3 408.9h0M206.2 410.4h0M220.6 413.4h0M198.3 410.4h0M188.6 410.3h0M233.5 411.5h0M224.2 411.8h0M207.3 417.1h0M206.6 408.8h0M228.3 411.2h0M218.3 415.8h0M207.3 410.9h0M217.6 411.8h0M212.8 407.2h0M206.1 413.2h0M200.9 413.0h0M228.4 412.9h0M205.0 410.4h0M193.2 411.7h0M243.3 410.6h0M233.9 412.9h0M221.7 410.8h0M211.9 412.8h0M216.2 407.5h0M188.7 410.0h0M212.6 403.7h0M217.5 410.5h0M209.6 412.7h0M220.2 410.2h0M200.1 416.7h0M215.9 408.4h0M186.6 410.0h0M212.4 408.5h0M202.5 409.6h0M190.6 409.7h0M206.1 407.2h0M213.1 408.4h0M202.8 415.9h0M228.2 410.2h0M201.0 413.1h0M228.3 407.7h0M224.9 410.5h0M202.6 412.1h0M236.6 410.4h0M189.9 409.5h0M221.5 410.3h0M213.7 410.9h0M225.4 412.9h0M186.4 413.8h0M192.7 407.5h0M198.7 405.7h0M212.8 410.3h0M213.9 410.8h0M212.7 412.6h0M208.1 413.5h0M200.6 409.2h0M189.5 415.9h0M205.2 411.4h0M221.1 406.4h0M229.2 413.2h0M203.8 411.5h0M230.1 411.5h0M189.7 406.9h0M225.2 410.1h0M194.1 411.2h0M216.3 410.4h0M196.3 412.5h0M196.1 413.9h0M203.1 414.6h0M235.9 413.9h0M201.1 410.4h0M222.5 415.1h0M214.8 411.5h0M217.2 412.9h0M217.4 410.2h0M222.7 407.3h0M192.2 405.2h0M212.9 411.3h0M218.0 409.1h0M202.5 410.8h0M218.1 413.0h0M195.2 407.0h0M224.3 406.4h0M200.5 411.5h0M207.6 411.7h0M225.4 410.1h0M230.2 409.5h0M202.8 406.9h0M201.6 410.6h0M228.7 409.0h0M234.5 413.2h0M233.7 409.4h0M194.5 411.8h0M232.0 411.3h0M218.2 412.5h0M219.8 414.6h0M173.7 412.4h0M204.0 412.6h0M209.0 412.8h0M205.4 409.7h0M205.7 410.8h0M207.4 411.7h0M208.8 414.0h0M200.6 416.5h0M210.7 408.1h0M203.9 410.7h0M212.1 406.5h0M216.8 409.5h0M241.7 406.7h0M198.4 413.7h0M240.2 412.7h0M208.1 408.1h0M197.2 411.6h0M188.0 412.6h0M226.5 415.1h0M186.9 412.9h0M227.3 411.1h0M217.8 410.6h0M202.6 412.4h0M201.0 411.6h0M220.1 409.6h0M214.6 407.8h0M224.4 413.4h0M212.0 409.0h0M203.5 410.1h0M221.0 412.8h0M192.1 410.7h0M226.1 413.6h0M212.9 408.0h0M193.4 412.7h0M195.1 407.5h0M206.6 407.1h0M181.7 408.2h0M235.2 411.1h0M228.1 409.1h0M193.8 407.4h0M210.1 413.8h0M240.3 408.4h0M218.7 410.5h0M195.1 411.4h0M176.0 409.6h0M184.6 411.7h0M231.9 412.3h0M217.3 410.6h0M190.1 413.4h0M223.8 409.3h0M205.9 408.2h0M200.8 411.3h0"/>
<path stroke="#6a6a6a" stroke-width="0.9" stroke-linecap="round" fill="none" d="M196.6 450.4h0M215.3 440.6h0M208.6 448.4h0M203.5 443.2h0M218.1 436.2h0M217.5 451.7h0M168.8 435.2h0M205.6 441.3h0M212.0 459.5h0M216.8 446.9h0M202.4 433.4h0M194.0 442.3h0M211.8 435.6h0M219.5 438.8h0M181.3 428.0h0M189.1 441.7h0M201.8 427.6h0M173.9 442.9h0M201.7 443.0h0M221.5 446.7h0M195.2 457.8h0M211.9 426.8h0M197.6 430.5h0M215.9 432.0h0M219.1 435.5h0"/>
<path stroke="#c8141e" stroke-width="1.4" stroke-linecap="round" fill="none" d="M224.0 411.0h0M204.6 408.4h0M200.6 407.9h0M191.9 407.0h0M199.9 406.9h0M203.0 412.5h0M208.3 412.6h0M187.1 410.8h0M208.7 413.0h0M219.0 410.7h0M215.5 409.5h0M190.0 408.2h0M223.0 412.4h0M222.8 412.5h0M214.7 413.5h0M190.4 408.8h0M186.4 410.0h0M210.6 407.6h0M193.5 413.2h0M188.6 412.2h0M224.2 411.8h0M224.5 410.6h0M220.2 410.3h0M230.9 409.8h0M224.4 413.1h0M191.5 409.2h0M228.3 412.7h0M211.9 411.3h0M217.0 408.4h0M235.0 407.4h0M217.0 408.9h0M235.1 410.6h0M210.9 407.7h0M203.9 412.1h0M198.7 413.2h0M207.8 411.9h0M183.1 406.8h0M209.0 405.3h0M208.0 412.6h0M201.4 414.0h0M174.3 409.7h0M175.6 411.8h0M221.3 410.0h0M194.7 409.2h0M231.9 412.9h0M198.6 409.4h0M215.7 412.6h0M186.9 414.6h0M199.8 410.4h0M206.5 414.9h0M219.3 407.7h0M236.9 412.7h0M225.4 410.7h0M186.8 416.5h0M210.1 410.7h0M207.3 408.8h0M199.8 414.4h0M219.4 407.2h0M235.2 411.7h0M202.7 408.9h0M227.9 413.8h0M232.3 410.4h0M193.0 412.6h0M238.4 410.6h0M237.0 408.1h0M214.7 405.7h0M237.4 414.7h0M214.0 411.2h0M228.4 408.0h0M220.4 409.9h0M196.2 412.9h0M214.2 407.2h0M207.3 415.8h0M202.1 410.1h0M191.6 409.8h0M197.5 413.6h0M190.3 411.1h0M228.2 408.3h0M178.6 412.7h0M211.2 411.7h0M200.2 413.2h0M190.0 408.5h0M221.6 408.0h0M197.2 412.1h0M229.3 409.6h0M207.1 405.7h0M215.3 409.3h0M207.9 412.1h0M220.4 409.0h0M225.0 413.5h0M202.8 409.5h0M209.9 410.4h0M238.2 406.9h0M200.8 408.8h0M239.0 410.2h0M203.7 411.9h0M201.1 411.0h0M183.0 413.0h0M196.4 405.6h0M182.1 410.7h0M200.9 410.3h0M221.1 408.2h0M209.0 410.5h0M200.4 408.9h0M193.6 411.6h0M199.0 409.8h0M186.7 411.8h0M189.7 408.5h0M241.2 413.5h0M213.8 411.5h0M195.3 414.7h0M220.7 410.3h0M234.0 409.4h0M199.8 410.9h0M208.3 409.5h0M189.9 408.2h0M184.5 410.6h0M232.1 410.4h0M198.2 409.7h0M184.0 408.4h0M232.7 410.9h0M226.9 407.5h0M217.6 414.5h0M233.6 410.7h0M204.6 412.8h0M214.4 407.8h0M222.6 411.4h0M205.0 410.3h0M217.6 412.9h0M206.2 412.6h0M217.3 406.8h0M212.6 413.2h0M178.3 407.2h0M211.4 413.7h0M187.1 410.5h0M196.3 407.8h0M183.3 412.2h0M223.0 410.7h0M204.7 408.3h0M203.8 408.9h0M229.9 411.7h0M221.3 407.4h0M206.5 408.6h0M176.7 414.9h0M220.5 408.8h0M205.7 411.5h0M204.1 411.6h0M221.7 412.8h0M199.9 412.6h0M208.6 404.8h0M224.1 409.5h0M219.1 413.3h0M200.1 408.8h0M233.2 414.8h0M228.3 411.2h0M240.2 407.8h0M209.1 411.9h0M213.4 415.1h0M226.8 409.1h0M217.0 411.9h0M212.2 408.6h0M208.4 409.3h0M205.2 410.9h0M199.6 411.8h0M199.7 411.4h0M216.5 411.1h0M205.1 416.2h0M187.4 408.1h0M210.9 406.3h0M236.5 411.9h0M231.8 411.0h0M177.9 407.3h0M196.5 414.6h0M222.5 409.0h0M211.3 407.3h0M211.2 411.6h0M208.0 412.1h0M211.0 416.1h0M193.8 407.1h0M229.0 407.7h0M193.4 410.0h0M207.8 409.6h0M234.6 410.4h0M227.4 409.0h0M210.0 407.0h0M210.0 409.6h0M200.5 412.3h0M202.1 412.4h0M206.3 409.1h0M231.5 411.9h0M203.2 411.6h0M219.1 409.5h0M217.0 409.8h0M216.6 410.7h0M205.7 417.1h0M221.9 411.0h0M212.8 408.6h0M211.8 410.2h0M202.7 409.3h0M176.0 413.3h0M221.9 405.6h0M222.3 408.1h0M202.3 412.5h0M207.5 411.6h0M214.9 410.7h0M194.8 412.3h0M221.6 407.5h0M221.7 411.5h0M223.9 408.0h0M225.0 407.6h0M180.1 411.8h0M218.7 408.8h0M203.4 409.8h0M228.1 412.1h0M227.3 408.2h0M223.4 412.0h0M209.1 415.8h0M209.6 412.9h0M193.9 412.4h0M225.9 407.7h0M187.5 407.5h0M241.1 410.6h0M226.7 405.7h0M231.6 410.7h0M227.2 411.2h0M217.0 411.7h0M189.7 411.7h0M201.1 413.7h0M219.6 409.9h0M207.5 413.8h0M216.6 411.9h0M199.8 411.9h0M198.2 410.3h0M215.4 412.9h0M222.4 408.9h0M210.8 412.3h0M195.2 413.2h0M184.3 409.1h0M242.8 408.4h0M192.6 408.9h0M196.8 410.6h0M199.1 411.5h0M224.8 412.7h0M198.6 415.1h0M219.2 414.4h0M215.2 411.3h0M192.4 409.8h0M213.0 407.8h0M191.1 412.6h0M207.9 411.9h0M222.2 410.0h0M206.7 410.3h0M196.0 410.4h0M203.7 404.7h0M207.4 410.5h0M215.6 411.4h0M173.9 410.4h0M181.0 408.2h0M218.0 410.8h0M208.3 411.8h0M210.3 414.8h0M213.5 413.1h0M207.5 412.0h0M202.9 410.5h0M211.8 407.5h0M220.6 409.6h0M215.4 407.5h0M210.3 410.4h0M193.5 413.1h0M213.7 413.1h0M191.6 412.8h0M199.3 410.7h0M212.3 413.0h0M211.8 410.0h0M227.2 406.1h0M223.9 411.0h0M217.6 410.7h0M204.8 406.6h0M209.7 409.4h0M206.1 405.0h0M237.3 409.5h0M217.2 413.5h0M199.6 409.1h0M196.6 413.7h0M229.6 411.2h0M196.2 408.9h0M215.8 406.5h0M212.8 412.4h0M226.8 412.2h0M196.1 407.2h0M217.3 409.7h0M213.2 413.2h0M222.6 408.9h0M231.5 411.6h0M211.6 406.1h0M206.5 408.5h0M223.9 412.3h0M187.8 407.9h0"/>
<path stroke="#c8141e" stroke-width="1.2" stroke-linecap="round" fill="none" d="M182.4 426.2h0M182.5 426.1h0M185.1 423.2h0M182.1 419.7h0M185.8 423.5h0M187.5 421.0h0M189.9 420.8h0M185.0 421.1h0M190.1 427.4h0M187.5 415.2h0M185.5 419.8h0M187.4 415.7h0"/>
<path stroke="#c8141e" stroke-width="1.2" stroke-linecap="round" fill="none" d="M233.2 432.9h0M235.2 429.8h0M237.2 427.5h0M223.3 432.5h0M226.6 433.2h0M232.4 431.2h0M227.7 426.6h0M228.6 420.4h0M227.8 425.0h0M228.4 427.9h0M225.3 423.1h0M229.8 432.1h0M214.4 421.5h0M222.8 428.3h0M215.5 432.3h0M225.5 435.1h0M220.3 431.6h0M230.6 437.5h0M236.4 426.6h0M216.2 425.5h0M219.9 436.8h0M228.9 424.8h0M237.9 429.2h0M232.5 419.7h0"/>
<path stroke="#555" stroke-width="1.1" stroke-linecap="round" fill="none" d="M231.7 410.3h0M224.8 409.0h0M199.5 408.9h0M182.4 411.1h0M216.8 411.7h0M217.1 409.3h0M232.5 413.7h0M244.3 410.7h0M216.5 411.2h0M208.7 409.6h0M208.4 411.8h0M207.2 412.0h0M188.9 412.6h0M197.0 408.9h0M210.9 412.5h0M184.2 409.5h0M189.8 411.2h0M233.3 412.8h0M200.8 414.7h0M226.1 409.8h0M231.2 408.1h0M212.5 411.3h0M226.6 414.0h0M209.3 410.1h0M197.4 417.0h0M210.5 406.2h0M213.6 414.7h0M214.5 413.9h0M213.7 413.7h0M205.6 408.8h0M230.6 414.4h0M209.0 413.9h0M205.3 414.1h0M228.3 410.4h0M195.4 410.3h0M212.4 414.2h0M237.7 411.8h0M213.6 410.0h0M236.8 408.8h0M208.1 411.6h0M203.8 407.5h0M209.8 412.4h0M203.0 411.3h0M206.5 407.0h0M205.1 412.1h0M226.3 414.0h0M219.5 411.6h0M209.1 407.6h0M199.8 409.4h0M209.2 407.7h0M236.6 410.0h0M192.5 413.8h0M200.0 410.2h0M233.6 409.5h0M193.9 413.0h0M194.4 415.0h0M211.7 411.9h0M200.2 407.6h0M207.7 406.9h0M215.3 410.3h0M227.5 406.4h0M215.8 410.7h0M217.7 413.2h0M235.3 404.2h0M236.8 410.5h0M206.7 411.7h0M181.0 409.6h0M195.5 411.9h0M231.0 412.2h0M204.5 413.6h0M200.6 417.7h0M205.0 411.7h0M239.9 408.7h0M213.7 408.3h0M206.3 407.8h0M200.8 412.7h0M194.0 411.8h0M212.1 411.4h0M215.3 414.9h0M207.3 413.7h0M231.0 413.5h0M195.6 409.2h0M180.0 410.1h0M202.9 407.6h0M218.5 409.3h0M251.4 411.1h0M211.5 407.8h0M198.1 409.3h0"/>
<line x1="194.6" y1="392.5" x2="194.6" y2="478.5" stroke="#cfcfcf" stroke-width="0.7"/>
<line x1="167.5" y1="439.2" x2="254.3" y2="439.2" stroke="#b0b0b0" stroke-width="0.7"/>
<line x1="167.5" y1="392.3" x2="167.5" y2="479.5" stroke="#111" stroke-width="1"/>
<line x1="167" y1="479" x2="254.3" y2="479" stroke="#111" stroke-width="1.1"/>
<line x1="164.7" y1="395.3" x2="167.5" y2="395.3" stroke="#111" stroke-width="0.9"/>
<text x="160.9" y="397.5" font-size="6.4" fill="#1a1a1a" text-anchor="end">10<tspan dy="-2.4" font-size="3.97">5</tspan></text>
<line x1="164.7" y1="415.3" x2="167.5" y2="415.3" stroke="#111" stroke-width="0.9"/>
<text x="160.9" y="417.5" font-size="6.4" fill="#1a1a1a" text-anchor="end">10<tspan dy="-2.4" font-size="3.97">4</tspan></text>
<line x1="164.7" y1="435.4" x2="167.5" y2="435.4" stroke="#111" stroke-width="0.9"/>
<text x="160.9" y="437.6" font-size="6.4" fill="#1a1a1a" text-anchor="end">10<tspan dy="-2.4" font-size="3.97">3</tspan></text>
<line x1="164.7" y1="455.4" x2="167.5" y2="455.4" stroke="#111" stroke-width="0.9"/>
<text x="160.9" y="457.6" font-size="6.4" fill="#1a1a1a" text-anchor="end">10<tspan dy="-2.4" font-size="3.97">2</tspan></text>
<line x1="164.7" y1="465.2" x2="167.5" y2="465.2" stroke="#111" stroke-width="0.9"/>
<text x="160.7" y="467.4" font-size="6.4" fill="#1a1a1a" text-anchor="end">0</text>
<line x1="164.7" y1="474.6" x2="167.5" y2="474.6" stroke="#111" stroke-width="0.9"/>
<text x="160.9" y="476.8" font-size="6.4" fill="#1a1a1a" text-anchor="end">−10<tspan dy="-2.4" font-size="3.97">2</tspan></text>
<line x1="171.7" y1="479" x2="171.7" y2="482" stroke="#111" stroke-width="0.9"/>
<text x="172.6" y="490.6" font-size="6.4" fill="#1a1a1a" text-anchor="middle">−10<tspan dy="-2.4" font-size="3.97">2</tspan></text>
<line x1="181.7" y1="479" x2="181.7" y2="482" stroke="#111" stroke-width="0.9"/>
<text x="181.7" y="490.6" font-size="6.4" fill="#1a1a1a" text-anchor="middle">0</text>
<line x1="190.6" y1="479" x2="190.6" y2="482" stroke="#111" stroke-width="0.9"/>
<text x="191.5" y="490.6" font-size="6.4" fill="#1a1a1a" text-anchor="middle">10<tspan dy="-2.4" font-size="3.97">2</tspan></text>
<line x1="211.6" y1="479" x2="211.6" y2="482" stroke="#111" stroke-width="0.9"/>
<text x="212.5" y="490.6" font-size="6.4" fill="#1a1a1a" text-anchor="middle">10<tspan dy="-2.4" font-size="3.97">3</tspan></text>
<line x1="231.8" y1="479" x2="231.8" y2="482" stroke="#111" stroke-width="0.9"/>
<text x="232.7" y="490.6" font-size="6.4" fill="#1a1a1a" text-anchor="middle">10<tspan dy="-2.4" font-size="3.97">4</tspan></text>
<line x1="252.3" y1="479" x2="252.3" y2="482" stroke="#111" stroke-width="0.9"/>
<text x="253.2" y="490.6" font-size="6.4" fill="#1a1a1a" text-anchor="middle">10<tspan dy="-2.4" font-size="3.97">5</tspan></text>
<text x="180.2" y="396.5" font-size="5.6" fill="#c0392b" text-anchor="middle">24.6</text>
<text x="180.2" y="402.4" font-size="5.6" fill="#555" text-anchor="middle">24.1</text>
<text x="221.6" y="396.5" font-size="5.6" fill="#c0392b" text-anchor="middle">72.2</text>
<text x="221.6" y="402.4" font-size="5.6" fill="#555" text-anchor="middle">19.3</text>
<text x="179.8" y="471.4" font-size="5.6" fill="#c0392b" text-anchor="middle">1.6</text>
<text x="179.8" y="477.3" font-size="5.6" fill="#555" text-anchor="middle">54.7</text>
<text x="221.6" y="471.4" font-size="5.6" fill="#c0392b" text-anchor="middle">1.6</text>
<text x="221.6" y="477.3" font-size="5.6" fill="#555" text-anchor="middle">1.9</text>
<text x="211.7" y="502.3" font-size="8" fill="#1a1a1a" text-anchor="middle" textLength="34.2" lengthAdjust="spacingAndGlyphs">CD57 - FITC</text>
<text x="142.6" y="435" font-size="8" fill="#1a1a1a" text-anchor="middle" textLength="38.2" lengthAdjust="spacingAndGlyphs" transform="rotate(-90 142.6 435)">CD8 - BV510</text>
<path stroke="#c4c4c4" stroke-width="1" stroke-linecap="round" fill="none" d="M363.6 461.4h0M348.0 439.7h0M338.7 452.1h0M340.5 449.6h0M348.7 439.5h0M355.3 453.3h0M348.7 455.2h0M355.5 452.9h0M351.5 440.2h0M341.5 450.0h0M356.6 452.6h0M346.1 449.9h0M362.6 453.0h0M345.2 454.4h0M348.3 460.0h0M345.5 452.8h0M347.5 467.5h0M352.6 452.7h0M348.0 453.1h0M357.7 456.1h0M352.4 450.9h0M360.5 449.4h0M349.9 459.0h0M358.5 438.3h0M357.9 440.6h0M348.4 464.1h0M367.3 455.9h0M360.1 454.7h0M353.3 453.3h0M348.0 453.1h0M348.9 445.6h0M348.2 449.7h0M351.5 445.2h0M341.5 458.5h0M349.9 455.3h0M345.2 452.9h0M361.2 453.8h0M354.9 450.6h0M361.3 444.4h0M366.3 461.9h0M352.9 455.4h0M363.7 450.4h0M352.2 455.1h0M354.0 459.3h0M342.8 458.7h0M350.1 455.5h0M359.6 456.5h0M353.0 450.1h0M346.9 459.8h0M349.6 457.3h0M344.4 457.3h0M344.8 443.5h0M339.4 455.4h0M357.4 455.6h0M357.3 456.4h0M348.8 435.6h0M340.1 440.0h0M347.9 453.2h0M363.7 445.6h0M340.2 453.8h0M346.0 450.9h0M346.2 456.7h0M355.2 448.0h0M340.6 444.9h0M351.4 454.6h0M343.8 449.7h0M347.0 444.1h0M341.0 439.2h0M353.3 470.6h0M346.1 449.1h0M345.4 449.8h0M357.3 439.2h0M352.0 445.0h0M366.2 450.3h0M352.5 453.3h0M350.2 456.1h0M350.5 446.7h0M369.0 454.2h0M358.4 458.4h0M347.6 448.1h0M351.8 450.8h0M346.0 440.2h0M354.3 446.2h0M346.1 442.7h0M345.7 455.4h0M352.7 450.1h0M359.1 461.1h0M355.6 452.4h0M354.9 456.2h0M349.9 454.4h0M332.6 452.5h0M348.4 444.7h0M348.1 461.5h0M353.3 450.7h0M361.9 439.9h0M354.9 447.7h0M337.3 444.5h0M349.7 458.5h0M347.9 457.7h0M354.6 460.7h0M349.1 464.8h0M336.0 447.3h0M343.1 439.6h0M347.2 445.4h0M335.1 453.8h0M348.6 434.5h0M347.5 447.5h0M357.0 456.5h0M348.6 446.0h0M345.0 450.5h0M348.5 445.6h0M349.6 462.1h0M356.3 463.4h0M342.7 445.0h0M333.5 446.0h0M368.9 452.1h0M354.8 455.6h0M349.7 454.0h0M366.5 455.5h0M341.3 457.6h0M343.8 459.1h0M346.3 463.3h0M352.8 452.8h0M346.1 448.8h0M354.9 451.4h0M346.9 465.7h0M358.5 457.1h0M352.6 456.4h0M337.6 460.3h0M349.1 459.7h0M341.2 466.7h0M348.3 447.0h0M349.3 453.3h0M365.2 456.7h0M347.6 457.1h0M337.9 449.6h0M350.1 441.9h0M341.0 450.3h0M362.3 447.6h0M354.3 451.3h0M360.4 458.8h0M346.4 456.3h0M341.8 444.8h0M351.3 447.2h0M339.5 453.1h0M342.4 459.0h0M343.8 451.4h0M348.2 453.2h0M338.4 442.4h0M334.6 448.7h0M359.4 446.8h0M345.4 453.0h0M347.9 450.0h0M353.5 446.2h0M352.4 444.8h0M344.6 452.9h0M346.1 447.5h0M360.7 458.6h0M358.2 452.4h0M354.6 449.8h0"/>
<path stroke="#c4c4c4" stroke-width="0.9" stroke-linecap="round" fill="none" d="M328.2 436.0h0M306.3 443.0h0M328.2 442.5h0M311.2 447.1h0M326.2 438.5h0M311.6 461.1h0M308.8 433.8h0M299.4 455.4h0M319.0 452.8h0M323.6 461.4h0M304.0 459.7h0M336.9 437.5h0M318.3 451.3h0M306.8 454.7h0M338.8 456.2h0M314.2 452.7h0M333.6 443.7h0M340.8 447.5h0M320.4 444.5h0M318.4 450.0h0M321.7 444.8h0M306.4 443.0h0M328.0 449.5h0M322.9 470.2h0M321.7 451.2h0M312.5 449.2h0M306.3 444.8h0M322.1 451.4h0M326.8 438.8h0M319.8 452.6h0M316.2 450.8h0M312.9 449.3h0M325.7 452.5h0M333.3 446.9h0M316.7 454.0h0M309.5 453.0h0M343.8 453.2h0M302.2 448.6h0M321.0 455.8h0M317.2 447.1h0M331.8 459.2h0M316.9 447.7h0M301.1 459.1h0M306.6 450.7h0M319.4 448.3h0M318.0 440.3h0M311.4 453.8h0M312.5 451.5h0M302.1 449.0h0"/>
<path stroke="#6a6a6a" stroke-width="1.4" stroke-linecap="round" fill="none" d="M351.3 456.5h0M350.0 458.2h0M345.0 457.4h0M343.8 446.1h0M352.3 453.4h0M350.2 447.5h0M356.5 448.9h0M358.8 451.6h0M353.3 455.9h0M352.4 447.9h0M352.0 449.0h0M349.8 445.9h0M346.3 451.5h0M336.9 449.6h0M353.0 448.2h0M352.1 453.2h0M349.5 450.8h0M350.0 451.2h0M353.9 451.0h0M353.7 453.0h0M350.3 455.9h0M348.2 446.6h0M352.2 444.1h0M353.1 452.0h0M359.8 451.4h0M345.1 457.0h0M351.7 453.4h0M345.2 458.3h0M347.2 453.2h0M360.4 446.2h0M347.4 455.1h0M348.8 447.6h0M346.6 448.8h0M353.4 451.6h0M347.4 450.3h0M341.5 456.0h0M350.0 449.3h0M353.3 457.0h0M349.2 447.0h0M350.1 453.4h0M346.0 449.7h0M344.9 457.1h0M349.3 448.7h0M344.0 454.9h0M347.2 439.2h0M344.6 449.0h0M348.2 457.4h0M353.0 450.9h0M349.1 451.3h0M354.6 453.2h0M351.0 459.8h0M348.7 446.8h0M345.0 451.5h0M349.7 449.1h0M343.8 454.7h0M352.8 447.5h0M342.9 446.2h0M342.7 446.4h0M345.2 454.3h0M341.3 453.3h0M349.7 454.1h0M345.6 445.6h0M347.0 447.9h0M352.1 448.3h0M338.8 456.3h0M348.0 452.9h0M350.9 450.0h0M354.0 446.1h0M349.8 451.5h0M346.0 449.8h0M353.6 453.5h0M353.6 456.7h0M359.7 449.3h0M359.4 444.6h0M348.2 460.2h0M355.7 452.1h0M350.2 452.8h0M344.4 452.4h0M352.5 451.0h0M355.4 450.1h0M338.1 454.2h0M355.5 444.0h0M345.3 449.0h0M356.8 449.1h0M350.3 451.3h0M349.9 451.6h0M355.8 451.3h0M347.6 444.3h0M359.1 445.3h0M344.7 449.3h0M346.4 452.1h0M344.1 451.3h0M351.7 458.0h0M348.8 449.6h0M353.0 449.3h0M354.3 444.0h0M352.9 457.2h0M354.3 450.3h0M354.3 449.5h0M348.7 448.6h0M345.6 452.0h0M344.5 450.6h0M352.6 454.9h0M346.6 448.4h0M344.5 450.3h0M345.1 449.8h0M348.0 453.5h0M350.2 452.1h0M347.9 455.0h0M344.2 454.1h0M351.6 452.7h0M338.5 453.4h0M347.5 454.8h0M353.9 451.9h0M350.2 452.1h0M354.6 443.8h0M349.4 449.2h0M351.7 447.9h0M349.1 444.1h0M346.9 456.5h0M350.7 456.2h0M353.5 454.3h0M339.6 455.1h0M345.0 457.5h0M339.0 446.6h0M344.4 456.8h0M342.7 444.5h0M346.5 452.1h0M347.4 451.8h0M353.3 452.1h0M354.5 452.4h0M344.9 454.5h0M346.4 448.9h0M351.6 447.9h0M345.7 448.5h0M346.8 451.9h0M340.0 451.5h0M352.1 444.3h0M349.9 454.5h0M344.2 447.6h0M342.5 450.4h0M343.7 449.2h0M350.7 447.8h0M346.4 453.7h0M342.9 449.6h0M347.1 445.9h0M352.7 447.7h0M354.6 445.9h0M355.0 443.9h0M349.3 454.4h0M350.0 455.2h0M350.2 445.2h0M351.9 456.4h0M351.6 457.4h0M344.3 446.6h0M345.4 453.3h0M347.0 450.3h0M352.2 453.5h0M346.4 440.3h0M345.2 454.1h0M353.6 448.6h0M355.7 451.5h0M344.6 455.2h0M348.2 442.1h0M354.3 449.7h0M347.0 451.4h0M353.2 452.4h0M342.2 456.7h0M347.8 454.1h0M351.9 447.4h0M356.0 452.3h0M353.3 447.2h0M341.2 455.5h0M341.6 451.8h0M344.8 451.1h0M352.7 450.7h0M352.3 444.3h0M353.9 448.8h0M352.1 445.8h0M346.1 455.1h0M347.1 456.2h0M344.7 446.3h0M352.7 441.7h0M342.9 453.1h0M349.1 448.8h0M350.0 447.2h0M354.6 458.6h0M345.2 450.1h0M350.7 446.7h0M344.1 450.9h0M353.6 451.1h0M347.1 457.4h0M347.4 452.5h0M344.4 447.1h0M346.0 449.7h0M345.8 458.6h0M346.0 445.0h0M354.3 449.7h0M344.2 456.4h0M350.0 451.8h0M352.8 449.4h0M343.5 448.7h0M338.8 453.6h0M351.0 452.6h0M341.1 453.4h0M345.2 455.7h0M348.4 451.9h0M350.1 455.7h0M347.6 451.8h0M345.5 455.2h0M353.5 448.9h0M349.9 457.5h0M357.8 454.0h0M344.6 454.5h0M348.4 447.4h0M348.6 451.8h0M351.4 439.4h0M349.9 449.5h0M349.0 451.7h0M358.0 445.9h0M348.1 451.8h0M350.9 453.2h0M349.7 457.8h0M346.0 451.7h0M352.3 444.4h0M340.1 443.9h0M354.2 449.4h0M341.6 456.0h0M347.4 455.6h0M349.3 451.4h0M346.6 449.0h0M346.4 448.9h0M354.4 449.4h0M360.0 449.2h0M353.7 452.4h0M349.6 451.4h0M345.9 459.3h0M345.3 452.4h0M354.5 451.8h0M353.0 454.2h0M355.0 453.5h0M353.5 447.7h0M355.1 443.7h0M346.1 446.7h0M345.2 453.2h0M344.1 454.3h0M348.7 452.4h0M348.0 454.3h0M349.4 456.0h0M343.2 449.3h0M349.7 460.7h0M352.6 460.5h0M349.2 454.0h0M336.3 453.0h0M348.7 452.1h0M347.2 446.1h0M353.1 450.4h0M348.1 448.2h0M351.8 450.2h0M347.0 450.3h0M350.4 458.7h0M353.4 447.0h0M347.6 452.6h0M350.3 449.3h0M349.6 457.0h0M351.7 454.6h0M348.3 445.4h0M351.1 447.0h0M340.3 453.9h0M347.8 449.0h0M352.7 452.1h0M352.0 450.8h0M344.4 447.9h0M345.1 450.8h0M350.7 452.6h0M350.5 450.5h0M351.0 451.3h0M349.1 452.5h0M349.3 450.6h0M353.6 455.3h0M344.5 447.2h0M342.4 454.2h0M353.5 448.2h0M345.3 453.4h0M352.0 453.7h0M345.7 454.2h0M343.7 454.8h0M356.0 452.6h0M348.5 453.3h0M342.3 451.6h0M347.8 454.2h0M348.0 455.0h0M347.8 454.7h0M349.6 452.1h0M343.5 453.3h0M347.5 443.9h0M350.9 447.6h0M351.6 449.8h0M349.2 454.9h0M345.1 456.5h0M339.7 453.5h0M355.5 445.5h0M343.6 454.0h0M346.7 455.3h0M348.8 454.1h0M350.8 448.1h0M348.7 447.1h0M345.0 448.5h0M348.6 447.1h0M358.3 453.0h0M360.3 450.0h0M347.8 459.6h0M351.8 456.8h0M340.7 456.6h0M349.8 448.3h0M352.1 453.0h0M347.4 453.1h0M357.2 444.1h0M352.8 445.5h0M351.6 447.7h0M336.7 458.3h0M346.0 450.2h0M352.1 445.2h0M346.6 451.9h0M340.7 455.0h0M346.2 447.0h0M355.8 457.0h0M352.0 447.6h0M352.8 454.3h0M349.7 453.5h0M356.3 446.8h0M335.9 453.2h0M343.3 452.3h0M357.7 447.9h0M353.7 453.0h0M350.0 451.1h0M347.3 444.8h0M340.5 453.1h0M346.9 447.1h0M348.2 450.3h0M344.6 452.8h0M355.2 449.4h0M353.6 454.0h0M347.6 451.0h0M353.0 448.2h0M348.7 457.4h0M350.1 453.6h0M346.7 451.0h0M360.3 448.8h0M342.0 450.9h0M348.2 451.5h0M353.7 446.4h0M353.6 456.9h0M341.4 457.3h0M344.5 443.3h0M348.4 447.5h0M345.2 451.6h0M345.8 449.2h0M347.7 443.1h0M348.2 453.8h0M354.0 445.5h0M341.0 455.2h0M353.8 451.8h0M347.8 457.1h0M351.6 447.1h0M347.3 458.3h0M359.7 444.2h0M340.6 458.4h0M354.4 454.0h0M346.8 453.1h0M347.8 447.1h0M355.5 455.9h0M348.0 454.3h0M353.1 443.8h0M355.6 439.8h0M346.2 449.1h0M358.3 445.9h0M354.8 452.6h0M347.9 451.8h0M350.0 452.0h0M345.7 449.7h0M350.3 454.4h0M353.0 448.0h0M353.6 444.3h0M350.0 441.6h0M346.6 453.5h0M346.0 449.3h0M344.5 445.3h0M347.7 447.9h0M351.7 449.0h0M346.3 454.2h0M345.8 443.5h0M344.1 450.5h0M351.6 453.4h0M347.8 453.1h0M341.5 455.7h0M354.1 457.6h0M353.8 446.8h0M349.0 448.8h0M347.3 455.5h0M348.8 457.4h0M344.7 453.3h0M353.6 449.0h0M355.3 445.4h0M353.7 452.6h0M350.1 452.3h0M350.0 446.9h0M351.4 448.7h0M356.8 445.8h0M345.3 454.2h0M348.9 450.6h0M345.8 456.6h0M343.4 457.5h0M350.5 452.2h0M354.2 454.7h0M344.1 456.2h0M353.5 456.1h0M352.0 448.8h0M351.1 453.2h0M355.2 457.1h0M345.9 454.4h0M356.4 448.2h0M347.3 452.6h0M351.5 459.6h0M341.8 451.3h0M353.4 448.0h0M349.1 454.8h0M346.3 450.4h0M344.2 446.3h0M349.9 445.1h0M355.1 450.2h0M351.4 448.5h0M347.4 457.3h0M345.4 449.8h0M344.1 447.0h0M347.4 448.7h0M341.5 448.1h0M347.2 456.2h0M354.0 447.4h0M348.6 457.2h0M348.2 453.7h0M346.1 459.8h0M352.2 450.3h0M351.8 454.1h0M355.4 442.0h0M345.7 450.2h0M343.8 449.6h0M346.1 456.4h0M343.2 452.0h0M348.6 454.0h0M346.9 449.0h0M344.9 447.2h0M348.6 451.1h0M353.5 455.5h0M352.1 450.6h0M346.0 458.1h0M349.0 450.1h0M350.3 449.8h0M351.9 449.5h0M347.3 450.8h0M342.9 450.0h0M350.4 450.2h0M344.4 449.2h0M347.1 447.8h0M347.6 457.5h0M353.1 454.0h0M346.7 450.7h0M349.6 449.0h0M347.8 445.6h0M346.3 454.2h0M352.9 448.0h0M346.7 459.3h0M351.0 444.3h0M350.1 452.5h0M340.3 457.8h0M341.2 450.9h0M334.3 462.2h0M350.2 455.1h0M350.0 455.0h0M346.4 448.6h0M346.4 455.9h0M347.4 455.7h0M345.9 452.6h0M348.6 458.5h0M348.7 452.8h0M344.7 443.6h0M355.4 451.5h0M353.5 457.3h0M347.0 449.5h0M358.8 452.4h0M360.1 446.8h0M354.5 450.4h0M354.3 439.9h0M346.2 445.0h0M347.4 450.6h0M341.6 450.7h0M346.9 444.6h0M353.3 453.3h0M347.0 453.2h0M341.2 449.6h0"/>
<path stroke="#6a6a6a" stroke-width="1.2" stroke-linecap="round" fill="none" d="M343.0 408.3h0M352.4 411.5h0M348.6 408.2h0M353.0 416.3h0M354.4 413.2h0M349.1 403.8h0M349.5 411.7h0M353.0 412.0h0M349.4 407.2h0M343.2 410.7h0M352.4 411.2h0M351.3 409.0h0M348.2 410.7h0M352.0 412.0h0M348.8 409.4h0M348.7 410.8h0M353.0 407.3h0M345.2 412.9h0M344.3 409.0h0M349.5 414.6h0M345.4 417.2h0M353.2 416.0h0M347.4 409.6h0M343.9 412.3h0M348.6 410.2h0M342.1 412.3h0M354.9 408.5h0M349.9 407.9h0M352.5 410.8h0M351.9 408.5h0M350.8 414.6h0M346.3 413.1h0M352.9 412.0h0M348.9 410.5h0M347.3 410.4h0M342.8 413.9h0M354.6 411.2h0M349.2 411.0h0M348.6 416.6h0M343.3 411.4h0M353.4 410.2h0M349.7 410.3h0M353.6 414.8h0M349.9 409.5h0M347.0 409.5h0M352.1 414.3h0M344.5 414.5h0M344.5 415.2h0M349.8 408.4h0M352.7 412.3h0M354.0 409.3h0M349.7 412.2h0M349.6 406.2h0M350.8 410.4h0M349.3 414.2h0M348.3 411.6h0M351.8 403.7h0M348.3 414.0h0M349.3 412.1h0M354.3 410.2h0M350.8 411.0h0M348.2 410.0h0M352.5 414.5h0M349.5 410.9h0M352.5 406.2h0M347.0 408.4h0M347.3 415.9h0M345.0 414.4h0M354.0 413.4h0M355.0 408.6h0M354.3 412.6h0M351.3 414.1h0M350.7 411.3h0M349.2 413.2h0M352.1 414.4h0M349.4 414.1h0M346.4 412.4h0M353.6 412.4h0M353.2 407.3h0M351.9 410.1h0M349.8 413.5h0M348.7 416.2h0M350.4 411.6h0M350.8 414.3h0M345.9 411.1h0M348.4 408.1h0M346.3 412.4h0M353.9 412.4h0M345.2 408.4h0M345.8 408.4h0"/>
<path stroke="#6a6a6a" stroke-width="1" stroke-linecap="round" fill="none" d="M318.6 409.8h0M313.5 410.9h0M322.7 407.5h0M305.9 415.7h0M325.5 413.4h0M312.6 413.5h0M321.4 410.0h0M304.1 415.1h0M326.6 408.2h0M320.0 414.9h0M337.2 415.7h0M303.1 406.7h0M301.6 416.2h0M324.7 411.0h0M326.2 411.2h0M302.0 414.1h0M323.0 406.6h0M326.6 410.3h0M330.9 408.5h0M319.4 411.4h0M304.2 414.4h0M300.6 413.7h0M337.1 415.5h0M321.9 407.6h0M327.1 409.3h0M315.3 408.7h0M316.1 411.9h0M316.3 417.0h0M309.7 413.4h0M315.6 410.0h0M308.1 409.8h0M314.4 414.3h0M328.3 408.1h0M318.4 413.9h0M312.1 411.0h0M333.8 407.6h0M330.0 409.7h0M318.6 407.0h0M302.4 418.5h0M329.9 406.5h0M330.1 410.3h0M312.9 414.3h0M331.1 416.8h0M310.7 414.8h0M315.8 415.0h0M314.0 411.2h0M319.9 411.3h0M317.0 412.2h0M331.2 412.9h0M315.0 409.6h0M322.2 412.5h0M318.6 420.5h0M320.4 408.7h0M310.7 407.8h0M317.9 410.5h0M330.8 409.4h0M325.7 415.7h0M307.6 415.4h0M314.5 416.1h0M309.1 411.5h0"/>
<path stroke="#6a6a6a" stroke-width="0.9" stroke-linecap="round" fill="none" d="M319.8 455.5h0M322.8 451.7h0M312.6 440.9h0M322.8 442.0h0M317.7 451.3h0M322.3 439.2h0M307.6 449.8h0M301.8 447.5h0M332.6 436.9h0M320.7 427.0h0M319.4 441.0h0M343.6 448.4h0M329.5 448.5h0M324.4 459.8h0M314.4 448.5h0M323.8 447.8h0M322.5 451.8h0M318.2 444.5h0M333.4 463.9h0M327.3 443.2h0M325.6 440.7h0M313.2 443.9h0M314.3 459.3h0M330.6 443.3h0M322.7 441.5h0M315.6 453.6h0M323.5 458.9h0M320.9 444.6h0M316.7 454.6h0M319.0 442.4h0"/>
<path stroke="#c8141e" stroke-width="1.4" stroke-linecap="round" fill="none" d="M325.7 408.8h0M307.2 416.6h0M313.2 412.5h0M312.0 412.7h0M308.2 413.5h0M314.6 405.6h0M320.2 406.9h0M309.0 408.6h0M329.4 408.8h0M317.0 410.3h0M317.7 412.6h0M309.3 413.0h0M314.6 414.1h0M321.8 408.4h0M307.6 413.4h0M309.9 411.0h0M308.9 409.6h0M305.3 408.9h0M319.8 410.1h0M309.0 410.1h0M327.4 407.7h0M305.7 410.6h0M312.5 409.1h0M315.4 417.6h0M307.6 412.6h0M299.0 411.0h0M310.2 411.6h0M314.9 411.2h0M307.9 409.0h0M317.0 413.2h0M301.1 411.5h0M317.3 412.0h0M330.7 407.3h0M322.3 408.0h0M322.5 417.3h0M312.4 410.2h0M311.8 408.2h0M323.5 408.4h0M312.5 409.2h0M319.9 412.7h0M307.7 413.4h0M317.9 407.8h0M316.3 414.9h0M298.4 413.6h0M314.1 408.2h0M319.3 412.9h0M319.1 411.9h0M317.8 408.2h0M324.7 406.7h0M314.5 410.8h0M309.3 410.6h0M321.8 411.1h0M331.0 408.9h0M312.5 408.8h0M326.4 406.5h0M313.7 410.7h0M303.9 416.1h0M308.3 410.8h0M308.6 413.6h0M323.8 408.0h0M315.8 411.9h0M310.9 410.5h0M316.0 411.9h0M325.5 407.1h0M314.4 409.4h0M309.6 416.5h0M317.7 412.7h0M308.7 409.3h0M318.8 413.1h0M322.5 409.3h0M316.4 414.0h0M311.8 408.5h0M315.9 410.7h0M304.4 412.0h0M326.8 407.3h0M332.8 405.1h0M315.2 415.5h0M299.5 413.8h0M309.9 411.2h0M304.1 409.2h0M300.9 416.2h0M313.9 413.9h0M313.8 410.9h0M310.3 408.7h0M323.3 410.9h0M315.3 411.0h0M307.6 409.0h0M318.1 415.4h0M305.5 414.5h0M312.4 409.2h0M308.7 410.3h0M317.2 412.5h0M313.0 414.2h0M310.6 413.3h0M317.0 412.0h0M318.5 409.6h0M316.8 415.6h0M323.4 409.0h0M307.1 413.1h0M318.0 411.5h0M327.6 408.3h0M315.1 413.0h0M298.4 417.8h0M322.3 404.7h0M313.5 411.0h0M319.9 413.2h0M317.1 414.1h0M319.7 409.3h0M324.2 411.1h0M316.0 411.5h0M320.9 410.5h0M305.2 411.5h0M308.3 414.8h0M314.1 414.2h0M326.9 412.8h0M308.8 413.0h0M312.4 412.0h0M320.0 413.0h0M311.0 419.7h0M305.2 412.5h0M300.2 413.7h0M320.9 414.3h0M306.5 410.1h0M317.6 404.9h0M318.9 412.9h0M307.5 415.9h0M318.3 413.8h0M298.9 416.5h0M314.1 414.0h0M307.1 411.1h0M316.7 413.4h0M316.5 408.7h0M316.3 407.4h0M319.6 409.9h0M310.2 409.1h0M304.1 410.7h0M305.6 411.4h0M322.5 408.9h0M307.1 413.0h0M312.3 409.4h0M317.6 409.4h0M313.8 411.1h0M307.5 413.0h0M299.1 415.2h0M322.0 411.8h0M310.6 412.6h0M302.7 414.5h0M310.1 413.7h0M315.3 411.1h0M300.2 414.3h0M316.0 408.9h0M315.0 411.8h0M318.3 412.9h0M315.0 409.7h0M307.4 415.7h0M302.7 412.3h0M313.4 414.0h0M311.0 415.9h0M326.4 409.7h0M312.7 410.7h0M318.0 411.8h0M315.3 410.3h0M301.7 411.5h0M320.6 412.7h0M311.4 407.4h0M304.0 415.3h0M318.0 408.9h0M324.2 411.8h0M314.0 410.2h0M312.7 415.9h0M310.0 411.0h0M311.6 406.6h0M323.2 416.6h0M315.5 411.2h0M318.0 410.4h0M319.2 410.5h0M316.1 411.7h0M319.1 408.7h0M316.5 416.0h0M303.7 411.6h0M308.9 413.8h0M319.9 413.5h0M317.9 410.2h0M318.2 412.7h0M306.2 411.5h0M316.9 408.6h0M325.6 407.4h0M315.1 413.7h0M324.9 411.9h0M321.3 408.0h0M321.0 412.5h0M309.8 410.0h0M309.9 412.5h0M309.8 413.8h0M323.4 404.9h0M324.2 411.0h0M307.0 411.9h0M305.2 409.5h0M315.7 412.7h0M324.6 410.1h0M316.8 411.7h0M319.5 409.7h0M318.4 409.0h0M319.1 407.4h0M313.8 410.9h0M318.4 408.1h0M319.9 409.2h0M314.0 412.3h0M327.3 410.8h0M306.9 413.6h0M311.9 412.4h0M308.5 411.7h0M322.8 412.0h0M322.9 412.5h0M309.2 411.1h0M315.4 410.1h0M311.4 409.5h0M304.6 412.3h0M308.8 411.3h0M317.3 415.3h0M319.0 413.6h0M309.3 409.0h0M314.8 413.0h0M320.9 409.5h0M325.1 405.3h0M317.4 411.3h0M308.7 410.7h0M303.1 414.0h0M315.3 412.3h0M312.5 410.1h0M310.5 415.5h0M309.7 412.4h0M310.6 410.1h0M316.0 407.2h0M319.8 415.5h0M308.7 410.4h0M328.7 408.8h0M325.4 409.9h0M313.0 413.6h0M317.1 407.6h0M326.1 403.5h0M308.1 412.6h0M310.3 408.5h0M310.3 411.3h0M307.4 417.3h0M320.2 408.8h0M313.3 413.0h0M315.6 408.4h0M315.5 418.0h0M313.4 410.5h0M326.1 410.0h0M313.7 411.0h0M308.5 410.9h0M304.7 415.5h0M309.8 411.5h0M316.3 408.7h0M316.2 409.6h0M317.0 410.0h0M311.8 411.9h0M318.2 410.8h0M318.3 408.6h0M306.0 411.5h0M317.9 415.4h0M318.0 409.9h0M312.9 414.6h0M323.1 408.5h0M315.4 411.8h0M309.3 410.6h0M321.9 405.1h0M328.1 407.3h0M306.4 414.6h0M314.4 414.0h0M321.5 412.3h0M319.5 408.9h0M322.5 408.8h0M324.7 406.5h0M301.7 414.0h0M320.1 411.9h0M302.9 413.6h0M307.9 410.5h0M306.9 413.3h0M318.5 410.5h0M302.6 414.3h0M315.7 410.4h0M303.7 413.4h0M329.8 406.6h0M311.0 409.7h0M314.8 405.1h0M306.2 413.0h0M310.6 412.1h0M324.7 407.0h0M316.8 414.3h0M306.3 415.4h0M311.2 415.7h0M313.7 411.0h0M328.0 408.1h0M314.0 412.0h0M318.2 412.6h0M322.8 413.2h0M332.7 405.6h0M319.7 409.8h0M307.0 407.7h0M307.5 411.8h0M327.6 410.9h0M318.0 412.1h0M300.6 419.2h0M311.1 413.4h0M311.5 410.7h0M312.4 409.8h0M319.7 410.8h0M319.9 414.1h0M324.9 406.3h0M300.8 411.4h0M317.1 410.9h0M313.4 410.6h0M307.0 414.6h0M321.2 408.9h0M305.0 413.0h0M304.6 412.9h0M327.0 409.4h0M318.0 413.7h0M321.1 406.9h0M324.8 405.3h0M305.4 409.3h0M325.2 408.6h0M315.7 411.2h0M319.0 411.6h0M321.0 410.7h0M319.8 410.5h0M312.1 407.4h0M314.9 409.5h0M316.2 411.9h0M322.9 406.7h0M298.5 412.9h0M325.6 408.1h0M308.0 413.5h0M331.3 406.1h0M318.6 406.5h0M328.2 407.8h0"/>
<path stroke="#c8141e" stroke-width="1.2" stroke-linecap="round" fill="none" d="M312.1 425.8h0M315.0 425.8h0M311.3 431.2h0M312.3 424.3h0M311.5 429.4h0M311.6 433.7h0M318.1 433.7h0M306.4 434.9h0M314.4 427.0h0M310.8 420.9h0M313.0 429.6h0M308.9 429.8h0M313.4 430.1h0M310.8 427.0h0M314.3 430.8h0M316.3 424.0h0M309.7 432.5h0M308.8 436.9h0M315.8 429.4h0M317.8 429.0h0M312.9 431.7h0M307.6 431.3h0M308.9 431.4h0M315.3 429.7h0M317.3 427.5h0M312.5 436.0h0M309.4 423.3h0M315.8 433.9h0M309.4 424.9h0M311.1 431.0h0"/>
<path stroke="#c8141e" stroke-width="1.1" stroke-linecap="round" fill="none" d="M337.9 407.2h0M334.9 404.4h0M337.5 409.9h0M337.8 413.6h0M349.5 411.5h0M339.7 405.8h0M339.2 410.0h0M337.7 411.7h0M342.6 411.1h0M342.6 413.5h0M345.6 411.0h0M339.2 401.8h0M336.6 410.3h0M342.4 406.9h0M347.1 406.5h0M346.5 404.5h0M337.7 405.6h0M340.2 407.9h0M344.4 411.6h0M339.7 411.8h0M335.6 410.6h0M343.7 412.0h0M340.9 407.9h0M344.2 406.7h0M347.0 413.7h0M340.2 410.1h0M336.9 408.0h0M338.8 410.8h0M346.6 407.0h0M343.2 412.9h0M346.6 405.6h0M340.9 407.5h0M346.5 408.4h0M340.3 408.4h0M339.5 405.7h0M342.7 411.1h0M342.1 410.5h0M341.5 409.0h0M343.0 410.4h0M347.6 407.7h0"/>
<path stroke="#555" stroke-width="1" stroke-linecap="round" fill="none" d="M327.5 408.1h0M315.0 410.3h0M311.0 413.0h0M318.2 413.3h0M318.1 408.6h0M322.6 411.2h0M325.2 413.2h0M333.5 409.6h0M308.9 410.6h0M306.8 409.3h0M322.1 410.3h0M330.4 412.1h0M328.2 411.1h0M319.0 414.4h0M317.9 410.1h0M317.5 411.2h0M334.3 406.0h0M318.3 412.3h0M322.6 409.7h0M310.0 410.4h0M327.4 408.3h0M318.9 412.2h0M317.9 413.2h0M317.6 413.0h0M319.0 416.7h0M342.0 408.6h0M325.0 407.4h0M325.4 412.4h0M314.0 409.6h0M308.7 410.0h0M302.7 415.6h0M315.4 410.0h0M321.5 410.4h0M322.0 409.1h0M308.4 412.3h0M325.4 405.4h0M315.6 413.7h0M329.3 412.1h0M318.1 410.4h0M320.5 413.7h0M314.2 413.9h0M314.6 414.7h0M320.5 414.3h0M324.8 406.8h0M326.0 411.7h0M314.5 411.4h0M310.2 414.4h0M323.6 409.4h0M330.5 414.0h0M316.2 415.6h0"/>
<line x1="336.1" y1="392.5" x2="336.1" y2="478.5" stroke="#b8c4dd" stroke-width="0.7"/>
<line x1="295.5" y1="439.2" x2="382.3" y2="439.2" stroke="#b0b0b0" stroke-width="0.7"/>
<line x1="295.5" y1="392.3" x2="295.5" y2="479.5" stroke="#111" stroke-width="1"/>
<line x1="295" y1="479" x2="382.3" y2="479" stroke="#111" stroke-width="1.1"/>
<line x1="292.7" y1="395.3" x2="295.5" y2="395.3" stroke="#111" stroke-width="0.9"/>
<text x="288.9" y="397.5" font-size="6.4" fill="#1a1a1a" text-anchor="end">10<tspan dy="-2.4" font-size="3.97">5</tspan></text>
<line x1="292.7" y1="415.3" x2="295.5" y2="415.3" stroke="#111" stroke-width="0.9"/>
<text x="288.9" y="417.5" font-size="6.4" fill="#1a1a1a" text-anchor="end">10<tspan dy="-2.4" font-size="3.97">4</tspan></text>
<line x1="292.7" y1="435.4" x2="295.5" y2="435.4" stroke="#111" stroke-width="0.9"/>
<text x="288.9" y="437.6" font-size="6.4" fill="#1a1a1a" text-anchor="end">10<tspan dy="-2.4" font-size="3.97">3</tspan></text>
<line x1="292.7" y1="455.4" x2="295.5" y2="455.4" stroke="#111" stroke-width="0.9"/>
<text x="288.9" y="457.6" font-size="6.4" fill="#1a1a1a" text-anchor="end">10<tspan dy="-2.4" font-size="3.97">2</tspan></text>
<line x1="292.7" y1="465.2" x2="295.5" y2="465.2" stroke="#111" stroke-width="0.9"/>
<text x="288.7" y="467.4" font-size="6.4" fill="#1a1a1a" text-anchor="end">0</text>
<line x1="292.7" y1="474.6" x2="295.5" y2="474.6" stroke="#111" stroke-width="0.9"/>
<text x="288.9" y="476.8" font-size="6.4" fill="#1a1a1a" text-anchor="end">−10<tspan dy="-2.4" font-size="3.97">2</tspan></text>
<line x1="299.7" y1="479" x2="299.7" y2="482" stroke="#111" stroke-width="0.9"/>
<text x="300.6" y="490.6" font-size="6.4" fill="#1a1a1a" text-anchor="middle">−10<tspan dy="-2.4" font-size="3.97">2</tspan></text>
<line x1="309.7" y1="479" x2="309.7" y2="482" stroke="#111" stroke-width="0.9"/>
<text x="309.7" y="490.6" font-size="6.4" fill="#1a1a1a" text-anchor="middle">0</text>
<line x1="318.6" y1="479" x2="318.6" y2="482" stroke="#111" stroke-width="0.9"/>
<text x="319.5" y="490.6" font-size="6.4" fill="#1a1a1a" text-anchor="middle">10<tspan dy="-2.4" font-size="3.97">2</tspan></text>
<line x1="339.6" y1="479" x2="339.6" y2="482" stroke="#111" stroke-width="0.9"/>
<text x="340.5" y="490.6" font-size="6.4" fill="#1a1a1a" text-anchor="middle">10<tspan dy="-2.4" font-size="3.97">3</tspan></text>
<line x1="359.8" y1="479" x2="359.8" y2="482" stroke="#111" stroke-width="0.9"/>
<text x="360.7" y="490.6" font-size="6.4" fill="#1a1a1a" text-anchor="middle">10<tspan dy="-2.4" font-size="3.97">4</tspan></text>
<line x1="380.3" y1="479" x2="380.3" y2="482" stroke="#111" stroke-width="0.9"/>
<text x="381.2" y="490.6" font-size="6.4" fill="#1a1a1a" text-anchor="middle">10<tspan dy="-2.4" font-size="3.97">5</tspan></text>
<text x="309.4" y="396.5" font-size="5.6" fill="#c0392b" text-anchor="middle">85.7</text>
<text x="309.4" y="402.4" font-size="5.6" fill="#555" text-anchor="middle">23</text>
<text x="349.2" y="396.5" font-size="5.6" fill="#c0392b" text-anchor="middle">11.1</text>
<text x="349.2" y="402.4" font-size="5.6" fill="#555" text-anchor="middle">20.4</text>
<text x="309.4" y="471.4" font-size="5.6" fill="#c0392b" text-anchor="middle">1.6</text>
<text x="309.4" y="477.3" font-size="5.6" fill="#555" text-anchor="middle">1.9</text>
<text x="349.2" y="471.4" font-size="5.6" fill="#c0392b" text-anchor="middle">1.6</text>
<text x="349.2" y="477.3" font-size="5.6" fill="#555" text-anchor="middle">54.8</text>
<text x="339.8" y="502.3" font-size="8" fill="#1a1a1a" text-anchor="middle" textLength="41.1" lengthAdjust="spacingAndGlyphs">CD28 - BV421</text>
<text x="271.6" y="435" font-size="8" fill="#1a1a1a" text-anchor="middle" textLength="38.2" lengthAdjust="spacingAndGlyphs" transform="rotate(-90 271.6 435)">CD8 - BV510</text>
<path stroke="#c4c4c4" stroke-width="1.2" stroke-linecap="round" fill="none" d="M429.7 439.5h0M426.0 445.3h0M426.2 434.4h0M440.8 448.2h0M440.7 431.4h0M448.6 439.2h0M437.7 453.4h0M427.8 445.9h0M433.7 440.1h0M426.7 447.2h0M430.9 443.5h0M448.7 448.1h0M437.3 455.5h0M432.4 445.0h0M427.6 430.8h0M426.6 449.7h0M432.2 438.8h0M431.3 456.1h0M428.1 454.6h0M430.0 445.8h0M432.5 450.0h0M432.5 432.9h0M426.7 430.5h0M437.4 442.9h0M434.1 449.0h0M437.7 458.0h0M446.6 440.0h0M425.9 437.7h0M432.3 438.4h0M435.9 439.3h0M432.8 447.5h0M439.9 433.3h0M427.8 452.7h0M444.4 434.3h0M433.2 466.0h0M442.9 444.8h0M429.9 446.8h0M440.4 431.3h0M443.4 448.5h0M438.2 429.0h0M426.6 453.4h0M431.0 440.3h0M442.4 448.2h0M434.2 450.5h0M442.5 454.2h0M439.5 457.9h0M434.1 456.0h0M428.8 452.6h0M430.7 440.5h0M427.0 435.9h0M441.7 452.6h0M443.8 448.9h0M445.3 441.4h0M426.4 445.5h0M434.4 454.3h0M428.1 454.0h0M440.0 440.6h0M448.6 434.3h0M431.9 429.0h0M427.5 441.9h0M430.3 443.2h0M441.6 434.2h0M439.3 455.4h0M433.6 462.8h0M437.4 439.2h0M425.8 452.5h0M434.5 445.0h0M435.1 451.1h0M434.6 447.5h0M446.6 445.3h0M446.7 454.4h0M433.8 452.2h0M429.6 442.4h0M441.4 450.3h0M425.7 440.7h0M437.8 445.7h0M433.7 451.4h0M438.6 450.2h0M431.6 432.3h0M430.4 451.3h0M426.1 435.5h0M436.2 448.0h0M429.8 452.3h0M440.4 432.8h0M428.0 436.6h0M436.7 453.3h0M440.1 448.9h0M441.5 427.7h0M437.0 454.6h0M447.7 440.6h0M433.6 435.7h0M440.4 448.3h0M435.1 440.5h0M434.5 446.4h0M434.3 448.4h0M428.6 467.6h0M443.7 454.3h0M436.3 448.4h0M441.1 447.0h0M433.1 449.1h0M441.5 450.4h0M428.1 440.5h0M433.6 450.6h0M433.9 440.0h0M430.2 441.0h0M426.0 445.3h0M437.6 455.1h0M428.7 453.4h0M434.7 419.8h0M434.1 456.8h0M431.0 446.6h0M456.1 446.7h0M427.4 459.0h0M426.7 439.7h0M435.4 436.8h0M435.3 428.5h0M430.0 435.6h0M430.8 453.3h0M428.2 438.8h0M439.1 436.8h0M440.0 449.4h0M427.0 437.0h0M427.5 439.2h0M427.0 438.8h0M425.7 449.4h0M448.6 439.7h0M438.4 441.4h0M434.2 444.2h0M433.9 429.6h0M426.9 443.6h0M427.4 429.8h0M430.7 435.1h0M442.5 441.5h0M426.3 446.7h0M431.1 443.4h0M430.4 455.0h0M450.1 446.7h0M434.0 450.7h0M435.3 441.4h0M429.0 439.9h0M439.1 460.5h0M434.1 431.1h0M428.5 456.0h0M427.0 439.0h0M425.8 451.5h0M428.5 434.2h0M431.9 450.0h0M438.6 448.4h0M433.9 426.9h0M440.6 439.9h0M427.0 451.3h0M428.4 454.6h0M429.2 448.3h0M428.7 440.6h0M425.7 445.2h0M441.6 434.1h0M437.3 436.8h0M434.6 447.6h0M436.8 445.6h0M430.0 451.9h0M429.3 447.2h0M429.7 450.8h0M428.0 444.7h0M435.8 451.1h0M434.8 467.4h0M431.4 437.0h0M428.7 446.9h0M441.1 441.6h0M437.3 450.1h0M441.7 449.9h0M438.4 438.6h0M437.7 447.2h0M426.6 447.7h0M431.3 444.9h0M448.7 448.6h0M427.7 458.1h0M435.3 451.3h0M446.3 443.6h0M436.5 448.1h0M425.9 463.6h0M439.5 440.5h0M425.6 455.9h0M431.2 440.1h0M432.3 431.9h0M431.9 439.9h0M429.4 449.0h0M431.7 443.9h0M427.8 439.8h0M436.3 439.1h0M425.9 437.5h0M427.3 436.6h0M432.4 440.6h0M426.5 423.9h0M435.0 449.7h0M438.0 448.5h0M426.3 446.8h0M448.1 454.0h0M433.2 440.7h0M444.1 445.8h0M427.6 422.9h0M433.9 447.6h0M428.7 442.3h0M427.8 451.2h0M434.5 453.4h0M431.6 444.3h0M443.2 434.7h0M434.9 448.8h0M435.4 453.3h0M436.1 453.9h0M426.6 441.2h0M432.7 437.7h0M429.4 443.4h0M426.3 436.6h0M428.9 426.8h0M429.5 449.0h0M432.6 449.6h0M427.6 451.5h0M428.1 438.2h0M429.7 445.4h0M427.6 435.0h0M441.5 432.6h0M434.1 449.8h0M425.7 429.6h0M434.3 442.6h0M432.6 466.5h0M428.5 456.4h0M431.4 451.6h0M439.6 451.1h0M441.3 443.9h0M445.1 440.5h0M432.1 463.5h0M430.4 444.0h0M432.7 440.5h0M428.6 451.6h0M442.1 445.2h0M429.6 457.3h0M436.8 440.2h0M433.4 438.5h0M432.6 442.2h0M433.0 460.0h0M425.6 454.1h0M428.6 448.2h0M428.6 446.7h0M439.0 448.9h0M426.0 437.3h0M428.1 450.4h0M441.6 441.6h0M428.9 448.0h0M430.3 446.2h0M427.6 448.7h0M437.3 441.9h0M429.7 454.4h0M432.8 449.2h0M437.6 439.2h0M439.7 449.9h0M446.6 443.0h0M434.9 449.4h0M444.0 453.5h0M427.1 441.7h0M426.2 445.8h0M427.8 446.6h0M430.9 446.4h0M435.7 464.0h0M435.1 449.2h0M444.8 436.0h0M433.1 447.1h0M428.4 441.2h0M425.9 467.6h0M430.3 440.5h0M440.7 436.3h0M435.6 452.6h0M430.9 441.5h0M436.9 442.7h0M445.8 444.0h0M428.3 440.2h0M426.5 442.5h0M448.2 426.7h0M428.6 445.2h0M426.3 451.8h0M433.1 462.7h0M429.6 446.8h0M431.4 453.5h0M429.7 439.8h0M428.7 459.1h0M433.4 466.0h0M435.1 449.2h0M430.8 443.3h0M439.0 446.7h0M425.6 460.0h0M429.5 435.3h0M426.0 457.6h0M434.0 437.5h0M440.3 439.0h0M442.3 448.7h0M433.8 452.0h0M431.4 454.9h0M435.4 459.0h0M439.4 436.4h0M431.5 447.0h0M438.2 453.2h0M429.3 448.8h0M430.6 456.3h0M440.7 446.7h0M437.3 443.8h0M431.1 426.6h0M425.7 429.8h0M438.8 453.3h0M435.5 436.2h0M430.5 449.1h0M425.6 452.1h0M436.6 445.3h0M427.5 455.3h0M432.4 440.6h0M437.2 451.6h0M425.6 445.2h0M442.0 433.2h0M445.4 428.6h0M432.7 444.6h0M430.8 460.7h0M432.6 456.6h0M428.2 450.5h0M453.7 453.4h0M431.7 454.3h0M443.5 444.2h0M440.1 457.9h0M429.3 448.6h0M430.2 441.8h0M438.8 452.2h0M431.8 445.3h0M436.4 453.1h0M427.8 435.6h0M431.1 435.5h0M436.7 463.3h0M431.3 451.9h0M426.6 436.7h0M441.7 431.9h0M433.9 445.3h0M433.0 437.0h0M433.2 458.0h0M439.0 429.1h0M425.9 457.0h0M435.6 437.1h0M449.2 435.0h0M428.5 446.5h0M437.1 434.8h0M435.1 440.8h0M438.4 441.1h0M437.0 424.4h0M433.8 435.4h0M437.3 449.0h0M443.8 427.4h0M430.2 433.8h0M441.7 437.7h0M428.2 454.1h0M438.6 454.1h0M432.1 459.2h0M433.8 437.3h0M429.4 453.2h0M431.2 448.0h0M432.3 434.3h0M427.0 450.5h0M450.8 445.8h0M429.8 439.9h0M430.4 436.2h0M429.8 431.4h0M432.3 450.3h0M443.0 449.8h0M431.8 443.3h0M428.3 442.4h0M443.7 440.5h0M425.5 452.7h0M442.3 447.6h0M436.7 429.9h0M428.7 446.6h0M432.4 450.1h0M427.7 440.5h0M432.7 441.6h0M428.6 440.6h0M436.2 451.5h0"/>
<path stroke="#c4c4c4" stroke-width="1" stroke-linecap="round" fill="none" d="M464.3 439.3h0M471.1 431.7h0M469.3 431.9h0M445.6 439.0h0M474.2 451.1h0M468.8 426.0h0M472.6 437.7h0M454.5 441.7h0M457.0 434.4h0M468.5 440.0h0M478.1 437.7h0M453.9 443.9h0M464.9 449.9h0M466.3 436.2h0M459.2 440.5h0M465.5 441.5h0M457.8 439.5h0M473.9 438.4h0M447.9 423.5h0M465.2 439.0h0M457.8 430.9h0M461.8 435.3h0M454.2 441.3h0M435.5 442.2h0M476.0 435.1h0M468.9 435.0h0M466.2 436.3h0M462.2 430.9h0M465.2 449.0h0M459.7 450.3h0M463.5 436.9h0M475.0 449.4h0M456.9 443.6h0M454.8 430.7h0M479.3 444.6h0M458.2 442.8h0M464.6 439.3h0M461.0 428.1h0M467.9 434.0h0M468.3 422.2h0"/>
<path stroke="#6a6a6a" stroke-width="1.24" stroke-linecap="round" fill="none" d="M427.9 449.0h0M437.4 457.4h0M429.7 447.4h0M431.5 457.4h0M426.1 445.9h0M433.1 429.6h0M431.9 449.7h0M429.5 455.5h0M426.6 451.9h0M433.0 456.2h0M435.3 439.4h0M436.2 444.9h0M426.6 447.3h0M431.7 450.0h0M429.0 451.9h0M425.7 455.3h0M438.8 443.7h0M433.5 438.3h0M440.6 443.4h0M428.2 445.4h0M427.5 443.4h0M433.4 439.4h0M434.0 454.4h0M426.4 455.2h0M426.5 455.4h0M431.4 453.6h0M428.6 451.6h0M434.6 443.4h0M431.2 443.8h0M437.9 449.5h0M431.0 431.7h0M426.3 449.2h0M433.5 430.7h0M431.6 462.4h0M435.7 452.4h0M435.3 441.9h0M432.9 446.9h0M438.1 442.9h0M434.8 460.0h0M431.6 456.4h0M438.8 447.9h0M430.0 443.0h0M430.7 452.1h0M427.5 449.4h0M426.8 446.9h0M451.1 442.9h0M431.5 434.4h0M428.1 435.9h0M432.2 441.2h0M450.0 433.6h0M431.8 439.4h0M425.8 462.0h0M435.2 447.4h0M442.8 453.0h0M432.8 442.3h0M433.6 458.4h0M432.4 448.3h0M430.7 453.9h0M441.2 456.4h0M430.2 450.9h0M429.1 463.3h0M441.4 439.5h0M430.5 444.5h0M437.2 451.4h0M431.6 446.5h0M426.4 451.1h0M430.6 465.4h0M430.3 444.7h0M425.5 449.5h0M437.8 442.9h0M425.9 440.4h0M433.0 431.3h0M437.4 451.2h0M434.7 458.9h0M426.5 447.5h0M436.6 457.3h0M427.4 436.2h0M441.7 445.7h0M426.2 446.0h0M431.7 453.3h0M429.1 447.6h0M426.8 451.7h0M427.0 459.5h0M430.2 438.0h0M429.8 446.2h0M436.7 450.5h0M430.0 441.6h0M439.9 450.2h0M427.0 432.5h0M433.9 438.7h0M431.2 445.0h0M432.1 432.0h0M426.4 465.1h0M432.8 462.7h0M435.7 457.5h0M432.7 454.1h0M427.7 454.7h0M438.3 444.9h0M425.7 445.2h0M436.6 430.0h0M427.2 454.8h0M432.4 445.5h0M444.5 430.6h0M433.5 440.1h0M430.1 451.2h0M435.1 433.5h0M425.8 442.7h0M431.3 428.8h0M426.6 442.9h0M436.0 446.3h0M444.0 426.8h0M430.6 440.4h0M426.4 450.5h0M436.8 443.8h0M427.2 459.2h0M426.4 454.1h0M433.1 456.5h0M437.6 436.6h0M426.7 439.0h0M435.8 449.6h0M437.6 451.2h0M438.0 442.4h0M430.2 445.0h0M436.2 438.7h0M426.2 442.8h0M430.2 450.2h0M446.7 458.9h0M427.6 451.6h0M436.7 454.3h0M432.6 447.5h0M429.0 451.2h0M433.0 455.1h0M440.3 439.4h0M438.8 455.1h0M431.8 452.0h0M428.7 455.4h0M426.0 450.7h0M432.2 441.3h0M432.1 443.3h0M434.7 447.2h0M434.7 425.9h0M428.7 440.0h0M430.2 441.8h0M435.2 442.3h0M436.0 438.6h0M432.7 437.9h0M439.8 444.5h0M427.2 441.5h0M428.9 457.7h0M437.4 446.7h0M430.4 446.1h0M428.9 453.7h0M432.4 446.0h0M432.2 446.5h0M428.6 456.5h0M434.7 454.8h0M434.2 445.0h0M431.5 435.9h0M454.4 441.7h0M435.4 451.4h0M428.5 433.2h0M427.8 444.2h0M439.2 446.4h0M434.3 434.3h0M432.1 456.8h0M425.6 444.8h0M435.2 434.1h0M425.5 438.5h0M430.3 450.3h0M426.5 458.2h0M430.2 449.3h0M428.8 448.4h0M435.2 445.3h0M430.1 460.2h0M427.5 457.5h0M431.6 433.7h0M425.6 447.1h0M429.6 451.7h0M426.2 445.3h0M442.8 450.6h0M431.7 452.4h0M430.3 439.5h0M428.4 457.6h0M431.2 448.2h0M428.8 455.8h0M433.6 449.3h0M430.8 446.2h0M438.1 458.1h0M440.0 450.1h0M434.8 460.0h0M436.7 452.0h0M434.4 465.0h0M431.8 440.5h0M430.7 447.7h0M430.3 440.7h0M427.9 438.0h0M437.2 448.6h0M439.2 434.8h0M431.2 446.2h0M433.5 457.7h0M427.2 451.4h0M439.7 442.6h0M448.7 444.9h0M430.4 452.9h0M431.0 459.9h0M448.4 444.9h0M430.6 448.0h0M440.7 451.0h0M430.8 445.4h0M433.3 449.9h0M439.6 449.2h0M446.5 457.8h0M430.3 442.1h0M432.5 447.6h0M430.3 449.8h0M431.7 441.0h0M430.7 444.2h0M426.0 446.7h0M446.3 435.0h0M434.1 442.9h0M431.7 437.6h0M428.6 442.7h0M428.3 441.3h0M435.3 442.9h0M432.1 452.7h0M427.6 457.1h0M428.2 453.7h0M432.1 440.3h0M435.8 449.6h0M434.4 436.5h0M429.1 451.5h0M428.6 452.9h0M427.3 444.1h0M436.6 447.2h0M432.0 453.6h0M432.6 452.9h0M428.6 442.3h0M438.3 440.9h0M428.3 433.1h0M439.0 444.0h0M433.1 442.0h0M456.8 446.8h0M440.2 451.4h0M434.4 435.3h0M430.8 440.6h0M435.7 444.0h0M438.8 433.7h0M430.9 445.2h0M428.9 442.7h0M425.6 449.6h0M440.2 452.2h0M437.7 452.4h0M444.6 444.6h0M426.6 448.7h0M437.7 448.4h0M426.9 455.3h0M438.0 431.7h0M435.7 444.7h0M428.6 440.5h0M432.2 447.6h0M426.9 455.2h0M435.8 448.5h0M430.1 447.8h0M425.5 441.0h0M429.1 449.3h0M425.6 448.6h0M433.1 438.5h0M427.3 451.9h0M440.3 442.9h0M429.3 429.4h0M427.4 445.1h0M441.1 450.8h0M444.5 450.3h0M426.8 447.7h0M429.2 446.3h0M443.0 452.0h0M431.9 451.3h0M433.9 431.7h0M432.8 440.7h0M443.5 447.4h0M426.4 446.0h0M437.0 453.4h0M450.3 454.8h0M441.6 447.8h0M426.9 443.5h0M425.7 460.7h0M428.0 439.7h0M433.9 445.8h0M425.8 463.2h0M427.8 451.8h0M425.8 451.6h0M439.8 446.7h0M433.9 456.6h0M434.1 470.6h0M431.6 449.4h0M434.2 444.9h0M426.5 456.3h0M434.4 462.4h0M439.3 449.8h0M426.7 440.1h0M431.2 449.7h0M435.3 440.4h0M440.4 454.7h0M440.7 445.2h0M428.9 451.1h0M430.3 447.5h0M441.6 453.6h0M431.4 430.3h0M426.5 449.6h0M429.1 448.4h0M442.2 449.2h0M437.7 435.0h0M454.5 458.0h0M428.6 441.5h0M443.2 450.7h0M430.8 442.6h0M426.5 445.2h0M430.8 443.2h0M426.4 433.6h0M436.1 441.6h0M425.5 457.6h0M435.4 437.6h0M430.9 447.9h0M435.8 432.5h0M435.3 455.8h0M446.1 435.6h0M436.6 437.4h0M428.4 445.6h0M426.3 451.3h0M427.0 436.2h0M436.7 446.1h0M428.9 451.3h0M437.4 447.0h0M435.3 440.6h0M446.1 450.6h0M428.7 456.1h0M436.0 465.9h0M439.3 457.5h0M426.1 433.0h0M426.2 457.6h0M426.6 455.5h0M427.9 449.5h0M426.5 452.7h0M438.0 456.2h0M429.9 444.9h0M440.9 436.9h0M430.6 444.9h0M428.7 452.5h0M427.9 442.4h0M445.1 441.7h0M430.9 436.6h0M434.8 451.5h0M434.0 438.2h0M430.5 445.3h0M428.6 441.1h0M429.3 457.8h0M433.2 455.4h0M432.2 466.1h0M426.9 441.3h0M437.9 439.0h0"/>
<path stroke="#6a6a6a" stroke-width="1.1" stroke-linecap="round" fill="none" d="M465.9 431.6h0M453.2 438.5h0M466.5 417.8h0M437.0 447.3h0M461.2 433.2h0M484.5 433.8h0M438.0 423.3h0M458.8 424.2h0M471.9 434.7h0M480.8 405.1h0M474.5 441.3h0M457.6 425.2h0M478.6 424.8h0M477.9 431.4h0M458.8 446.3h0M463.0 432.9h0M453.2 439.9h0M459.1 421.0h0M476.0 426.2h0M450.5 438.1h0M474.1 421.8h0M465.7 409.9h0M465.9 425.4h0M456.2 428.0h0M469.8 429.2h0M460.8 436.7h0M460.3 436.1h0M446.2 427.5h0M462.4 435.5h0M458.3 430.0h0M470.8 432.0h0M463.4 423.4h0M461.3 436.3h0M456.8 428.4h0M456.0 440.9h0M454.8 419.8h0M469.0 440.2h0M447.4 421.7h0M447.2 434.6h0M464.6 422.2h0M476.3 423.8h0M465.2 436.9h0M460.1 418.1h0M483.1 438.6h0M465.1 448.1h0M456.2 436.9h0M463.6 418.8h0M472.0 436.4h0M458.0 430.5h0M469.9 432.7h0M458.4 431.2h0M463.2 439.9h0M464.9 445.0h0M437.0 434.1h0M474.1 442.9h0M467.5 427.6h0M466.0 450.6h0M463.4 423.9h0M459.1 422.8h0M475.0 428.6h0"/>
<path stroke="#c8141e" stroke-width="1.24" stroke-linecap="round" fill="none" d="M450.5 461.1h0M452.4 456.3h0M444.2 457.4h0M446.0 456.3h0M469.9 461.4h0M438.3 463.0h0M426.2 455.9h0M439.5 461.4h0M447.3 457.5h0M444.2 460.2h0M440.8 463.9h0M433.0 456.8h0M441.3 457.0h0M442.1 455.8h0M469.7 464.1h0M440.7 461.3h0M429.6 456.3h0M436.7 458.1h0M439.1 460.3h0M441.2 461.7h0M443.4 458.7h0M443.1 461.9h0M430.4 459.5h0M438.6 459.2h0M444.6 457.0h0M450.7 459.5h0M444.8 460.8h0M427.0 454.3h0M449.2 460.2h0M458.7 462.1h0M438.9 461.1h0M451.1 458.1h0M453.4 455.8h0M442.1 456.2h0M437.3 457.7h0M454.7 455.8h0M451.2 459.0h0M442.0 457.4h0M440.3 457.9h0M444.4 462.0h0M453.7 459.3h0M443.8 460.6h0M429.2 454.2h0M435.4 460.3h0M444.0 456.6h0M446.4 463.1h0M435.9 454.8h0M450.5 456.7h0M435.2 461.0h0M452.9 464.3h0M460.8 454.8h0M451.3 458.2h0M443.1 456.8h0M448.4 463.1h0M458.0 459.6h0M432.1 461.3h0M430.6 457.2h0M436.8 455.9h0M430.4 460.3h0M440.7 457.7h0M437.5 461.0h0M440.0 458.2h0M453.4 462.4h0M445.0 458.5h0M433.9 458.9h0M438.4 461.5h0M431.2 459.4h0M451.5 462.6h0M428.1 457.3h0M435.7 456.4h0M458.5 461.3h0M436.9 460.2h0M442.0 457.3h0M445.8 455.9h0M442.5 458.7h0M451.2 458.1h0M442.3 455.8h0M447.0 456.4h0M430.5 460.2h0M440.9 461.7h0M437.0 462.8h0M440.5 456.6h0M425.7 455.8h0M433.5 460.2h0M445.7 457.8h0M433.4 460.7h0M446.3 461.1h0M457.2 457.6h0M443.4 458.3h0M441.5 454.4h0M447.3 454.5h0M430.7 460.5h0M435.0 464.1h0M428.7 454.1h0M431.3 454.7h0M459.2 457.2h0M432.2 460.4h0M440.6 453.5h0M436.9 458.5h0M436.0 462.1h0M437.5 452.4h0M438.3 455.4h0M444.4 460.3h0M437.4 461.4h0M445.1 456.3h0M439.0 460.8h0M437.5 460.9h0M438.6 454.8h0M459.2 458.2h0M427.8 456.9h0M439.2 457.6h0M448.3 459.0h0M446.7 455.5h0M430.2 453.4h0M429.0 454.7h0M440.2 454.9h0M453.4 457.9h0M448.8 460.9h0M440.1 457.0h0M437.1 456.5h0M438.5 457.0h0M439.1 460.4h0M425.8 458.0h0M425.9 458.5h0M440.0 456.6h0M461.2 458.3h0M443.3 457.4h0M429.0 458.5h0M440.0 461.6h0M430.1 459.6h0M443.3 459.1h0M433.0 453.8h0M432.4 457.8h0M426.7 455.9h0M445.4 461.1h0M444.4 459.3h0M445.1 459.4h0M448.1 457.9h0M439.5 462.0h0M453.8 453.0h0M430.0 460.3h0M449.0 457.3h0M436.6 455.6h0M435.8 456.4h0M433.8 458.2h0M447.1 459.1h0M443.3 461.3h0M452.9 456.5h0M431.5 456.3h0M443.5 461.1h0M431.1 461.3h0M447.0 455.6h0M456.5 456.4h0M431.3 459.2h0M453.2 457.5h0M430.7 460.1h0M457.4 456.3h0M443.2 456.5h0M447.5 466.5h0M430.0 461.3h0M458.8 462.7h0M440.6 459.4h0M436.8 456.6h0"/>
<path stroke="#6a6a6a" stroke-width="1.1" stroke-linecap="round" fill="none" d="M481.9 457.0h0M485.0 456.9h0M470.1 455.4h0M469.3 459.5h0M476.6 456.8h0M470.9 457.4h0M458.5 452.4h0M477.6 454.5h0M478.7 454.3h0M456.2 458.8h0M487.3 455.3h0M461.7 455.2h0M460.7 455.0h0M463.5 460.2h0M471.2 454.1h0M470.6 453.4h0M456.5 456.4h0M472.3 455.5h0M475.0 459.9h0M465.1 459.2h0M450.9 456.7h0M461.2 455.4h0M465.0 455.9h0M477.6 459.9h0M466.9 457.1h0M475.0 457.8h0M496.1 448.7h0M471.2 452.4h0M469.4 455.3h0M479.1 457.7h0M482.2 457.8h0M483.1 456.1h0M471.6 450.6h0M460.1 456.1h0M454.4 453.4h0M463.5 449.3h0M468.1 453.0h0M460.4 454.5h0M457.9 456.3h0M467.9 458.0h0M466.9 456.3h0M465.7 455.7h0M486.9 454.2h0M479.2 455.7h0M459.3 452.4h0M479.0 457.9h0M469.6 455.8h0M463.7 458.9h0M465.6 457.5h0M494.6 454.7h0M469.7 455.5h0M462.8 455.7h0M469.2 455.9h0M477.3 448.2h0M471.9 453.0h0M468.8 461.6h0M462.3 456.1h0M464.7 460.1h0M458.4 454.3h0M470.8 451.3h0"/>
<path stroke="#c8141e" stroke-width="1.4" stroke-linecap="round" fill="none" d="M475.9 457.0h0M475.6 459.0h0M473.1 457.0h0M484.9 452.8h0M486.3 456.2h0M473.7 463.9h0M489.5 457.5h0M483.3 460.6h0M470.8 457.3h0M484.0 456.7h0M480.1 457.5h0M478.0 456.9h0M468.3 459.7h0M480.5 456.3h0M473.3 452.6h0M488.5 459.7h0M471.6 458.8h0M468.9 456.4h0M480.5 457.1h0M470.8 459.4h0M486.7 458.4h0M472.4 454.9h0M482.2 461.0h0M471.9 464.1h0M474.8 457.5h0M478.7 454.9h0M473.7 460.2h0M482.0 461.1h0M473.7 455.1h0M486.4 453.5h0M483.2 453.9h0M468.3 456.2h0M489.9 454.6h0M479.9 456.2h0M473.0 456.2h0M479.7 453.1h0M478.7 458.2h0M482.8 460.9h0M483.1 452.0h0M485.1 456.6h0M470.4 456.1h0M479.6 455.2h0M474.3 457.4h0M468.6 454.5h0M473.2 459.3h0M471.6 456.3h0M480.2 454.5h0M476.1 458.2h0M480.1 457.4h0M477.4 460.8h0M478.7 457.5h0M480.8 456.1h0M473.1 462.1h0M477.0 457.7h0M476.9 458.1h0M474.8 460.9h0M471.9 455.7h0M479.6 456.9h0M481.7 455.1h0M489.0 462.2h0M479.2 454.9h0M479.5 454.2h0M471.4 454.1h0M477.6 461.8h0M485.5 459.9h0M489.9 455.3h0M481.0 455.2h0M488.0 463.1h0M488.2 455.5h0M490.8 457.2h0M482.7 455.3h0M474.6 463.6h0M479.3 455.3h0M485.5 453.4h0M474.9 457.6h0M478.0 457.9h0M473.2 456.3h0M474.8 455.2h0M469.6 452.3h0M485.1 454.8h0M474.1 462.0h0M478.8 452.8h0M481.2 460.5h0M476.3 463.2h0M471.6 460.7h0M474.4 458.2h0M471.7 460.6h0M478.7 460.6h0M474.3 453.8h0M484.7 458.8h0M475.8 454.7h0M481.1 451.9h0M472.4 459.9h0M467.2 455.3h0M475.9 458.0h0M483.6 454.0h0M483.8 460.0h0M485.1 458.9h0M475.4 456.5h0M475.7 454.9h0M478.6 455.4h0M475.8 457.7h0M481.1 455.6h0M482.9 454.6h0M483.5 458.8h0M473.1 458.2h0M486.7 460.0h0M466.4 459.6h0M475.8 454.2h0M474.5 457.6h0M477.5 455.0h0M476.1 453.7h0M484.5 457.6h0M473.1 456.6h0M482.1 458.4h0M470.9 456.2h0M477.5 459.1h0M479.9 456.9h0M483.5 458.0h0M470.7 460.1h0M464.6 461.9h0M487.9 456.4h0M472.2 452.1h0M476.0 453.3h0M476.7 460.6h0M486.1 461.9h0M482.1 459.6h0M485.0 461.3h0M485.7 456.5h0M480.8 456.0h0M476.5 460.8h0M485.8 459.4h0M483.8 458.9h0M479.7 459.1h0M466.9 457.4h0M474.3 453.2h0M480.5 460.4h0M475.0 458.2h0M483.5 455.6h0M493.8 456.2h0M478.5 459.7h0M480.1 455.8h0M483.1 454.6h0M488.6 458.5h0M465.2 459.7h0M475.0 459.9h0M486.5 459.7h0M477.7 458.3h0M467.6 457.0h0M481.1 452.6h0M470.0 457.2h0M483.4 455.9h0M483.8 461.8h0M475.7 456.2h0M470.9 458.4h0M481.0 459.6h0M475.8 454.6h0M476.2 454.5h0M474.4 460.8h0M475.0 460.7h0M472.1 453.2h0M483.0 457.7h0M484.8 461.0h0M472.8 455.5h0M470.2 457.6h0M482.5 457.8h0M485.7 456.6h0M481.3 456.1h0M484.9 450.6h0M482.8 454.5h0M478.4 456.5h0M476.4 458.0h0M473.4 462.1h0M477.4 463.8h0M467.4 461.0h0M486.8 458.0h0M471.2 454.6h0M479.6 457.0h0M480.2 460.3h0M477.4 457.1h0M477.7 458.1h0M473.2 460.8h0M475.5 455.1h0M482.5 455.7h0M482.1 461.4h0M469.9 459.0h0M477.5 460.0h0M467.4 458.2h0M477.4 454.9h0M478.3 461.0h0M469.8 456.5h0M486.5 458.9h0M469.7 459.1h0M485.2 458.8h0M467.9 454.6h0M482.2 458.9h0M466.4 454.2h0M474.8 458.4h0M470.0 456.5h0M479.6 461.5h0M472.9 456.0h0M476.5 457.2h0M479.1 457.1h0M471.7 452.6h0M474.1 456.9h0M479.2 457.4h0M472.0 455.5h0M480.0 457.1h0M467.0 458.2h0M489.9 458.5h0M484.3 458.9h0M468.8 460.2h0M472.8 460.5h0M475.5 456.8h0M481.0 458.4h0M482.1 457.4h0M484.0 456.3h0M484.6 456.2h0M470.9 454.7h0M478.6 458.0h0"/>
<path stroke="#555" stroke-width="1.1" stroke-linecap="round" fill="none" d="M449.1 451.8h0M435.4 455.1h0M434.8 455.7h0M430.4 454.8h0M426.5 452.6h0M428.6 461.6h0M441.3 453.0h0M455.4 454.7h0M447.5 456.0h0M439.9 448.6h0M433.5 462.8h0M448.4 460.9h0M436.1 454.8h0M458.8 459.5h0M438.1 455.3h0M444.0 458.2h0M431.2 454.6h0M450.3 448.9h0M444.5 452.6h0M444.5 452.7h0M456.2 452.2h0M431.0 447.0h0M432.7 456.4h0M436.2 451.7h0M435.9 461.5h0M444.5 454.1h0M450.3 456.4h0M432.4 454.1h0M451.9 451.7h0M434.3 455.4h0M430.0 451.2h0M447.0 450.6h0M448.2 447.5h0M446.5 455.6h0M429.8 457.3h0M453.4 454.7h0M443.8 453.4h0"/>
<line x1="451.7" y1="392.5" x2="451.7" y2="478.5" stroke="#d4d4d4" stroke-width="0.8"/>
<line x1="451.7" y1="445.1" x2="511" y2="445.1" stroke="#d4d4d4" stroke-width="0.8"/>
<line x1="424.5" y1="392.3" x2="424.5" y2="479.5" stroke="#111" stroke-width="1"/>
<line x1="424" y1="479" x2="511.3" y2="479" stroke="#111" stroke-width="1.1"/>
<line x1="421.7" y1="394.9" x2="424.5" y2="394.9" stroke="#111" stroke-width="0.9"/>
<text x="417.9" y="397.1" font-size="6.4" fill="#1a1a1a" text-anchor="end">10<tspan dy="-2.4" font-size="3.97">5</tspan></text>
<line x1="421.7" y1="421.9" x2="424.5" y2="421.9" stroke="#111" stroke-width="0.9"/>
<text x="417.9" y="424.1" font-size="6.4" fill="#1a1a1a" text-anchor="end">10<tspan dy="-2.4" font-size="3.97">4</tspan></text>
<line x1="421.7" y1="448.9" x2="424.5" y2="448.9" stroke="#111" stroke-width="0.9"/>
<text x="417.9" y="451.1" font-size="6.4" fill="#1a1a1a" text-anchor="end">10<tspan dy="-2.4" font-size="3.97">3</tspan></text>
<line x1="421.7" y1="462" x2="424.5" y2="462" stroke="#111" stroke-width="0.9"/>
<text x="417.7" y="464.2" font-size="6.4" fill="#1a1a1a" text-anchor="end">0</text>
<line x1="421.7" y1="474.9" x2="424.5" y2="474.9" stroke="#111" stroke-width="0.9"/>
<text x="417.9" y="477.1" font-size="6.4" fill="#1a1a1a" text-anchor="end">−10<tspan dy="-2.4" font-size="3.97">3</tspan></text>
<line x1="428.7" y1="479" x2="428.7" y2="482" stroke="#111" stroke-width="0.9"/>
<text x="429.6" y="490.6" font-size="6.4" fill="#1a1a1a" text-anchor="middle">−10<tspan dy="-2.4" font-size="3.97">2</tspan></text>
<line x1="438.7" y1="479" x2="438.7" y2="482" stroke="#111" stroke-width="0.9"/>
<text x="438.7" y="490.6" font-size="6.4" fill="#1a1a1a" text-anchor="middle">0</text>
<line x1="447.6" y1="479" x2="447.6" y2="482" stroke="#111" stroke-width="0.9"/>
<text x="448.5" y="490.6" font-size="6.4" fill="#1a1a1a" text-anchor="middle">10<tspan dy="-2.4" font-size="3.97">2</tspan></text>
<line x1="468.6" y1="479" x2="468.6" y2="482" stroke="#111" stroke-width="0.9"/>
<text x="469.5" y="490.6" font-size="6.4" fill="#1a1a1a" text-anchor="middle">10<tspan dy="-2.4" font-size="3.97">3</tspan></text>
<line x1="488.8" y1="479" x2="488.8" y2="482" stroke="#111" stroke-width="0.9"/>
<text x="489.7" y="490.6" font-size="6.4" fill="#1a1a1a" text-anchor="middle">10<tspan dy="-2.4" font-size="3.97">4</tspan></text>
<line x1="509.3" y1="479" x2="509.3" y2="482" stroke="#111" stroke-width="0.9"/>
<text x="510.2" y="490.6" font-size="6.4" fill="#1a1a1a" text-anchor="middle">10<tspan dy="-2.4" font-size="3.97">5</tspan></text>
<text x="468.7" y="502.3" font-size="8" fill="#1a1a1a" text-anchor="middle" textLength="48.9" lengthAdjust="spacingAndGlyphs">CD45RA - AF700</text>
<text x="400" y="435" font-size="8" fill="#1a1a1a" text-anchor="middle" textLength="40.7" lengthAdjust="spacingAndGlyphs" transform="rotate(-90 400 435)">CCR7 - BV650</text>
<text x="432.6" y="396.3" font-size="4.7" fill="#c0392b" text-anchor="middle">0</text>
<text x="431.8" y="401.3" font-size="4.7" fill="#555" text-anchor="middle">23.7</text>
<text x="437.8" y="400.8" font-size="8.8" fill="#000">T</text>
<text x="442.2" y="402.3" font-size="5" fill="#111" textLength="7" lengthAdjust="spacingAndGlyphs">CM</text>
<text x="477.2" y="396.1" font-size="4.7" fill="#c0392b" text-anchor="middle">1.6</text>
<text x="477" y="401.1" font-size="4.7" fill="#555" text-anchor="middle">12.8</text>
<text x="483.4" y="400" font-size="8.8" fill="#000">T</text>
<text x="488.6" y="401.7" font-size="5" fill="#111" textLength="13.2" lengthAdjust="spacingAndGlyphs">naive</text>
<text x="430.2" y="470.3" font-size="4.7" fill="#c0392b" text-anchor="middle">13.0</text>
<text x="430.2" y="474.5" font-size="4.7" fill="#555" text-anchor="middle">37.7</text>
<text x="438.6" y="473.6" font-size="8.8" fill="#000">T</text>
<text x="442.8" y="475.4" font-size="5" fill="#111" textLength="8.8" lengthAdjust="spacingAndGlyphs">EM</text>
<text x="477.2" y="470.3" font-size="4.7" fill="#c0392b" text-anchor="middle">54.9</text>
<text x="477.2" y="474.5" font-size="4.7" fill="#555" text-anchor="middle">25.8</text>
<text x="483.6" y="473.6" font-size="8.8" fill="#000">T</text>
<text x="488.2" y="475.4" font-size="5" fill="#111" textLength="16.3" lengthAdjust="spacingAndGlyphs">EMRA</text>
<circle cx="165.4" cy="512.8" r="2.8" fill="#b8101c"/>
<text x="171.7" y="515" font-size="6.4" fill="#111" font-style="italic" textLength="73.2" lengthAdjust="spacingAndGlyphs">Clonally expanded T cells</text>
<circle cx="255" cy="512.8" r="2.8" fill="#6e6e6e"/>
<text x="261.8" y="515" font-size="6.4" fill="#111" font-style="italic" textLength="63.5" lengthAdjust="spacingAndGlyphs">Non-expanded T cells</text>
<text x="7.4" y="538" font-size="10.6" fill="#111" font-weight="bold">F</text>
<line x1="39.5" y1="538.3" x2="39.5" y2="664.3" stroke="#111" stroke-width="1"/>
<line x1="39" y1="663.8" x2="226.8" y2="663.8" stroke="#111" stroke-width="1.1"/>
<line x1="36.7" y1="658" x2="39.5" y2="658" stroke="#111" stroke-width="0.9"/>
<text x="34" y="660.3" font-size="6.6" fill="#1a1a1a" text-anchor="end">0</text>
<line x1="36.7" y1="632" x2="39.5" y2="632" stroke="#111" stroke-width="0.9"/>
<text x="34" y="634.3" font-size="6.6" fill="#1a1a1a" text-anchor="end">25</text>
<line x1="36.7" y1="606" x2="39.5" y2="606" stroke="#111" stroke-width="0.9"/>
<text x="34" y="608.3" font-size="6.6" fill="#1a1a1a" text-anchor="end">50</text>
<line x1="36.7" y1="580" x2="39.5" y2="580" stroke="#111" stroke-width="0.9"/>
<text x="34" y="582.3" font-size="6.6" fill="#1a1a1a" text-anchor="end">75</text>
<line x1="36.7" y1="554" x2="39.5" y2="554" stroke="#111" stroke-width="0.9"/>
<text x="34" y="556.3" font-size="6.6" fill="#1a1a1a" text-anchor="end">100</text>
<text x="17.4" y="601" font-size="7.6" fill="#1a1a1a" text-anchor="middle" textLength="93.2" lengthAdjust="spacingAndGlyphs" transform="rotate(-90 17.4 601)">Expression on CD8<tspan dy="-2" font-size="4.4">+</tspan><tspan dy="2"> clones (%)</tspan></text>
<line x1="48.7" y1="554" x2="48.7" y2="632" stroke="#222" stroke-width="0.8"/>
<rect x="45.8" y="569.6" width="5.8" height="34.32" fill="#c0121c"/>
<line x1="45.8" y1="587.28" x2="51.6" y2="587.28" stroke="#222" stroke-width="0.8"/>
<path stroke="#111" stroke-width="3.3" stroke-linecap="round" fill="none" d="M48.5 577.9h0M48.8 600.6h0M49.1 571.9h0M48.5 573.6h0M48.4 576.0h0M48.9 594.9h0M49.1 585.8h0M48.9 558.0h0M48.8 579.9h0M48.6 555.7h0M48.8 622.8h0M48.9 622.2h0M48.6 632.0h0M48.3 554.0h0"/>
<line x1="55.4" y1="565.44" x2="55.4" y2="607.04" stroke="#222" stroke-width="0.8"/>
<rect x="52.7" y="571.68" width="5.4" height="10.4" fill="#7c7c7c"/>
<line x1="52.7" y1="575.84" x2="58.1" y2="575.84" stroke="#222" stroke-width="0.8"/>
<path stroke="#111" stroke-width="3.3" stroke-linecap="round" fill="none" d="M55.7 581.9h0M55.1 575.5h0M55.1 573.4h0M55.3 579.5h0M55.7 573.4h0M55.1 577.8h0M55.4 576.3h0M55.8 580.0h0M55.5 605.9h0M55.3 584.8h0M55.2 594.2h0M55.0 566.0h0M55.7 573.5h0M55.1 566.2h0M55.4 607.0h0M55.6 565.4h0"/>
<line x1="51.8" y1="663.9" x2="51.8" y2="666.6" stroke="#222" stroke-width="0.8"/>
<text x="56.8" y="673.4" font-size="6.6" fill="#1a1a1a" text-anchor="end" transform="rotate(-45 56.8 673.4)">BTLA</text>
<line x1="68.9" y1="637.2" x2="68.9" y2="658" stroke="#222" stroke-width="0.8"/>
<rect x="66" y="643.44" width="5.8" height="9.36" fill="#c0121c"/>
<line x1="66" y1="648.64" x2="71.8" y2="648.64" stroke="#222" stroke-width="0.8"/>
<path stroke="#111" stroke-width="3.3" stroke-linecap="round" fill="none" d="M69.1 647.6h0M68.6 652.6h0M69.0 650.0h0M69.3 649.1h0M69.1 650.0h0M68.8 648.2h0M68.7 644.7h0M68.7 647.9h0M69.2 639.5h0M68.7 657.5h0M68.9 657.5h0M69.0 648.6h0M68.8 658.0h0M68.7 637.2h0"/>
<line x1="75.6" y1="582.08" x2="75.6" y2="644.48" stroke="#222" stroke-width="0.8"/>
<rect x="72.9" y="598.72" width="5.4" height="29.12" fill="#7c7c7c"/>
<line x1="72.9" y1="616.4" x2="78.3" y2="616.4" stroke="#222" stroke-width="0.8"/>
<path stroke="#111" stroke-width="3.3" stroke-linecap="round" fill="none" d="M75.7 612.9h0M75.4 621.0h0M75.5 618.6h0M75.9 601.2h0M75.8 601.6h0M75.1 623.4h0M75.3 599.8h0M75.8 611.2h0M75.4 609.0h0M75.8 638.9h0M75.9 637.4h0M75.9 638.8h0M76.0 625.8h0M75.3 618.0h0M75.4 644.5h0M75.5 582.1h0"/>
<line x1="72" y1="663.9" x2="72" y2="666.6" stroke="#222" stroke-width="0.8"/>
<text x="77" y="673.4" font-size="6.6" fill="#1a1a1a" text-anchor="end" transform="rotate(-45 77 673.4)">CCR7</text>
<line x1="89.1" y1="554" x2="89.1" y2="635.12" stroke="#222" stroke-width="0.8"/>
<rect x="86.2" y="575.84" width="5.8" height="15.6" fill="#c0121c"/>
<line x1="86.2" y1="583.12" x2="92" y2="583.12" stroke="#222" stroke-width="0.8"/>
<path stroke="#111" stroke-width="3.3" stroke-linecap="round" fill="none" d="M88.8 579.4h0M89.2 578.9h0M88.8 582.7h0M89.0 587.6h0M89.1 577.3h0M88.8 578.3h0M89.7 591.1h0M88.8 628.6h0M89.0 585.2h0M89.5 567.8h0M89.3 582.0h0M88.5 614.3h0M89.2 635.1h0M89.4 554.0h0"/>
<line x1="95.8" y1="561.28" x2="95.8" y2="614.32" stroke="#222" stroke-width="0.8"/>
<rect x="93.1" y="578.96" width="5.4" height="17.68" fill="#7c7c7c"/>
<line x1="93.1" y1="587.28" x2="98.5" y2="587.28" stroke="#222" stroke-width="0.8"/>
<path stroke="#111" stroke-width="3.3" stroke-linecap="round" fill="none" d="M95.6 588.7h0M95.8 583.4h0M95.6 595.2h0M95.6 592.2h0M96.2 589.9h0M96.0 580.8h0M95.6 592.4h0M95.5 586.7h0M96.0 603.7h0M95.9 602.9h0M95.7 605.5h0M95.9 583.6h0M95.5 565.9h0M95.6 563.9h0M95.6 614.3h0M96.1 561.3h0"/>
<line x1="92.2" y1="663.9" x2="92.2" y2="666.6" stroke="#222" stroke-width="0.8"/>
<text x="97.2" y="673.4" font-size="6.6" fill="#1a1a1a" text-anchor="end" transform="rotate(-45 97.2 673.4)">CD45RA</text>
<line x1="109.5" y1="570.64" x2="109.5" y2="637.2" stroke="#222" stroke-width="0.8"/>
<rect x="106.6" y="594.56" width="5.8" height="20.8" fill="#c0121c"/>
<line x1="106.6" y1="606" x2="112.4" y2="606" stroke="#222" stroke-width="0.8"/>
<path stroke="#111" stroke-width="3.3" stroke-linecap="round" fill="none" d="M109.6 610.1h0M109.4 611.9h0M109.8 595.3h0M109.3 599.0h0M109.7 611.6h0M109.6 606.5h0M109.4 609.6h0M109.6 629.7h0M109.8 619.3h0M109.7 610.2h0M109.1 583.6h0M109.1 588.4h0M109.5 637.2h0M109.4 570.6h0"/>
<line x1="116.2" y1="623.68" x2="116.2" y2="652.8" stroke="#222" stroke-width="0.8"/>
<rect x="113.5" y="637.2" width="5.4" height="14.56" fill="#7c7c7c"/>
<line x1="113.5" y1="644.48" x2="118.9" y2="644.48" stroke="#222" stroke-width="0.8"/>
<path stroke="#111" stroke-width="3.3" stroke-linecap="round" fill="none" d="M115.9 645.5h0M116.4 651.3h0M116.3 637.4h0M116.5 641.4h0M116.3 640.0h0M116.6 640.9h0M116.0 644.2h0M116.1 641.2h0M116.4 630.1h0M116.3 632.2h0M115.8 628.3h0M116.0 629.8h0M116.4 652.6h0M116.2 635.0h0M116.0 652.8h0M116.1 623.7h0"/>
<line x1="112.6" y1="663.9" x2="112.6" y2="666.6" stroke="#222" stroke-width="0.8"/>
<text x="117.6" y="673.4" font-size="6.6" fill="#1a1a1a" text-anchor="end" transform="rotate(-45 117.6 673.4)">CD57</text>
<line x1="130.3" y1="554" x2="130.3" y2="641.36" stroke="#222" stroke-width="0.8"/>
<rect x="127.4" y="592.48" width="5.8" height="26" fill="#c0121c"/>
<line x1="127.4" y1="603.92" x2="133.2" y2="603.92" stroke="#222" stroke-width="0.8"/>
<path stroke="#111" stroke-width="3.3" stroke-linecap="round" fill="none" d="M130.2 605.3h0M130.3 595.2h0M130.2 611.3h0M130.4 614.3h0M130.4 592.6h0M130.2 599.3h0M130.5 617.5h0M130.7 608.0h0M130.4 555.6h0M130.6 630.3h0M130.5 610.2h0M130.3 581.1h0M130.3 641.4h0M130.7 554.0h0"/>
<line x1="137" y1="564.4" x2="137" y2="618.48" stroke="#222" stroke-width="0.8"/>
<rect x="134.3" y="572.72" width="5.4" height="21.84" fill="#7c7c7c"/>
<line x1="134.3" y1="578.96" x2="139.7" y2="578.96" stroke="#222" stroke-width="0.8"/>
<path stroke="#111" stroke-width="3.3" stroke-linecap="round" fill="none" d="M137.1 576.4h0M137.2 577.1h0M136.6 578.7h0M137.2 574.7h0M136.6 590.6h0M137.5 589.4h0M137.1 592.9h0M137.2 587.6h0M136.8 607.6h0M137.0 577.1h0M136.7 598.8h0M136.8 618.4h0M137.1 566.4h0M136.9 577.4h0M136.9 618.5h0M137.0 564.4h0"/>
<line x1="133.4" y1="663.9" x2="133.4" y2="666.6" stroke="#222" stroke-width="0.8"/>
<text x="138.4" y="673.4" font-size="6.6" fill="#1a1a1a" text-anchor="end" transform="rotate(-45 138.4 673.4)">CD28</text>
<line x1="150.7" y1="554" x2="150.7" y2="640.32" stroke="#222" stroke-width="0.8"/>
<rect x="147.8" y="568.56" width="5.8" height="42.64" fill="#c0121c"/>
<line x1="147.8" y1="589.36" x2="153.6" y2="589.36" stroke="#222" stroke-width="0.8"/>
<path stroke="#111" stroke-width="3.3" stroke-linecap="round" fill="none" d="M150.6 601.6h0M151.3 576.7h0M150.2 597.0h0M151.1 578.5h0M150.6 571.2h0M150.4 568.6h0M150.5 570.4h0M150.6 637.7h0M150.8 576.6h0M150.7 560.0h0M151.0 572.3h0M150.7 580.0h0M150.6 640.3h0M150.6 554.0h0"/>
<line x1="157.4" y1="578.96" x2="157.4" y2="634.08" stroke="#222" stroke-width="0.8"/>
<rect x="154.7" y="585.2" width="5.4" height="15.6" fill="#7c7c7c"/>
<line x1="154.7" y1="593.52" x2="160.1" y2="593.52" stroke="#222" stroke-width="0.8"/>
<path stroke="#111" stroke-width="3.3" stroke-linecap="round" fill="none" d="M157.5 594.4h0M157.4 594.5h0M157.8 596.5h0M157.3 589.3h0M157.3 600.4h0M157.3 600.1h0M157.2 593.0h0M157.3 596.6h0M157.2 613.2h0M156.9 598.8h0M157.0 619.0h0M157.1 607.3h0M156.7 606.1h0M157.2 629.7h0M157.5 634.1h0M157.4 579.0h0"/>
<line x1="153.8" y1="663.9" x2="153.8" y2="666.6" stroke="#222" stroke-width="0.8"/>
<text x="158.8" y="673.4" font-size="6.6" fill="#1a1a1a" text-anchor="end" transform="rotate(-45 158.8 673.4)">CD38</text>
<line x1="170.9" y1="606" x2="170.9" y2="658" stroke="#222" stroke-width="0.8"/>
<rect x="168" y="623.68" width="5.8" height="31.2" fill="#c0121c"/>
<line x1="168" y1="643.44" x2="173.8" y2="643.44" stroke="#222" stroke-width="0.8"/>
<path stroke="#111" stroke-width="3.3" stroke-linecap="round" fill="none" d="M170.8 648.3h0M170.8 648.2h0M170.9 649.2h0M170.4 633.8h0M171.0 642.4h0M170.5 643.1h0M171.5 654.0h0M170.9 656.6h0M171.0 607.1h0M171.0 611.8h0M170.5 612.5h0M171.3 633.4h0M170.8 658.0h0M171.2 606.0h0"/>
<line x1="177.6" y1="634.08" x2="177.6" y2="658" stroke="#222" stroke-width="0.8"/>
<rect x="174.9" y="645.52" width="5.4" height="6.24" fill="#7c7c7c"/>
<line x1="174.9" y1="648.64" x2="180.3" y2="648.64" stroke="#222" stroke-width="0.8"/>
<path stroke="#111" stroke-width="3.3" stroke-linecap="round" fill="none" d="M177.9 646.5h0M177.8 647.7h0M176.9 650.8h0M177.3 648.2h0M177.5 648.2h0M177.3 650.1h0M177.6 648.0h0M178.0 648.0h0M177.9 654.1h0M177.5 655.3h0M177.3 642.7h0M177.8 639.8h0M177.8 642.2h0M177.5 644.2h0M177.4 658.0h0M178.0 634.1h0"/>
<line x1="174" y1="663.9" x2="174" y2="666.6" stroke="#222" stroke-width="0.8"/>
<text x="179" y="673.4" font-size="6.6" fill="#1a1a1a" text-anchor="end" transform="rotate(-45 179 673.4)">PD-1</text>
<line x1="191.2" y1="634.08" x2="191.2" y2="658" stroke="#222" stroke-width="0.8"/>
<rect x="188.3" y="646.56" width="5.8" height="10.4" fill="#c0121c"/>
<line x1="188.3" y1="651.76" x2="194.1" y2="651.76" stroke="#222" stroke-width="0.8"/>
<path stroke="#111" stroke-width="3.3" stroke-linecap="round" fill="none" d="M191.0 655.9h0M191.3 654.9h0M191.0 654.4h0M190.9 650.7h0M191.1 649.3h0M191.2 651.3h0M191.0 653.7h0M191.0 635.7h0M191.2 655.6h0M191.0 650.6h0M191.4 651.0h0M191.4 651.7h0M191.2 658.0h0M191.5 634.1h0"/>
<line x1="197.9" y1="634.08" x2="197.9" y2="658" stroke="#222" stroke-width="0.8"/>
<rect x="195.2" y="649.68" width="5.4" height="5.2" fill="#7c7c7c"/>
<line x1="195.2" y1="652.8" x2="200.6" y2="652.8" stroke="#222" stroke-width="0.8"/>
<path stroke="#111" stroke-width="3.3" stroke-linecap="round" fill="none" d="M197.3 654.1h0M197.7 649.9h0M198.2 649.9h0M197.7 651.7h0M198.2 650.2h0M198.0 653.4h0M197.9 650.3h0M197.9 651.0h0M197.6 639.0h0M197.5 641.3h0M197.5 657.7h0M198.0 640.4h0M197.9 648.6h0M198.0 643.2h0M197.6 658.0h0M197.9 634.1h0"/>
<line x1="194.3" y1="663.9" x2="194.3" y2="666.6" stroke="#222" stroke-width="0.8"/>
<text x="199.3" y="673.4" font-size="6.6" fill="#1a1a1a" text-anchor="end" transform="rotate(-45 199.3 673.4)">CD39</text>
<line x1="211.4" y1="645.52" x2="211.4" y2="658" stroke="#222" stroke-width="0.8"/>
<rect x="208.5" y="651.76" width="5.8" height="6.24" fill="#c0121c"/>
<line x1="208.5" y1="654.88" x2="214.3" y2="654.88" stroke="#222" stroke-width="0.8"/>
<path stroke="#111" stroke-width="3.3" stroke-linecap="round" fill="none" d="M211.1 657.6h0M211.2 656.9h0M211.7 657.4h0M211.4 654.7h0M211.4 651.8h0M211.4 654.5h0M211.6 657.3h0M211.6 655.2h0M211.3 648.2h0M211.5 651.4h0M211.3 651.8h0M211.5 648.2h0M211.0 658.0h0M211.3 645.5h0"/>
<line x1="218.1" y1="641.36" x2="218.1" y2="658" stroke="#222" stroke-width="0.8"/>
<rect x="215.4" y="651.76" width="5.4" height="4.16" fill="#7c7c7c"/>
<line x1="215.4" y1="653.84" x2="220.8" y2="653.84" stroke="#222" stroke-width="0.8"/>
<path stroke="#111" stroke-width="3.3" stroke-linecap="round" fill="none" d="M218.4 654.3h0M217.8 655.3h0M217.9 655.4h0M218.1 653.8h0M217.8 651.8h0M218.1 653.2h0M218.2 652.7h0M218.3 653.0h0M218.1 646.4h0M218.1 657.2h0M218.0 651.1h0M218.1 646.1h0M218.1 657.5h0M218.2 657.9h0M218.3 658.0h0M218.3 641.4h0"/>
<line x1="214.5" y1="663.9" x2="214.5" y2="666.6" stroke="#222" stroke-width="0.8"/>
<text x="219.5" y="673.4" font-size="6.6" fill="#1a1a1a" text-anchor="end" transform="rotate(-45 219.5 673.4)">TIM-3</text>
<text x="72" y="545.6" font-size="6.4" fill="#1a1a1a" text-anchor="middle">***</text>
<text x="112.6" y="545.6" font-size="6.4" fill="#1a1a1a" text-anchor="middle">***</text>
<text x="133.4" y="545.6" font-size="6.4" fill="#1a1a1a" text-anchor="middle">*</text>
<line x1="265.5" y1="538.3" x2="265.5" y2="664.3" stroke="#111" stroke-width="1"/>
<line x1="265" y1="663.8" x2="363.7" y2="663.8" stroke="#111" stroke-width="1.1"/>
<line x1="262.7" y1="658" x2="265.5" y2="658" stroke="#111" stroke-width="0.9"/>
<text x="260.9" y="660.3" font-size="6.6" fill="#1a1a1a" text-anchor="end">0</text>
<line x1="262.7" y1="632" x2="265.5" y2="632" stroke="#111" stroke-width="0.9"/>
<text x="260.9" y="634.3" font-size="6.6" fill="#1a1a1a" text-anchor="end">25</text>
<line x1="262.7" y1="606" x2="265.5" y2="606" stroke="#111" stroke-width="0.9"/>
<text x="260.9" y="608.3" font-size="6.6" fill="#1a1a1a" text-anchor="end">50</text>
<line x1="262.7" y1="580" x2="265.5" y2="580" stroke="#111" stroke-width="0.9"/>
<text x="260.9" y="582.3" font-size="6.6" fill="#1a1a1a" text-anchor="end">75</text>
<line x1="262.7" y1="554" x2="265.5" y2="554" stroke="#111" stroke-width="0.9"/>
<text x="260.9" y="556.3" font-size="6.6" fill="#1a1a1a" text-anchor="end">100</text>
<text x="243.8" y="601" font-size="7.6" fill="#1a1a1a" text-anchor="middle" textLength="90.5" lengthAdjust="spacingAndGlyphs" transform="rotate(-90 243.8 601)">Phenotype of CD8<tspan dy="-2" font-size="4.4">+</tspan><tspan dy="2"> clones (%)</tspan></text>
<line x1="275.2" y1="637.2" x2="275.2" y2="658" stroke="#222" stroke-width="0.8"/>
<rect x="272.2" y="646.56" width="6" height="11.44" fill="#c0121c"/>
<line x1="272.2" y1="652.8" x2="278.2" y2="652.8" stroke="#222" stroke-width="0.8"/>
<path stroke="#111" stroke-width="3.3" stroke-linecap="round" fill="none" d="M275.1 657.0h0M275.6 653.6h0M275.0 649.4h0M275.1 656.0h0M275.5 655.7h0M274.7 654.4h0M275.0 657.6h0M274.8 643.7h0M274.9 641.6h0M275.3 654.8h0M275.2 655.7h0M275.1 644.5h0M275.2 658.0h0M275.1 637.2h0"/>
<line x1="281.7" y1="584.16" x2="281.7" y2="652.8" stroke="#222" stroke-width="0.8"/>
<rect x="279" y="600.8" width="5.4" height="35.36" fill="#7c7c7c"/>
<line x1="279" y1="626.8" x2="284.4" y2="626.8" stroke="#222" stroke-width="0.8"/>
<path stroke="#111" stroke-width="3.3" stroke-linecap="round" fill="none" d="M281.7 603.8h0M281.8 601.9h0M281.5 616.1h0M281.7 616.7h0M281.6 600.9h0M281.9 633.9h0M282.0 622.4h0M281.9 605.2h0M281.9 593.0h0M281.6 604.6h0M281.6 619.0h0M281.7 620.0h0M281.6 652.8h0M281.8 584.2h0"/>
<line x1="278.4" y1="663.9" x2="278.4" y2="666.6" stroke="#222" stroke-width="0.8"/>
<text x="272.4" y="675.8" font-size="7.4" fill="#1a1a1a">T</text>
<text x="276.8" y="677.6" font-size="5.3" fill="#1a1a1a" textLength="8.4" lengthAdjust="spacingAndGlyphs">naive</text>
<line x1="297.2" y1="642.4" x2="297.2" y2="658" stroke="#222" stroke-width="0.8"/>
<rect x="294.2" y="650.72" width="6" height="7.28" fill="#c0121c"/>
<line x1="294.2" y1="654.88" x2="300.2" y2="654.88" stroke="#222" stroke-width="0.8"/>
<path stroke="#111" stroke-width="3.3" stroke-linecap="round" fill="none" d="M297.5 657.9h0M296.6 656.2h0M297.6 653.0h0M297.2 652.4h0M297.6 655.3h0M297.4 651.6h0M297.3 657.2h0M297.2 645.8h0M297.2 647.0h0M297.0 652.7h0M297.2 642.6h0M297.3 652.5h0M296.8 658.0h0M297.0 642.4h0"/>
<line x1="303.7" y1="644.48" x2="303.7" y2="658" stroke="#222" stroke-width="0.8"/>
<rect x="301" y="649.68" width="5.4" height="7.28" fill="#7c7c7c"/>
<line x1="301" y1="651.76" x2="306.4" y2="651.76" stroke="#222" stroke-width="0.8"/>
<path stroke="#111" stroke-width="3.3" stroke-linecap="round" fill="none" d="M303.1 655.1h0M303.3 652.3h0M303.5 653.0h0M303.8 655.7h0M303.7 654.4h0M303.7 651.0h0M303.6 654.5h0M303.4 647.6h0M303.9 650.1h0M303.9 647.6h0M303.4 654.9h0M303.6 646.2h0M303.8 658.0h0M303.4 644.5h0"/>
<line x1="300.4" y1="663.9" x2="300.4" y2="666.6" stroke="#222" stroke-width="0.8"/>
<text x="295.5" y="675.8" font-size="7.4" fill="#1a1a1a">T</text>
<text x="299.6" y="677.6" font-size="5.3" fill="#1a1a1a" textLength="5.8" lengthAdjust="spacingAndGlyphs">CM</text>
<line x1="319.3" y1="567.52" x2="319.3" y2="658" stroke="#222" stroke-width="0.8"/>
<rect x="316.3" y="602.88" width="6" height="32.24" fill="#c0121c"/>
<line x1="316.3" y1="621.6" x2="322.3" y2="621.6" stroke="#222" stroke-width="0.8"/>
<path stroke="#111" stroke-width="3.3" stroke-linecap="round" fill="none" d="M318.9 629.0h0M319.4 609.2h0M319.6 610.7h0M319.3 613.1h0M319.6 613.9h0M319.2 612.7h0M319.5 610.0h0M319.5 615.7h0M319.2 636.7h0M319.0 645.2h0M319.2 628.7h0M319.3 609.1h0M319.5 658.0h0M318.8 567.5h0"/>
<line x1="325.8" y1="604.96" x2="325.8" y2="652.8" stroke="#222" stroke-width="0.8"/>
<rect x="323.1" y="625.76" width="5.4" height="12.48" fill="#7c7c7c"/>
<line x1="323.1" y1="632" x2="328.5" y2="632" stroke="#222" stroke-width="0.8"/>
<path stroke="#111" stroke-width="3.3" stroke-linecap="round" fill="none" d="M326.2 626.1h0M326.0 627.6h0M325.7 631.6h0M325.5 637.4h0M325.6 636.4h0M325.9 635.4h0M325.9 636.6h0M325.9 634.4h0M325.4 619.9h0M325.7 651.5h0M325.8 642.4h0M325.7 609.3h0M325.6 652.8h0M325.8 605.0h0"/>
<line x1="322.5" y1="663.9" x2="322.5" y2="666.6" stroke="#222" stroke-width="0.8"/>
<text x="317" y="675.8" font-size="7.4" fill="#1a1a1a">T</text>
<text x="321" y="677.6" font-size="5.3" fill="#1a1a1a" textLength="5.6" lengthAdjust="spacingAndGlyphs">EM</text>
<line x1="339.6" y1="554" x2="339.6" y2="635.12" stroke="#222" stroke-width="0.8"/>
<rect x="336.6" y="575.84" width="6" height="24.96" fill="#c0121c"/>
<line x1="336.6" y1="587.28" x2="342.6" y2="587.28" stroke="#222" stroke-width="0.8"/>
<path stroke="#111" stroke-width="3.3" stroke-linecap="round" fill="none" d="M339.4 595.0h0M339.5 585.9h0M339.7 580.6h0M339.3 586.5h0M340.0 579.9h0M339.5 585.8h0M339.8 580.9h0M339.4 603.0h0M339.3 579.0h0M339.9 608.7h0M339.7 575.9h0M339.1 564.4h0M339.7 635.1h0M339.2 554.0h0"/>
<line x1="346.1" y1="593.52" x2="346.1" y2="643.44" stroke="#222" stroke-width="0.8"/>
<rect x="343.4" y="616.4" width="5.4" height="21.84" fill="#7c7c7c"/>
<line x1="343.4" y1="626.8" x2="348.8" y2="626.8" stroke="#222" stroke-width="0.8"/>
<path stroke="#111" stroke-width="3.3" stroke-linecap="round" fill="none" d="M346.2 631.8h0M346.3 627.6h0M346.1 628.8h0M346.0 635.2h0M346.1 630.8h0M346.1 630.5h0M345.9 619.6h0M346.2 608.6h0M345.9 636.8h0M345.7 636.0h0M346.2 629.7h0M346.6 613.4h0M346.4 643.4h0M346.1 593.5h0"/>
<line x1="342.8" y1="663.9" x2="342.8" y2="666.6" stroke="#222" stroke-width="0.8"/>
<text x="335.9" y="675.8" font-size="7.4" fill="#1a1a1a">T</text>
<text x="340" y="677.6" font-size="5.3" fill="#1a1a1a" textLength="10.4" lengthAdjust="spacingAndGlyphs">EMRA</text>
<text x="278.4" y="546.4" font-size="6.4" fill="#1a1a1a" text-anchor="middle">****</text>
<text x="342.8" y="546.4" font-size="6.4" fill="#1a1a1a" text-anchor="middle">**</text>
<line x1="394.5" y1="538.3" x2="394.5" y2="664.3" stroke="#111" stroke-width="1"/>
<line x1="394" y1="663.8" x2="512.8" y2="663.8" stroke="#111" stroke-width="1.1"/>
<line x1="391.7" y1="658" x2="394.5" y2="658" stroke="#111" stroke-width="0.9"/>
<text x="390.3" y="660.3" font-size="6.6" fill="#1a1a1a" text-anchor="end">0</text>
<line x1="391.7" y1="632" x2="394.5" y2="632" stroke="#111" stroke-width="0.9"/>
<text x="390.3" y="634.3" font-size="6.6" fill="#1a1a1a" text-anchor="end">25</text>
<line x1="391.7" y1="606" x2="394.5" y2="606" stroke="#111" stroke-width="0.9"/>
<text x="390.3" y="608.3" font-size="6.6" fill="#1a1a1a" text-anchor="end">50</text>
<line x1="391.7" y1="580" x2="394.5" y2="580" stroke="#111" stroke-width="0.9"/>
<text x="390.3" y="582.3" font-size="6.6" fill="#1a1a1a" text-anchor="end">75</text>
<line x1="391.7" y1="554" x2="394.5" y2="554" stroke="#111" stroke-width="0.9"/>
<text x="390.3" y="556.3" font-size="6.6" fill="#1a1a1a" text-anchor="end">100</text>
<text x="372.6" y="601" font-size="7.6" fill="#1a1a1a" text-anchor="middle" textLength="91.3" lengthAdjust="spacingAndGlyphs" transform="rotate(-90 372.6 601)">Expression in CD8<tspan dy="-2" font-size="4.4">+</tspan><tspan dy="2"> clones (%)</tspan></text>
<line x1="402.5" y1="568.56" x2="402.5" y2="658" stroke="#222" stroke-width="0.8"/>
<rect x="399.8" y="598.72" width="5.4" height="14.56" fill="#c0121c"/>
<line x1="399.8" y1="606" x2="405.2" y2="606" stroke="#222" stroke-width="0.8"/>
<path stroke="#111" stroke-width="3.3" stroke-linecap="round" fill="none" d="M402.7 603.0h0M402.3 609.3h0M402.0 599.1h0M402.1 603.2h0M402.3 610.8h0M402.4 608.5h0M402.5 611.6h0M402.6 623.3h0M403.0 655.7h0M402.3 595.3h0M402.8 570.9h0M402.5 575.1h0M402.6 658.0h0M402.4 568.6h0"/>
<line x1="408.5" y1="616.4" x2="408.5" y2="650.72" stroke="#222" stroke-width="0.8"/>
<rect x="406" y="633.04" width="5" height="8.32" fill="#7c7c7c"/>
<line x1="406" y1="638.24" x2="411" y2="638.24" stroke="#222" stroke-width="0.8"/>
<path stroke="#111" stroke-width="3.3" stroke-linecap="round" fill="none" d="M408.8 639.9h0M408.7 637.4h0M408.9 636.3h0M409.0 637.2h0M408.2 636.8h0M408.5 640.7h0M408.7 637.2h0M408.8 630.7h0M408.7 632.3h0M408.3 617.2h0M409.0 631.1h0M408.3 632.4h0M408.8 650.7h0M408.4 616.4h0"/>
<line x1="405.4" y1="663.9" x2="405.4" y2="666.6" stroke="#222" stroke-width="0.8"/>
<text x="406.8" y="676" font-size="6.8" fill="#1a1a1a" text-anchor="middle" font-style="italic" textLength="18.8" lengthAdjust="spacingAndGlyphs">TBX21</text>
<line x1="421.5" y1="632" x2="421.5" y2="658" stroke="#222" stroke-width="0.8"/>
<rect x="418.8" y="647.6" width="5.4" height="10.4" fill="#c0121c"/>
<line x1="418.8" y1="652.8" x2="424.2" y2="652.8" stroke="#222" stroke-width="0.8"/>
<path stroke="#111" stroke-width="3.3" stroke-linecap="round" fill="none" d="M421.6 656.6h0M421.7 652.1h0M421.8 651.1h0M421.4 653.1h0M421.3 650.0h0M421.4 647.7h0M421.5 652.7h0M421.4 637.5h0M421.6 632.5h0M421.2 633.3h0M421.5 655.6h0M421.6 640.4h0M421.3 658.0h0M421.7 632.0h0"/>
<line x1="427.5" y1="652.8" x2="427.5" y2="658" stroke="#222" stroke-width="0.8"/>
<rect x="425" y="652.8" width="5" height="5.2" fill="#7c7c7c"/>
<line x1="425" y1="655.92" x2="430" y2="655.92" stroke="#222" stroke-width="0.8"/>
<path stroke="#111" stroke-width="3.3" stroke-linecap="round" fill="none" d="M427.9 655.0h0M426.7 656.8h0M427.3 654.3h0M427.5 656.5h0M427.7 657.8h0M427.3 654.0h0M427.5 654.5h0M427.9 657.6h0M427.6 656.5h0M427.4 656.5h0M427.4 656.0h0M427.6 657.8h0M427.6 658.0h0M427.6 652.8h0"/>
<line x1="424.4" y1="663.9" x2="424.4" y2="666.6" stroke="#222" stroke-width="0.8"/>
<text x="425.8" y="676" font-size="6.8" fill="#1a1a1a" text-anchor="middle" font-style="italic" textLength="16.4" lengthAdjust="spacingAndGlyphs">IL12A</text>
<line x1="440.7" y1="629.92" x2="440.7" y2="658" stroke="#222" stroke-width="0.8"/>
<rect x="438" y="643.44" width="5.4" height="14.56" fill="#c0121c"/>
<line x1="438" y1="650.72" x2="443.4" y2="650.72" stroke="#222" stroke-width="0.8"/>
<path stroke="#111" stroke-width="3.3" stroke-linecap="round" fill="none" d="M440.7 654.0h0M440.6 651.2h0M441.1 650.8h0M440.4 651.9h0M440.9 655.3h0M440.8 644.4h0M441.0 644.7h0M440.9 645.9h0M440.4 648.2h0M440.3 637.9h0M440.1 638.4h0M440.6 634.6h0M440.8 658.0h0M440.7 629.9h0"/>
<line x1="446.7" y1="647.6" x2="446.7" y2="658" stroke="#222" stroke-width="0.8"/>
<rect x="444.2" y="650.72" width="5" height="7.28" fill="#7c7c7c"/>
<line x1="444.2" y1="654.88" x2="449.2" y2="654.88" stroke="#222" stroke-width="0.8"/>
<path stroke="#111" stroke-width="3.3" stroke-linecap="round" fill="none" d="M446.6 656.9h0M446.8 655.5h0M446.3 651.9h0M447.0 654.7h0M447.1 655.5h0M447.0 653.1h0M446.9 652.9h0M447.1 655.9h0M446.3 656.2h0M446.4 656.8h0M446.7 657.0h0M446.7 656.4h0M446.6 658.0h0M446.8 647.6h0"/>
<line x1="443.6" y1="663.9" x2="443.6" y2="666.6" stroke="#222" stroke-width="0.8"/>
<text x="444.6" y="676" font-size="6.8" fill="#1a1a1a" text-anchor="middle" font-style="italic" textLength="15.2" lengthAdjust="spacingAndGlyphs">IFNG</text>
<line x1="459.8" y1="638.24" x2="459.8" y2="658" stroke="#222" stroke-width="0.8"/>
<rect x="457.1" y="645.52" width="5.4" height="12.48" fill="#c0121c"/>
<line x1="457.1" y1="651.76" x2="462.5" y2="651.76" stroke="#222" stroke-width="0.8"/>
<path stroke="#111" stroke-width="3.3" stroke-linecap="round" fill="none" d="M459.9 648.3h0M459.3 655.1h0M459.5 647.0h0M459.7 648.9h0M459.9 649.8h0M459.8 646.1h0M459.5 648.9h0M459.4 641.7h0M460.0 651.2h0M459.5 653.8h0M459.7 657.1h0M459.8 641.1h0M459.9 658.0h0M459.6 638.2h0"/>
<line x1="465.8" y1="646.56" x2="465.8" y2="658" stroke="#222" stroke-width="0.8"/>
<rect x="463.3" y="652.8" width="5" height="5.2" fill="#7c7c7c"/>
<line x1="463.3" y1="655.92" x2="468.3" y2="655.92" stroke="#222" stroke-width="0.8"/>
<path stroke="#111" stroke-width="3.3" stroke-linecap="round" fill="none" d="M465.5 653.4h0M465.7 655.4h0M465.5 653.2h0M465.8 656.3h0M465.4 653.0h0M465.7 655.7h0M465.4 655.5h0M466.3 657.0h0M465.3 656.9h0M465.6 648.5h0M465.7 655.6h0M465.6 657.3h0M465.4 658.0h0M465.5 646.6h0"/>
<line x1="462.7" y1="663.9" x2="462.7" y2="666.6" stroke="#222" stroke-width="0.8"/>
<text x="463.8" y="676" font-size="6.8" fill="#1a1a1a" text-anchor="middle" font-style="italic" textLength="11.5" lengthAdjust="spacingAndGlyphs">TNF</text>
<line x1="478.9" y1="642.4" x2="478.9" y2="658" stroke="#222" stroke-width="0.8"/>
<rect x="476.2" y="645.52" width="5.4" height="12.48" fill="#c0121c"/>
<line x1="476.2" y1="651.76" x2="481.6" y2="651.76" stroke="#222" stroke-width="0.8"/>
<path stroke="#111" stroke-width="3.3" stroke-linecap="round" fill="none" d="M478.9 651.5h0M479.1 650.5h0M479.1 646.2h0M478.7 653.7h0M479.4 648.0h0M478.2 656.1h0M478.5 656.8h0M479.2 643.4h0M479.2 657.7h0M479.3 648.2h0M478.7 642.6h0M478.5 651.5h0M478.5 658.0h0M478.6 642.4h0"/>
<line x1="484.9" y1="649.68" x2="484.9" y2="658" stroke="#222" stroke-width="0.8"/>
<rect x="482.4" y="652.8" width="5" height="5.2" fill="#7c7c7c"/>
<line x1="482.4" y1="655.92" x2="487.4" y2="655.92" stroke="#222" stroke-width="0.8"/>
<path stroke="#111" stroke-width="3.3" stroke-linecap="round" fill="none" d="M485.0 657.0h0M484.8 657.7h0M484.8 657.0h0M485.0 656.2h0M484.8 654.7h0M484.9 655.5h0M485.3 658.0h0M484.7 655.9h0M484.9 651.2h0M484.7 651.6h0M485.1 654.0h0M484.6 656.5h0M484.6 658.0h0M485.1 649.7h0"/>
<line x1="481.8" y1="663.9" x2="481.8" y2="666.6" stroke="#222" stroke-width="0.8"/>
<text x="481" y="676" font-size="6.8" fill="#1a1a1a" text-anchor="middle" font-style="italic" textLength="15.5" lengthAdjust="spacingAndGlyphs">GZMB</text>
<line x1="498.5" y1="613.28" x2="498.5" y2="658" stroke="#222" stroke-width="0.8"/>
<rect x="495.8" y="634.08" width="5.4" height="17.68" fill="#c0121c"/>
<line x1="495.8" y1="643.44" x2="501.2" y2="643.44" stroke="#222" stroke-width="0.8"/>
<path stroke="#111" stroke-width="3.3" stroke-linecap="round" fill="none" d="M498.6 638.8h0M498.5 645.6h0M498.6 634.4h0M498.4 644.7h0M498.5 649.2h0M498.4 635.9h0M498.4 638.7h0M498.5 632.3h0M498.1 651.9h0M498.8 620.0h0M498.5 643.3h0M498.6 646.1h0M498.3 658.0h0M498.0 613.3h0"/>
<line x1="504.5" y1="632" x2="504.5" y2="654.88" stroke="#222" stroke-width="0.8"/>
<rect x="502" y="639.28" width="5" height="7.28" fill="#7c7c7c"/>
<line x1="502" y1="643.44" x2="507" y2="643.44" stroke="#222" stroke-width="0.8"/>
<path stroke="#111" stroke-width="3.3" stroke-linecap="round" fill="none" d="M504.5 641.1h0M504.4 639.8h0M503.9 640.0h0M504.8 644.3h0M504.9 639.4h0M504.4 640.3h0M504.6 644.9h0M504.9 632.8h0M504.7 649.6h0M503.8 636.3h0M504.8 643.8h0M504.0 648.3h0M504.4 654.9h0M504.9 632.0h0"/>
<line x1="501.4" y1="663.9" x2="501.4" y2="666.6" stroke="#222" stroke-width="0.8"/>
<text x="501.5" y="676" font-size="6.8" fill="#1a1a1a" text-anchor="middle" font-style="italic" textLength="13.9" lengthAdjust="spacingAndGlyphs">PRF1</text>
<text x="405.4" y="547" font-size="6.4" fill="#1a1a1a" text-anchor="middle">**</text>
<rect x="192.9" y="697.6" width="5.1" height="5.1" fill="#c0121c"/>
<text x="201.3" y="702.4" font-size="6.4" fill="#111" font-style="italic" textLength="49.5" lengthAdjust="spacingAndGlyphs">Expanded clones</text>
<rect x="260.6" y="697.6" width="5.1" height="5.1" fill="#7c7c7c"/>
<text x="269" y="702.4" font-size="6.4" fill="#111" font-style="italic" textLength="63.5" lengthAdjust="spacingAndGlyphs">Non-expanded clones</text>
<rect x="0.5" y="0.5" width="519" height="710" fill="none" stroke="#5c5c5c" stroke-width="1"/>
<line x1="518.5" y1="1" x2="518.5" y2="710" stroke="#dcdcdc" stroke-width="1"/>
<line x1="1" y1="709.5" x2="519" y2="709.5" stroke="#e4e4e4" stroke-width="1"/>
<line x1="1.5" y1="1" x2="1.5" y2="710" stroke="#e8e8e8" stroke-width="1"/>
</svg></body></html>
